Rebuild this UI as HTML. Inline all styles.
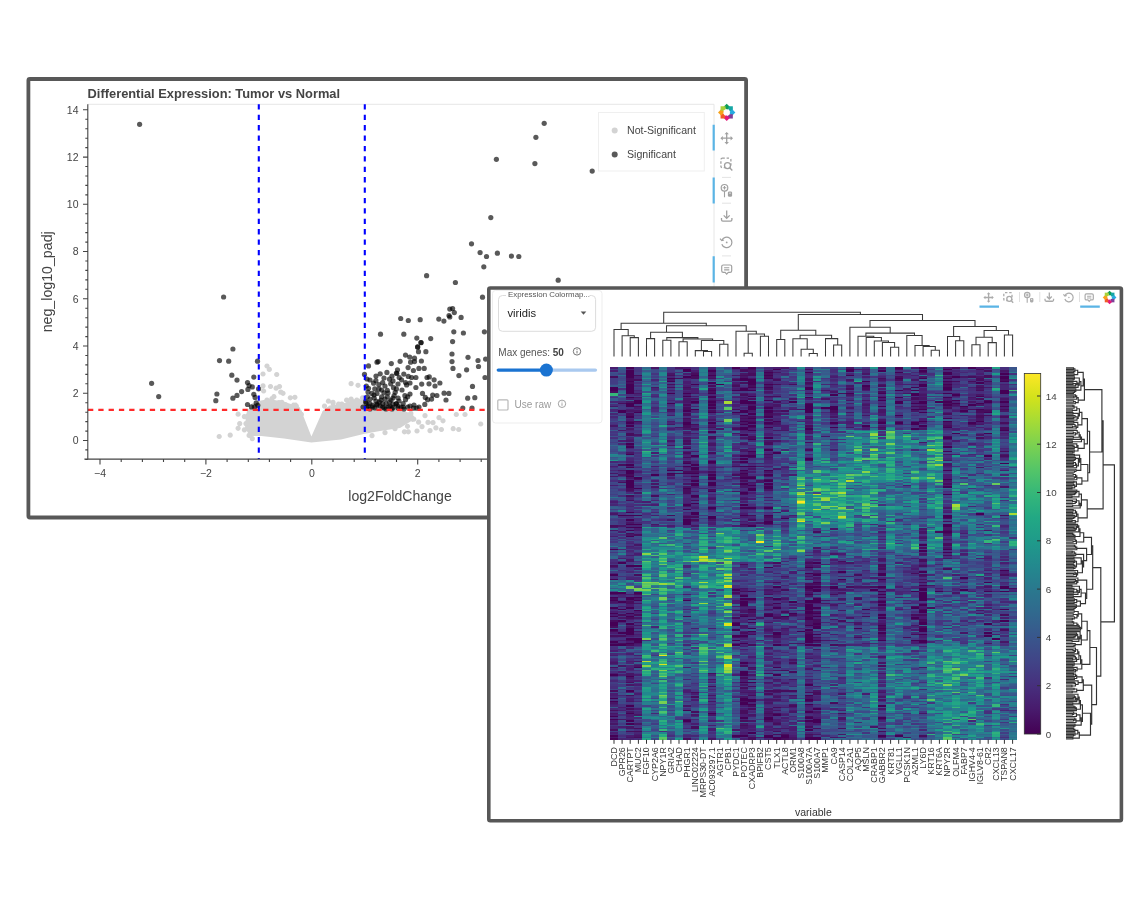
<!DOCTYPE html><html><head><meta charset="utf-8"><style>
html,body{margin:0;padding:0;background:#fff;}
body{width:1144px;height:922px;overflow:hidden;font-family:"Liberation Sans",sans-serif;}
svg{display:block;filter:blur(0.3px);}
text{font-family:"Liberation Sans",sans-serif;}
</style></head><body>
<svg width="1144" height="922" viewBox="0 0 1144 922">
<rect x="0" y="0" width="1144" height="922" fill="#fff"/>

<rect x="28.4" y="79" width="717.7" height="438.5" rx="1.5" fill="#fff" stroke="#585858" stroke-width="3.8"/>
<text x="87.6" y="97.7" font-size="12.85" font-weight="bold" fill="#444">Differential Expression: Tumor vs Normal</text>
<path d="M87.8 104.3H714V459.1" fill="none" stroke="#e6e6e6" stroke-width="1"/>
<path fill="#d3d3d3" d="M246 414L252 407L258.8 401L266 399.5L273 399.8L283 401.5L295.5 405.5L301 410L311.4 436.5L322.7 411L329.5 405.5L346.6 403.2L363.6 398.5L380 404L400 410L410 413L413 420L400 428L380 431L363.6 434L341 439.5L311.4 442.5L284 438.5L261.4 436L250 436L245 428Z"/>
<path fill="#d3d3d3" d="M285.7 402.3a2.6 2.6 0 1 0 .01 0zM346.8 404.7a2.6 2.6 0 1 0 .01 0zM350.5 404a2.6 2.6 0 1 0 .01 0zM385.9 407.8a2.6 2.6 0 1 0 .01 0zM289.3 404.9a2.6 2.6 0 1 0 .01 0zM324.5 403.5a2.6 2.6 0 1 0 .01 0zM385.7 404.4a2.6 2.6 0 1 0 .01 0zM271.1 401.4a2.6 2.6 0 1 0 .01 0zM352 401.8a2.6 2.6 0 1 0 .01 0zM369.8 400.5a2.6 2.6 0 1 0 .01 0zM358.1 398.3a2.6 2.6 0 1 0 .01 0zM344.7 404a2.6 2.6 0 1 0 .01 0zM296.3 403.5a2.6 2.6 0 1 0 .01 0zM324.9 410.4a2.6 2.6 0 1 0 .01 0zM366 398.7a2.6 2.6 0 1 0 .01 0zM399.8 409.4a2.6 2.6 0 1 0 .01 0zM379.7 400.6a2.6 2.6 0 1 0 .01 0zM392.8 408a2.6 2.6 0 1 0 .01 0zM262.3 401.3a2.6 2.6 0 1 0 .01 0zM407.2 413.7a2.6 2.6 0 1 0 .01 0zM350.6 403.3a2.6 2.6 0 1 0 .01 0zM343.7 403a2.6 2.6 0 1 0 .01 0zM343.6 402.7a2.6 2.6 0 1 0 .01 0zM401.1 410.5a2.6 2.6 0 1 0 .01 0zM389 405.2a2.6 2.6 0 1 0 .01 0zM273.2 401.8a2.6 2.6 0 1 0 .01 0zM389.7 403.8a2.6 2.6 0 1 0 .01 0zM341 405a2.6 2.6 0 1 0 .01 0zM365.2 400.1a2.6 2.6 0 1 0 .01 0zM341.8 401.5a2.6 2.6 0 1 0 .01 0zM293.6 402.6a2.6 2.6 0 1 0 .01 0zM411.3 414.6a2.6 2.6 0 1 0 .01 0zM260.8 402a2.6 2.6 0 1 0 .01 0zM271.2 399.5a2.6 2.6 0 1 0 .01 0zM295.1 407a2.6 2.6 0 1 0 .01 0zM253.4 402.9a2.6 2.6 0 1 0 .01 0zM348.6 401a2.6 2.6 0 1 0 .01 0zM301.3 411.8a2.6 2.6 0 1 0 .01 0zM393.1 407.2a2.6 2.6 0 1 0 .01 0zM412.7 416.7a2.6 2.6 0 1 0 .01 0zM297.7 406.5a2.6 2.6 0 1 0 .01 0zM251.2 408.5a2.6 2.6 0 1 0 .01 0zM279 400.1a2.6 2.6 0 1 0 .01 0zM272.1 400.1a2.6 2.6 0 1 0 .01 0zM253.1 406.8a2.6 2.6 0 1 0 .01 0zM406.1 412.9a2.6 2.6 0 1 0 .01 0zM395.7 408.9a2.6 2.6 0 1 0 .01 0zM332.8 405.3a2.6 2.6 0 1 0 .01 0zM353.5 400.8a2.6 2.6 0 1 0 .01 0zM349.6 402.8a2.6 2.6 0 1 0 .01 0zM403.1 410.7a2.6 2.6 0 1 0 .01 0zM366.3 401.5a2.6 2.6 0 1 0 .01 0zM285.7 402.4a2.6 2.6 0 1 0 .01 0zM333 400.7a2.6 2.6 0 1 0 .01 0zM337.6 404a2.6 2.6 0 1 0 .01 0zM342.8 405.7a2.6 2.6 0 1 0 .01 0zM249.3 409.7a2.6 2.6 0 1 0 .01 0zM256 403.3a2.6 2.6 0 1 0 .01 0zM350.8 400.6a2.6 2.6 0 1 0 .01 0zM364.1 400.1a2.6 2.6 0 1 0 .01 0zM369.2 401.7a2.6 2.6 0 1 0 .01 0zM358.9 401.9a2.6 2.6 0 1 0 .01 0zM406.9 414.8a2.6 2.6 0 1 0 .01 0zM345 402.9a2.6 2.6 0 1 0 .01 0zM299.4 409.5a2.6 2.6 0 1 0 .01 0zM345.5 403.9a2.6 2.6 0 1 0 .01 0zM296.2 405.2a2.6 2.6 0 1 0 .01 0zM250.5 408a2.6 2.6 0 1 0 .01 0zM341.1 405.9a2.6 2.6 0 1 0 .01 0zM283.2 401.6a2.6 2.6 0 1 0 .01 0zM380.2 406.2a2.6 2.6 0 1 0 .01 0zM362.6 399.4a2.6 2.6 0 1 0 .01 0zM263 401.3a2.6 2.6 0 1 0 .01 0zM385.2 405.7a2.6 2.6 0 1 0 .01 0zM388.9 407.8a2.6 2.6 0 1 0 .01 0zM354.6 401.2a2.6 2.6 0 1 0 .01 0zM393.8 408.6a2.6 2.6 0 1 0 .01 0zM266.2 401.2a2.6 2.6 0 1 0 .01 0zM334.4 405.4a2.6 2.6 0 1 0 .01 0zM386 403.8a2.6 2.6 0 1 0 .01 0zM276.7 401.8a2.6 2.6 0 1 0 .01 0zM353.2 399.1a2.6 2.6 0 1 0 .01 0zM380.6 405.7a2.6 2.6 0 1 0 .01 0zM294.7 406.4a2.6 2.6 0 1 0 .01 0zM378.6 405.4a2.6 2.6 0 1 0 .01 0zM399.7 409.8a2.6 2.6 0 1 0 .01 0zM272 396a2.6 2.6 0 1 0 .01 0zM393 409.9a2.6 2.6 0 1 0 .01 0zM410.8 410.8a2.6 2.6 0 1 0 .01 0zM400.9 410.1a2.6 2.6 0 1 0 .01 0zM283.1 403.6a2.6 2.6 0 1 0 .01 0zM356.7 397.8a2.6 2.6 0 1 0 .01 0zM332.7 406.7a2.6 2.6 0 1 0 .01 0zM284 401.8a2.6 2.6 0 1 0 .01 0zM257.4 402.7a2.6 2.6 0 1 0 .01 0zM381.3 405.5a2.6 2.6 0 1 0 .01 0zM253.5 404.7a2.6 2.6 0 1 0 .01 0zM400.3 410.1a2.6 2.6 0 1 0 .01 0zM395.7 408.3a2.6 2.6 0 1 0 .01 0zM219.2 433.9a2.6 2.6 0 1 0 .01 0zM230.2 432.5a2.6 2.6 0 1 0 .01 0zM238.1 425.7a2.6 2.6 0 1 0 .01 0zM244.4 427.3a2.6 2.6 0 1 0 .01 0zM239.7 421a2.6 2.6 0 1 0 .01 0zM246 421a2.6 2.6 0 1 0 .01 0zM238.1 411.6a2.6 2.6 0 1 0 .01 0zM244.4 414a2.6 2.6 0 1 0 .01 0zM249.1 432.8a2.6 2.6 0 1 0 .01 0zM252.3 436a2.6 2.6 0 1 0 .01 0zM267 363.4a2.6 2.6 0 1 0 .01 0zM269.3 366.8a2.6 2.6 0 1 0 .01 0zM263 371.4a2.6 2.6 0 1 0 .01 0zM276.7 371.9a2.6 2.6 0 1 0 .01 0zM263 383.3a2.6 2.6 0 1 0 .01 0zM270.5 383.9a2.6 2.6 0 1 0 .01 0zM276.1 385.6a2.6 2.6 0 1 0 .01 0zM279.5 383.9a2.6 2.6 0 1 0 .01 0zM263.6 388.4a2.6 2.6 0 1 0 .01 0zM280.7 389.5a2.6 2.6 0 1 0 .01 0zM283 390.7a2.6 2.6 0 1 0 .01 0zM267 397.5a2.6 2.6 0 1 0 .01 0zM273.9 394.1a2.6 2.6 0 1 0 .01 0zM281.8 399.8a2.6 2.6 0 1 0 .01 0zM290.3 395.2a2.6 2.6 0 1 0 .01 0zM294.9 394.7a2.6 2.6 0 1 0 .01 0zM295.5 402.6a2.6 2.6 0 1 0 .01 0zM351.1 381a2.6 2.6 0 1 0 .01 0zM358 382.7a2.6 2.6 0 1 0 .01 0zM328.4 398.6a2.6 2.6 0 1 0 .01 0zM333 399.8a2.6 2.6 0 1 0 .01 0zM338.6 401.5a2.6 2.6 0 1 0 .01 0zM346.6 397.5a2.6 2.6 0 1 0 .01 0zM351.1 396.4a2.6 2.6 0 1 0 .01 0zM356.8 397.5a2.6 2.6 0 1 0 .01 0zM362.5 395.2a2.6 2.6 0 1 0 .01 0zM410.7 412.7a2.6 2.6 0 1 0 .01 0zM418.6 419.5a2.6 2.6 0 1 0 .01 0zM413.8 416.6a2.6 2.6 0 1 0 .01 0zM428 419.8a2.6 2.6 0 1 0 .01 0zM439 415a2.6 2.6 0 1 0 .01 0zM443 418.2a2.6 2.6 0 1 0 .01 0zM435.9 425.3a2.6 2.6 0 1 0 .01 0zM441.4 426.9a2.6 2.6 0 1 0 .01 0zM453.2 426.1a2.6 2.6 0 1 0 .01 0zM458.7 426.9a2.6 2.6 0 1 0 .01 0zM456.3 411.9a2.6 2.6 0 1 0 .01 0zM465 411.9a2.6 2.6 0 1 0 .01 0zM480.7 421.4a2.6 2.6 0 1 0 .01 0zM404.4 429.2a2.6 2.6 0 1 0 .01 0zM408.3 429.2a2.6 2.6 0 1 0 .01 0zM417 428.4a2.6 2.6 0 1 0 .01 0zM407.5 423.7a2.6 2.6 0 1 0 .01 0zM395 426a2.6 2.6 0 1 0 .01 0zM422 424a2.6 2.6 0 1 0 .01 0zM430 428a2.6 2.6 0 1 0 .01 0zM385 430a2.6 2.6 0 1 0 .01 0zM372 433a2.6 2.6 0 1 0 .01 0zM425 413a2.6 2.6 0 1 0 .01 0zM433 420a2.6 2.6 0 1 0 .01 0z"/>
<g fill="#000" fill-opacity="0.65"><circle cx="139.6" cy="124.3" r="2.6"/><circle cx="223.6" cy="297" r="2.6"/><circle cx="544.2" cy="123.3" r="2.6"/><circle cx="535.9" cy="137.3" r="2.6"/><circle cx="496.4" cy="159.3" r="2.6"/><circle cx="534.9" cy="163.6" r="2.6"/><circle cx="592.2" cy="171.1" r="2.6"/><circle cx="490.8" cy="217.6" r="2.6"/><circle cx="471.5" cy="243.8" r="2.6"/><circle cx="480.1" cy="252.6" r="2.6"/><circle cx="486.5" cy="256.5" r="2.6"/><circle cx="497.4" cy="253.2" r="2.6"/><circle cx="511.4" cy="256.1" r="2.6"/><circle cx="518.8" cy="256.5" r="2.6"/><circle cx="483.8" cy="266.8" r="2.6"/><circle cx="426.6" cy="275.7" r="2.6"/><circle cx="455.4" cy="282.5" r="2.6"/><circle cx="558.2" cy="280.2" r="2.6"/><circle cx="232.9" cy="349" r="2.6"/><circle cx="219.5" cy="360.6" r="2.6"/><circle cx="228.7" cy="361.2" r="2.6"/><circle cx="257.5" cy="361.2" r="2.6"/><circle cx="231.8" cy="375.2" r="2.6"/><circle cx="237" cy="380.1" r="2.6"/><circle cx="253.8" cy="377.1" r="2.6"/><circle cx="151.6" cy="383.3" r="2.6"/><circle cx="247.5" cy="382.5" r="2.6"/><circle cx="249.1" cy="385.6" r="2.6"/><circle cx="252.3" cy="386.9" r="2.6"/><circle cx="247.9" cy="389.4" r="2.6"/><circle cx="258.6" cy="388.8" r="2.6"/><circle cx="241.6" cy="391.6" r="2.6"/><circle cx="237" cy="395.4" r="2.6"/><circle cx="232.9" cy="398.2" r="2.6"/><circle cx="216.9" cy="394" r="2.6"/><circle cx="215.8" cy="400.7" r="2.6"/><circle cx="158.7" cy="396.6" r="2.6"/><circle cx="253.8" cy="394.3" r="2.6"/><circle cx="255.1" cy="397.4" r="2.6"/><circle cx="247.5" cy="404.5" r="2.6"/><circle cx="251.5" cy="406.9" r="2.6"/><circle cx="256.2" cy="402.9" r="2.6"/><circle cx="254.6" cy="406.9" r="2.6"/><circle cx="257.8" cy="405.3" r="2.6"/><circle cx="482.5" cy="297.2" r="2.6"/><circle cx="449.8" cy="309.1" r="2.6"/><circle cx="452.6" cy="308.5" r="2.6"/><circle cx="454.3" cy="312.6" r="2.6"/><circle cx="449" cy="315.5" r="2.6"/><circle cx="449.8" cy="317" r="2.6"/><circle cx="461.1" cy="317.4" r="2.6"/><circle cx="400.7" cy="318.5" r="2.6"/><circle cx="408.3" cy="320.5" r="2.6"/><circle cx="420.2" cy="319.7" r="2.6"/><circle cx="438.8" cy="319.1" r="2.6"/><circle cx="443.9" cy="321.1" r="2.6"/><circle cx="380.5" cy="334.2" r="2.6"/><circle cx="403.8" cy="334.2" r="2.6"/><circle cx="453.8" cy="331.8" r="2.6"/><circle cx="463.4" cy="333" r="2.6"/><circle cx="484.4" cy="331.8" r="2.6"/><circle cx="416.8" cy="338.1" r="2.6"/><circle cx="430.7" cy="338.6" r="2.6"/><circle cx="421" cy="342.7" r="2.6"/><circle cx="452.6" cy="341.6" r="2.6"/><circle cx="417.6" cy="346.9" r="2.6"/><circle cx="421" cy="342.5" r="2.6"/><circle cx="417.7" cy="347" r="2.6"/><circle cx="418.5" cy="351.7" r="2.6"/><circle cx="425.9" cy="351.7" r="2.6"/><circle cx="452" cy="354" r="2.6"/><circle cx="452" cy="361.6" r="2.6"/><circle cx="453" cy="368.4" r="2.6"/><circle cx="468" cy="357.3" r="2.6"/><circle cx="478" cy="360.5" r="2.6"/><circle cx="478.5" cy="366.5" r="2.6"/><circle cx="485.6" cy="359.1" r="2.6"/><circle cx="466.6" cy="369.8" r="2.6"/><circle cx="458.9" cy="375.6" r="2.6"/><circle cx="485" cy="377.5" r="2.6"/><circle cx="472.5" cy="386.4" r="2.6"/><circle cx="467.7" cy="398.2" r="2.6"/><circle cx="474.8" cy="397.7" r="2.6"/><circle cx="462.8" cy="408" r="2.6"/><circle cx="472" cy="408" r="2.6"/><circle cx="444.1" cy="393.2" r="2.6"/><circle cx="448.9" cy="393.4" r="2.6"/><circle cx="446" cy="400" r="2.6"/><circle cx="439.9" cy="383" r="2.6"/><circle cx="435" cy="386" r="2.6"/><circle cx="429" cy="383.8" r="2.6"/><circle cx="434.1" cy="379.8" r="2.6"/><circle cx="429.3" cy="376.9" r="2.6"/><circle cx="427" cy="377.5" r="2.6"/><circle cx="421.7" cy="384.1" r="2.6"/><circle cx="415.9" cy="387.5" r="2.6"/><circle cx="415.9" cy="377.5" r="2.6"/><circle cx="411.7" cy="377.5" r="2.6"/><circle cx="424.2" cy="368.4" r="2.6"/><circle cx="418.9" cy="368.4" r="2.6"/><circle cx="421.4" cy="361" r="2.6"/><circle cx="414.5" cy="358.2" r="2.6"/><circle cx="414.5" cy="361.6" r="2.6"/><circle cx="410.6" cy="362.2" r="2.6"/><circle cx="409.7" cy="357" r="2.6"/><circle cx="405.5" cy="355.1" r="2.6"/><circle cx="400.1" cy="361.3" r="2.6"/><circle cx="391.3" cy="363.6" r="2.6"/><circle cx="377" cy="362.2" r="2.6"/><circle cx="378.2" cy="361.6" r="2.6"/><circle cx="368.5" cy="365.9" r="2.6"/><circle cx="364.5" cy="374.4" r="2.6"/><circle cx="380.2" cy="373.8" r="2.6"/><circle cx="386.9" cy="372.4" r="2.6"/><circle cx="397.5" cy="369.8" r="2.6"/><circle cx="396.9" cy="373.5" r="2.6"/><circle cx="408.1" cy="367.6" r="2.6"/><circle cx="413.4" cy="370.5" r="2.6"/><circle cx="403.8" cy="374.1" r="2.6"/><circle cx="408.3" cy="376.4" r="2.6"/><circle cx="399.2" cy="377.5" r="2.6"/><circle cx="401.5" cy="379.8" r="2.6"/><circle cx="405.5" cy="382.6" r="2.6"/><circle cx="406.6" cy="384.9" r="2.6"/><circle cx="410" cy="383" r="2.6"/><circle cx="389.5" cy="379.2" r="2.6"/><circle cx="393" cy="380.9" r="2.6"/><circle cx="390.7" cy="383.8" r="2.6"/><circle cx="382.7" cy="382.6" r="2.6"/><circle cx="375.9" cy="380.7" r="2.6"/><circle cx="373.6" cy="383.2" r="2.6"/><circle cx="378.8" cy="384.7" r="2.6"/><circle cx="366.3" cy="386" r="2.6"/><circle cx="368.5" cy="388.3" r="2.6"/><circle cx="374.8" cy="388.9" r="2.6"/><circle cx="381.6" cy="390" r="2.6"/><circle cx="387.3" cy="390.3" r="2.6"/><circle cx="393.5" cy="387.7" r="2.6"/><circle cx="396.4" cy="388.9" r="2.6"/><circle cx="395.2" cy="392.3" r="2.6"/><circle cx="371.9" cy="393.4" r="2.6"/><circle cx="377" cy="393.4" r="2.6"/><circle cx="383.9" cy="392.8" r="2.6"/><circle cx="387.3" cy="396.8" r="2.6"/><circle cx="381.6" cy="396.8" r="2.6"/><circle cx="374.2" cy="398" r="2.6"/><circle cx="367.4" cy="396.8" r="2.6"/><circle cx="365.7" cy="401.4" r="2.6"/><circle cx="398.1" cy="398" r="2.6"/><circle cx="394.1" cy="395.7" r="2.6"/><circle cx="410" cy="394" r="2.6"/><circle cx="407.7" cy="396.8" r="2.6"/><circle cx="404.9" cy="395.7" r="2.6"/><circle cx="405.5" cy="399.7" r="2.6"/><circle cx="403.2" cy="403.6" r="2.6"/><circle cx="422.5" cy="393.4" r="2.6"/><circle cx="425.3" cy="397.4" r="2.6"/><circle cx="427.6" cy="399.7" r="2.6"/><circle cx="432.7" cy="395.1" r="2.6"/><circle cx="436.9" cy="395.5" r="2.6"/><circle cx="431.6" cy="399.1" r="2.6"/><circle cx="424.8" cy="404.4" r="2.6"/><circle cx="369.7" cy="403.6" r="2.6"/><circle cx="372.5" cy="405.3" r="2.6"/><circle cx="379.3" cy="401.9" r="2.6"/><circle cx="382.7" cy="403.6" r="2.6"/><circle cx="386.1" cy="403.6" r="2.6"/><circle cx="389.5" cy="401.9" r="2.6"/><circle cx="393" cy="404.2" r="2.6"/><circle cx="396.4" cy="403.6" r="2.6"/><circle cx="366.8" cy="407" r="2.6"/><circle cx="372.5" cy="407" r="2.6"/><circle cx="382.7" cy="407" r="2.6"/><circle cx="388.4" cy="407" r="2.6"/><circle cx="393" cy="407.6" r="2.6"/><circle cx="403.2" cy="407" r="2.6"/><circle cx="407.7" cy="407" r="2.6"/><circle cx="413.4" cy="408.2" r="2.6"/><circle cx="416.8" cy="408.2" r="2.6"/><circle cx="396.4" cy="373" r="2.6"/><circle cx="370" cy="399" r="2.6"/><circle cx="376" cy="401" r="2.6"/><circle cx="385" cy="399" r="2.6"/><circle cx="391" cy="400" r="2.6"/><circle cx="368" cy="392" r="2.6"/><circle cx="379" cy="389" r="2.6"/><circle cx="385" cy="386" r="2.6"/><circle cx="399" cy="401" r="2.6"/><circle cx="370" cy="380" r="2.6"/><circle cx="376" cy="376" r="2.6"/><circle cx="384" cy="378" r="2.6"/><circle cx="392" cy="376" r="2.6"/><circle cx="398" cy="384" r="2.6"/><circle cx="402" cy="390" r="2.6"/><circle cx="388" cy="393" r="2.6"/><circle cx="377" cy="405" r="2.6"/><circle cx="384" cy="408" r="2.6"/><circle cx="398" cy="408" r="2.6"/><circle cx="367" cy="379" r="2.6"/><circle cx="393" cy="398" r="2.6"/><circle cx="381" cy="400" r="2.6"/><circle cx="374" cy="395" r="2.6"/><circle cx="390" cy="406" r="2.6"/><circle cx="368" cy="406" r="2.6"/><circle cx="375" cy="408" r="2.6"/><circle cx="380" cy="406" r="2.6"/><circle cx="386" cy="409" r="2.6"/><circle cx="392" cy="409" r="2.6"/><circle cx="398" cy="406" r="2.6"/><circle cx="404" cy="409" r="2.6"/><circle cx="410" cy="406" r="2.6"/><circle cx="370" cy="409" r="2.6"/><circle cx="377" cy="404" r="2.6"/><circle cx="396" cy="404" r="2.6"/><circle cx="401" cy="407" r="2.6"/><circle cx="414" cy="405" r="2.6"/><circle cx="419" cy="407" r="2.6"/><circle cx="363" cy="407" r="2.6"/><circle cx="366" cy="403" r="2.6"/></g>
<!--DARKCLUSTER-->
<path d="M258.8 104.3V459.1M364.8 104.3V459.1" stroke="#0000ff" stroke-width="2.1" stroke-dasharray="5.3 5.1"/>
<path d="M88 409.8H714" stroke="#ff2a2a" stroke-width="2.2" stroke-dasharray="5.3 5"/>
<path d="M87.8 104.3V459.1M84.4 459.1H714M83 440.5H87.8M83 393.3H87.8M83 346H87.8M83 298.8H87.8M83 251.5H87.8M83 204.3H87.8M83 157.1H87.8M83 109.8H87.8M85.3 459.4H87.8M85.3 449.9H87.8M85.3 431.1H87.8M85.3 421.6H87.8M85.3 412.2H87.8M85.3 402.7H87.8M85.3 383.8H87.8M85.3 374.4H87.8M85.3 364.9H87.8M85.3 355.5H87.8M85.3 336.6H87.8M85.3 327.1H87.8M85.3 317.7H87.8M85.3 308.2H87.8M85.3 289.3H87.8M85.3 279.9H87.8M85.3 270.4H87.8M85.3 261H87.8M85.3 242.1H87.8M85.3 232.6H87.8M85.3 223.2H87.8M85.3 213.7H87.8M85.3 194.9H87.8M85.3 185.4H87.8M85.3 176H87.8M85.3 166.5H87.8M85.3 147.6H87.8M85.3 138.2H87.8M85.3 128.7H87.8M85.3 119.3H87.8M100 459.1V464.6M205.9 459.1V464.6M311.8 459.1V464.6M417.7 459.1V464.6M523.6 459.1V464.6M629.5 459.1V464.6M121.2 459.1V461.9M142.4 459.1V461.9M163.5 459.1V461.9M184.7 459.1V461.9M227.1 459.1V461.9M248.3 459.1V461.9M269.4 459.1V461.9M290.6 459.1V461.9M333 459.1V461.9M354.2 459.1V461.9M375.3 459.1V461.9M396.5 459.1V461.9M438.9 459.1V461.9M460.1 459.1V461.9M481.2 459.1V461.9M502.4 459.1V461.9M544.8 459.1V461.9M566 459.1V461.9M587.1 459.1V461.9M608.3 459.1V461.9M650.7 459.1V461.9M671.9 459.1V461.9M693 459.1V461.9M714.2 459.1V461.9" stroke="#444" stroke-width="1.1" fill="none"/>
<g font-size="10.5" fill="#444"><text x="78.5" y="444.2" text-anchor="end">0</text><text x="78.5" y="397" text-anchor="end">2</text><text x="78.5" y="349.7" text-anchor="end">4</text><text x="78.5" y="302.5" text-anchor="end">6</text><text x="78.5" y="255.2" text-anchor="end">8</text><text x="78.5" y="208" text-anchor="end">10</text><text x="78.5" y="160.8" text-anchor="end">12</text><text x="78.5" y="113.5" text-anchor="end">14</text><text x="100" y="476.6" text-anchor="middle">−4</text><text x="205.9" y="476.6" text-anchor="middle">−2</text><text x="311.8" y="476.6" text-anchor="middle">0</text><text x="417.7" y="476.6" text-anchor="middle">2</text><text x="523.6" y="476.6" text-anchor="middle">4</text><text x="629.5" y="476.6" text-anchor="middle">6</text></g>
<text x="400" y="501.2" font-size="14.1" fill="#444" text-anchor="middle">log2FoldChange</text>
<text transform="translate(51.6 281.8) rotate(-90)" font-size="14.2" fill="#444" text-anchor="middle">neg_log10_padj</text>
<rect x="598.5" y="112.5" width="105.8" height="58.5" fill="#fff" fill-opacity="0.9" stroke="#efefef" stroke-width="1"/>
<circle cx="614.7" cy="130.5" r="3" fill="#d3d3d3"/><circle cx="614.7" cy="154.5" r="3" fill="#000" fill-opacity="0.65"/>
<text x="627" y="133.6" font-size="10.6" fill="#444">Not-Significant</text><text x="627" y="157.8" font-size="10.6" fill="#444">Significant</text>
<rect x="724.52" y="104.62" width="4.37" height="5.02" fill="#0d9d58" transform="rotate(-45.0 726.70 106.80)"/><rect x="728.48" y="106.26" width="4.37" height="5.02" fill="#16a7a4" transform="rotate(0.0 730.66 108.44)"/><rect x="730.12" y="110.22" width="4.37" height="5.02" fill="#27aae1" transform="rotate(45.0 732.30 112.40)"/><rect x="728.48" y="114.18" width="4.37" height="5.02" fill="#7f3f98" transform="rotate(90.0 730.66 116.36)"/><rect x="724.52" y="115.82" width="4.37" height="5.02" fill="#e4197c" transform="rotate(135.0 726.70 118.00)"/><rect x="720.56" y="114.18" width="4.37" height="5.02" fill="#f15a29" transform="rotate(180.0 722.74 116.36)"/><rect x="718.92" y="110.22" width="4.37" height="5.02" fill="#f7a21b" transform="rotate(225.0 721.10 112.40)"/><rect x="720.56" y="106.26" width="4.37" height="5.02" fill="#a9d038" transform="rotate(270.0 722.74 108.44)"/><circle cx="726.70" cy="112.40" r="3.20" fill="#fff"/>
<path d="M726.70 133.70V142.70M722.20 138.20H731.20" stroke="#a0a0a0" stroke-width="1.3" fill="none"/><path d="M726.70 131.90L724.50 134.30L728.90 134.30ZM726.70 144.50L724.50 142.10L728.90 142.10ZM720.40 138.20L722.80 136.00L722.80 140.40ZM733.00 138.20L730.60 136.00L730.60 140.40Z" fill="#a0a0a0"/>
<rect x="720.9" y="158.2" width="10.0" height="9.5" rx="1.5" stroke="#a0a0a0" stroke-width="1.3" fill="none" stroke-dasharray="2.4 1.8"/><circle cx="727.5" cy="165.6" r="3.0" stroke="#a0a0a0" stroke-width="1.3" fill="#fff"/><path d="M729.7 167.8l2.6 2.6" stroke="#a0a0a0" stroke-width="1.4"/>
<circle cx="724.5" cy="187.8" r="3.3" stroke="#a0a0a0" stroke-width="1.2" fill="none"/><path d="M724.5 186.0v3.6M722.7 187.8h3.6M724.5 191.1v6.2" stroke="#a0a0a0" stroke-width="1.1"/><rect x="727.9" y="191.4" width="4.2" height="5.4" rx="1.4" fill="#a0a0a0"/><path d="M730.0 192.4v1.6" stroke="#fff" stroke-width="0.8"/>
<path d="M726.70 210.60V218.20M723.70 215.40L726.70 218.40L729.70 215.40M721.50 218.10V219.80Q721.50 221.20 722.90 221.20H730.50Q731.90 221.20 731.90 219.80V218.10" stroke="#a0a0a0" stroke-width="1.3" fill="none"/>
<path d="M721.81 244.18A5.20 5.20 0 1 0 721.81 240.62" stroke="#a0a0a0" stroke-width="1.2" fill="none"/><path d="M720.0 238.6l1.8 2.0l2.2 -0.6" stroke="#a0a0a0" stroke-width="1.2" fill="none"/><circle cx="726.7" cy="242.4" r="0.9" fill="#a0a0a0"/>
<path d="M723.30 265.00H730.10Q731.70 265.00 731.70 266.60V270.70Q731.70 272.30 730.10 272.30H728.30L726.70 274.10L725.10 272.30H723.30Q721.70 272.30 721.70 270.70V266.60Q721.70 265.00 723.30 265.00Z" stroke="#a0a0a0" stroke-width="1.2" fill="none"/><path d="M724.10 267.70h5.20M724.10 269.90h5.20" stroke="#a0a0a0" stroke-width="1.1"/>
<path d="M722 177.4h9M722 203.2h9M722 255.9h9" stroke="#e3e3e3" stroke-width="1"/>
<path d="M713.7 124.8V150.6M713.7 177.5V203.4M713.7 256.3V282.4" stroke="#5ab4e5" stroke-width="2.2"/>
<rect x="488.8" y="288" width="632.6" height="532.8" rx="1.5" fill="#fff" stroke="#575757" stroke-width="3.6"/>
<rect x="492.5" y="290.5" width="109.5" height="132.5" rx="3" fill="#fff" stroke="#ededed" stroke-width="1"/>
<path d="M506 295.5H502.5Q498.5 295.5 498.5 299.5V327.3Q498.5 331.3 502.5 331.3H591.6Q595.6 331.3 595.6 327.3V299.5Q595.6 295.5 591.6 295.5H589.5" fill="none" stroke="#dcdcdc" stroke-width="1"/>
<text x="508" y="297" font-size="7.9" fill="#555">Expression Colormap...</text>
<text x="507.5" y="316.6" font-size="11.2" fill="#222">viridis</text>
<path d="M580.7 311.5h5.6l-2.8 3.3z" fill="#555"/>
<text x="498.3" y="355.8" font-size="10" fill="#555">Max genes: <tspan font-weight="bold" fill="#444">50</tspan></text>
<circle cx="577.0" cy="351.4" r="3.7" fill="none" stroke="#666" stroke-width="0.9"/><path d="M577.0 350.8v2.6" stroke="#666" stroke-width="0.9"/><circle cx="577.0" cy="349.5" r="0.5" fill="#666"/>
<path d="M498.3 370.1H546.4" stroke="#1a73d1" stroke-width="3.4" stroke-linecap="round"/><path d="M546.4 370.1H595.4" stroke="#a9c9ef" stroke-width="3.4" stroke-linecap="round"/>
<circle cx="546.4" cy="370.1" r="6.5" fill="#1a73d1"/>
<rect x="497.8" y="399.8" width="10.2" height="10.2" rx="1" fill="#fff" stroke="#b8b8b8" stroke-width="1.2"/>
<text x="514.5" y="407.9" font-size="10" fill="#9a9a9a">Use raw</text>
<circle cx="562.0" cy="403.8" r="3.7" fill="none" stroke="#999" stroke-width="0.9"/><path d="M562.0 403.2v2.6" stroke="#999" stroke-width="0.9"/><circle cx="562.0" cy="401.9" r="0.5" fill="#999"/>
<path d="M988.60 293.81V301.19M984.91 297.50H992.29" stroke="#ababab" stroke-width="1.3" fill="none"/><path d="M988.60 292.33L986.80 294.30L990.40 294.30ZM988.60 302.67L986.80 300.70L990.40 300.70ZM983.43 297.50L985.40 295.70L985.40 299.30ZM993.77 297.50L991.80 295.70L991.80 299.30Z" fill="#ababab"/>
<rect x="1003.8" y="292.7" width="8.2" height="7.8" rx="1.2" stroke="#ababab" stroke-width="1.3" fill="none" stroke-dasharray="2.4 1.8"/><circle cx="1009.3" cy="298.8" r="2.5" stroke="#ababab" stroke-width="1.3" fill="#fff"/><path d="M1011.1 300.6l2.1 2.1" stroke="#ababab" stroke-width="1.4"/>
<circle cx="1027.2" cy="295.0" r="2.7" stroke="#ababab" stroke-width="1.2" fill="none"/><path d="M1027.2 293.6v3.0M1025.7 295.0h3.0M1027.2 297.7v5.1" stroke="#ababab" stroke-width="1.1"/><rect x="1030.0" y="298.0" width="3.4" height="4.4" rx="1.1" fill="#ababab"/><path d="M1031.7 298.8v1.3" stroke="#fff" stroke-width="0.8"/>
<path d="M1049.30 292.58V298.81M1046.84 296.52L1049.30 298.98L1051.76 296.52M1045.04 298.73V300.12Q1045.04 301.27 1046.18 301.27H1052.42Q1053.56 301.27 1053.56 300.12V298.73" stroke="#ababab" stroke-width="1.3" fill="none"/>
<path d="M1064.89 298.96A4.26 4.26 0 1 0 1064.89 296.04" stroke="#ababab" stroke-width="1.2" fill="none"/><path d="M1063.4 294.4l1.5 1.6l1.8 -0.5" stroke="#ababab" stroke-width="1.2" fill="none"/><circle cx="1068.9" cy="297.5" r="0.7" fill="#ababab"/>
<path d="M1086.41 293.97H1091.99Q1093.30 293.97 1093.30 295.29V298.65Q1093.30 299.96 1091.99 299.96H1090.51L1089.20 301.44L1087.89 299.96H1086.41Q1085.10 299.96 1085.10 298.65V295.29Q1085.10 293.97 1086.41 293.97Z" stroke="#ababab" stroke-width="1.2" fill="none"/><path d="M1087.07 296.19h4.26M1087.07 297.99h4.26" stroke="#ababab" stroke-width="1.1"/>
<rect x="1107.86" y="291.36" width="3.47" height="3.99" fill="#0d9d58" transform="rotate(-45.0 1109.60 293.10)"/><rect x="1110.98" y="292.65" width="3.47" height="3.99" fill="#16a7a4" transform="rotate(0.0 1112.71 294.39)"/><rect x="1112.26" y="295.76" width="3.47" height="3.99" fill="#27aae1" transform="rotate(45.0 1114.00 297.50)"/><rect x="1110.98" y="298.88" width="3.47" height="3.99" fill="#7f3f98" transform="rotate(90.0 1112.71 300.61)"/><rect x="1107.86" y="300.16" width="3.47" height="3.99" fill="#e4197c" transform="rotate(135.0 1109.60 301.90)"/><rect x="1104.75" y="298.88" width="3.47" height="3.99" fill="#f15a29" transform="rotate(180.0 1106.49 300.61)"/><rect x="1103.46" y="295.76" width="3.47" height="3.99" fill="#f7a21b" transform="rotate(225.0 1105.20 297.50)"/><rect x="1104.75" y="292.65" width="3.47" height="3.99" fill="#a9d038" transform="rotate(270.0 1106.49 294.39)"/><circle cx="1109.60" cy="297.50" r="2.00" fill="#fff"/>
<path d="M1019.5 292v10M1039.8 292v10M1079.5 292v10" stroke="#e0e0e0" stroke-width="1"/>
<path d="M979.5 306.7H999M1080.2 306.7H1099.8" stroke="#5ab4e5" stroke-width="2.2"/>
<path d="M630.2 356.5V337.6H638.4V356.5M622.1 356.5V335.7H634.3V337.6M614 356.5V329.4H628.2V335.7M646.5 356.5V338.6H654.6V356.5M662.8 356.5V340.2H670.9V356.5M679 356.5V341.7H687.2V356.5M703.5 356.5V351.5H711.6V356.5M695.3 356.5V350.6H707.5V351.5M719.7 356.5V344.2H727.9V356.5M701.4 350.6V340.5H723.8V344.2M683.1 341.7V339H712.6V340.5M666.8 340.2V337.6H697.9V339M650.6 338.6V332.3H682.4V337.6M744.1 356.5V353.3H752.3V356.5M760.4 356.5V336.2H768.5V356.5M748.2 353.3V333.9H764.5V336.2M736 356.5V331.2H756.3V333.9M666.5 332.3V325.8H746.2V331.2M621.1 329.4V323.2H706.3V325.8M776.7 356.5V339.4H784.8V356.5M809.2 356.5V353.5H817.3V356.5M801.1 356.5V349.3H813.3V353.5M792.9 356.5V338.8H807.2V349.3M833.6 356.5V344.9H841.7V356.5M825.5 356.5V338.6H837.7V344.9M800.1 338.8V335.2H831.6V338.6M780.7 339.4V330.2H815.8V335.2M890.6 356.5V347.3H898.7V356.5M882.4 356.5V342.4H894.6V347.3M874.3 356.5V340.9H888.5V342.4M866.2 356.5V337.5H881.4V340.9M858 356.5V336.3H873.8V337.5M931.2 356.5V350.3H939.4V356.5M923.1 356.5V346.4H935.3V350.3M915 356.5V345.4H929.2V346.4M906.8 356.5V335.4H922.1V345.4M865.9 336.3V333.1H914.5V335.4M849.9 356.5V327.3H890.2V333.1M955.6 356.5V340.7H963.8V356.5M947.5 356.5V336.5H959.7V340.7M971.9 356.5V344.7H980V356.5M988.2 356.5V342.6H996.3V356.5M976 344.7V337.3H992.2V342.6M1004.4 356.5V334.9H1012.6V356.5M984.1 337.3V330.4H1008.5V334.9M953.6 336.5V326.5H996.3V330.4M870 327.3V320.5H975V326.5M798.3 330.2V314.4H922.5V320.5M663.7 323.2V312.3H860.4V314.4" fill="none" stroke="#3a3a3a" stroke-width="1.05"/>
<defs><filter id="soft" x="-2%" y="-2%" width="104%" height="104%"><feGaussianBlur stdDeviation="0.3 0.45"/></filter></defs>
<g filter="url(#soft)"><g shape-rendering="crispEdges" transform="translate(609.9 367.2) scale(8.1350 1.48960)"><path fill="#440154" d="M0 13h1v3h-1zM0 122h1v1h-1zM0 139h1v1h-1zM0 142h1v1h-1zM0 151h1v1h-1zM0 154h1v1h-1zM0 156h1v1h-1zM0 161h1v1h-1zM0 165h1v1h-1zM0 167h1v1h-1zM0 171h1v3h-1zM0 176h1v1h-1zM0 184h1v1h-1zM0 186h1v1h-1zM0 206h1v1h-1zM0 222h1v1h-1zM0 224h1v1h-1zM0 234h1v1h-1zM0 236h1v1h-1zM0 247h1v1h-1zM0 249h1v1h-1zM1 29h1v2h-1zM1 99h1v1h-1zM1 131h1v1h-1zM1 151h1v1h-1zM1 157h1v1h-1zM1 162h1v1h-1zM1 170h1v1h-1zM1 178h1v1h-1zM1 186h1v1h-1zM2 0h1v1h-1zM2 2h1v5h-1zM2 9h1v1h-1zM2 11h1v7h-1zM2 20h1v1h-1zM2 24h1v3h-1zM2 33h1v1h-1zM2 37h1v1h-1zM2 39h1v1h-1zM2 51h1v1h-1zM2 53h1v1h-1zM2 58h1v1h-1zM2 65h1v1h-1zM2 67h1v1h-1zM2 69h1v3h-1zM2 73h1v1h-1zM2 76h1v5h-1zM2 97h1v1h-1zM2 99h1v1h-1zM2 102h1v1h-1zM2 105h1v1h-1zM2 107h1v1h-1zM2 109h1v1h-1zM2 113h1v1h-1zM2 133h1v1h-1zM2 154h1v2h-1zM2 161h1v1h-1zM2 165h1v1h-1zM2 167h1v1h-1zM2 172h1v1h-1zM2 175h1v5h-1zM2 182h1v1h-1zM2 185h1v1h-1zM2 207h1v1h-1zM2 217h1v1h-1zM2 227h1v1h-1zM2 232h1v1h-1zM2 237h1v1h-1zM2 239h1v1h-1zM3 22h1v3h-1zM3 30h1v1h-1zM3 74h1v1h-1zM3 81h1v1h-1zM3 99h1v1h-1zM3 105h1v1h-1zM3 107h1v1h-1zM3 133h1v1h-1zM3 151h1v1h-1zM3 154h1v1h-1zM3 156h1v1h-1zM3 163h1v1h-1zM3 182h1v3h-1zM3 201h1v1h-1zM5 72h1v1h-1zM7 7h1v1h-1zM7 9h1v1h-1zM7 17h1v1h-1zM7 24h1v1h-1zM7 69h1v1h-1zM7 71h1v1h-1zM8 69h1v1h-1zM9 1h1v2h-1zM9 6h1v1h-1zM9 17h1v1h-1zM9 19h1v1h-1zM9 29h1v1h-1zM9 37h1v2h-1zM9 54h1v1h-1zM9 64h1v1h-1zM9 66h1v1h-1zM9 71h1v1h-1zM9 81h1v1h-1zM9 92h1v1h-1zM9 95h1v1h-1zM9 102h1v4h-1zM9 156h1v1h-1zM9 230h1v1h-1zM9 237h1v1h-1zM10 5h1v1h-1zM10 11h1v1h-1zM10 23h1v1h-1zM10 28h1v1h-1zM10 59h1v1h-1zM10 65h1v1h-1zM10 67h1v2h-1zM10 71h1v1h-1zM10 73h1v1h-1zM10 76h1v1h-1zM10 78h1v2h-1zM10 86h1v1h-1zM10 91h1v1h-1zM10 97h1v2h-1zM12 2h1v1h-1zM12 5h1v1h-1zM12 10h1v1h-1zM12 15h1v1h-1zM12 17h1v1h-1zM12 19h1v2h-1zM12 23h1v1h-1zM12 25h1v1h-1zM12 27h1v1h-1zM12 30h1v1h-1zM12 37h1v1h-1zM12 43h1v1h-1zM12 63h1v1h-1zM12 72h1v1h-1zM12 74h1v2h-1zM12 77h1v3h-1zM12 83h1v1h-1zM12 94h1v1h-1zM12 100h1v2h-1zM12 232h1v1h-1zM13 11h1v1h-1zM15 0h1v1h-1zM15 15h1v1h-1zM15 30h1v1h-1zM15 149h1v1h-1zM15 172h1v2h-1zM15 176h1v1h-1zM15 180h1v1h-1zM15 183h1v1h-1zM15 186h1v1h-1zM15 247h1v1h-1zM16 7h1v2h-1zM16 14h1v2h-1zM16 22h1v3h-1zM16 29h1v2h-1zM16 32h1v1h-1zM16 36h1v1h-1zM16 38h1v1h-1zM16 40h1v2h-1zM16 45h1v1h-1zM16 59h1v1h-1zM16 61h1v1h-1zM16 63h1v1h-1zM16 66h1v1h-1zM16 69h1v1h-1zM16 71h1v1h-1zM16 74h1v1h-1zM16 78h1v1h-1zM16 84h1v1h-1zM16 92h1v1h-1zM16 94h1v1h-1zM16 99h1v1h-1zM16 153h1v1h-1zM16 155h1v1h-1zM16 157h1v3h-1zM16 167h1v1h-1zM16 180h1v1h-1zM16 185h1v1h-1zM16 198h1v1h-1zM16 204h1v3h-1zM16 211h1v1h-1zM16 222h1v2h-1zM16 225h1v2h-1zM16 235h1v1h-1zM16 247h1v1h-1zM17 0h1v1h-1zM17 8h1v4h-1zM17 13h1v1h-1zM17 15h1v1h-1zM17 19h1v1h-1zM17 23h1v2h-1zM17 26h1v3h-1zM17 31h1v1h-1zM17 34h1v1h-1zM17 37h1v1h-1zM17 39h1v1h-1zM17 42h1v1h-1zM17 48h1v1h-1zM17 56h1v1h-1zM17 59h1v1h-1zM17 66h1v1h-1zM17 74h1v1h-1zM17 79h1v1h-1zM17 81h1v2h-1zM17 94h1v1h-1zM17 106h1v1h-1zM17 150h1v1h-1zM17 155h1v1h-1zM17 162h1v1h-1zM17 169h1v1h-1zM17 171h1v1h-1zM17 175h1v1h-1zM17 177h1v1h-1zM17 211h1v1h-1zM17 223h1v2h-1zM17 226h1v1h-1zM17 245h1v1h-1zM19 3h1v1h-1zM19 5h1v1h-1zM19 7h1v1h-1zM19 11h1v1h-1zM19 13h1v1h-1zM19 22h1v1h-1zM19 27h1v1h-1zM19 29h1v2h-1zM19 33h1v1h-1zM19 37h1v1h-1zM19 40h1v1h-1zM19 47h1v1h-1zM19 55h1v1h-1zM19 69h1v1h-1zM19 72h1v1h-1zM19 76h1v1h-1zM19 78h1v1h-1zM19 80h1v2h-1zM19 94h1v1h-1zM19 99h1v1h-1zM19 103h1v2h-1zM19 134h1v1h-1zM19 166h1v2h-1zM19 235h1v2h-1zM19 247h1v2h-1zM20 1h1v1h-1zM20 36h1v1h-1zM20 57h1v1h-1zM20 147h1v1h-1zM20 155h1v1h-1zM20 158h1v1h-1zM20 161h1v1h-1zM20 178h1v2h-1zM20 186h1v1h-1zM20 201h1v1h-1zM20 206h1v1h-1zM20 233h1v1h-1zM20 248h1v2h-1zM21 101h1v1h-1zM21 167h1v1h-1zM21 247h1v2h-1zM22 23h1v1h-1zM22 157h1v1h-1zM22 165h1v1h-1zM23 177h1v1h-1zM24 3h1v1h-1zM24 13h1v2h-1zM24 20h1v1h-1zM24 25h1v6h-1zM24 41h1v1h-1zM24 61h1v1h-1zM24 134h1v1h-1zM24 138h1v1h-1zM24 147h1v2h-1zM24 152h1v1h-1zM24 156h1v2h-1zM24 159h1v4h-1zM24 164h1v2h-1zM24 168h1v2h-1zM24 173h1v1h-1zM24 176h1v1h-1zM24 179h1v6h-1zM24 186h1v1h-1zM24 213h1v1h-1zM24 220h1v1h-1zM24 223h1v1h-1zM24 226h1v1h-1zM24 231h1v1h-1zM24 235h1v1h-1zM24 237h1v1h-1zM24 243h1v1h-1zM24 248h1v2h-1zM25 131h1v1h-1zM25 139h1v1h-1zM25 144h1v1h-1zM25 147h1v1h-1zM25 149h1v2h-1zM25 155h1v3h-1zM25 161h1v1h-1zM25 165h1v1h-1zM25 167h1v1h-1zM25 172h1v1h-1zM25 174h1v2h-1zM25 179h1v1h-1zM25 183h1v1h-1zM25 186h1v1h-1zM25 229h1v1h-1zM25 236h1v3h-1zM25 248h1v2h-1zM26 27h1v1h-1zM27 18h1v1h-1zM27 26h1v3h-1zM27 37h1v1h-1zM27 40h1v1h-1zM27 147h1v2h-1zM28 137h1v1h-1zM28 142h1v1h-1zM29 1h1v2h-1zM29 5h1v1h-1zM29 17h1v1h-1zM30 175h1v1h-1zM31 9h1v1h-1zM31 12h1v1h-1zM31 39h1v1h-1zM31 162h1v1h-1zM32 149h1v1h-1zM33 2h1v1h-1zM33 17h1v1h-1zM33 20h1v1h-1zM33 22h1v1h-1zM33 26h1v1h-1zM33 37h1v1h-1zM33 138h1v2h-1zM33 142h1v1h-1zM33 147h1v1h-1zM33 150h1v1h-1zM33 152h1v1h-1zM33 154h1v1h-1zM33 157h1v1h-1zM33 159h1v1h-1zM33 166h1v1h-1zM33 168h1v1h-1zM33 173h1v1h-1zM33 175h1v1h-1zM33 178h1v1h-1zM33 183h1v1h-1zM33 227h1v1h-1zM33 235h1v1h-1zM33 247h1v1h-1zM35 0h1v1h-1zM35 3h1v1h-1zM35 7h1v1h-1zM35 15h1v1h-1zM35 20h1v1h-1zM35 23h1v2h-1zM35 32h1v1h-1zM35 37h1v1h-1zM35 247h1v1h-1zM37 13h1v1h-1zM37 15h1v1h-1zM37 17h1v2h-1zM37 24h1v1h-1zM37 28h1v1h-1zM37 37h1v2h-1zM37 41h1v1h-1zM37 150h1v1h-1zM37 161h1v1h-1zM37 168h1v1h-1zM37 183h1v1h-1zM38 0h1v1h-1zM38 2h1v1h-1zM38 7h1v1h-1zM38 11h1v2h-1zM38 23h1v2h-1zM38 28h1v1h-1zM38 30h1v1h-1zM38 36h1v1h-1zM38 39h1v1h-1zM38 119h1v1h-1zM38 123h1v1h-1zM38 137h1v1h-1zM38 146h1v1h-1zM38 148h1v2h-1zM38 151h1v6h-1zM38 159h1v1h-1zM38 163h1v2h-1zM38 171h1v2h-1zM38 175h1v3h-1zM38 179h1v1h-1zM38 183h1v2h-1zM40 23h1v1h-1zM40 150h1v1h-1zM41 1h1v1h-1zM41 3h1v2h-1zM41 7h1v1h-1zM41 9h1v1h-1zM41 11h1v1h-1zM41 13h1v2h-1zM41 17h1v1h-1zM41 20h1v1h-1zM41 23h1v1h-1zM41 25h1v1h-1zM41 34h1v1h-1zM41 36h1v1h-1zM41 40h1v1h-1zM41 47h1v1h-1zM41 53h1v1h-1zM41 56h1v1h-1zM41 69h1v1h-1zM41 75h1v1h-1zM41 80h1v1h-1zM41 85h1v1h-1zM41 99h1v2h-1zM41 105h1v2h-1zM41 110h1v1h-1zM41 122h1v1h-1zM41 124h1v1h-1zM42 6h1v1h-1zM42 18h1v1h-1zM42 22h1v1h-1zM42 24h1v1h-1zM42 44h1v1h-1zM43 26h1v1h-1zM43 29h1v1h-1zM43 141h1v1h-1zM43 149h1v1h-1zM44 0h1v1h-1zM44 25h1v1h-1zM44 37h1v1h-1zM45 10h1v1h-1zM45 19h1v1h-1zM45 24h1v1h-1zM45 28h1v1h-1zM45 36h1v1h-1zM45 98h1v1h-1zM46 23h1v1h-1zM46 30h1v1h-1zM46 44h1v1h-1zM46 59h1v1h-1zM46 144h1v1h-1zM46 150h1v1h-1zM46 172h1v1h-1zM46 178h1v1h-1zM46 180h1v1h-1zM47 182h1v1h-1zM48 4h1v1h-1zM48 6h1v2h-1zM48 9h1v1h-1zM48 15h1v3h-1zM48 23h1v1h-1zM48 26h1v1h-1zM48 42h1v1h-1zM48 64h1v1h-1zM48 136h1v1h-1zM48 147h1v2h-1zM48 150h1v1h-1zM48 162h1v1h-1zM48 170h1v1h-1z"/><path fill="#460b5d" d="M0 6h1v1h-1zM0 16h1v1h-1zM0 106h1v1h-1zM0 133h1v1h-1zM0 155h1v1h-1zM0 170h1v1h-1zM0 174h1v1h-1zM0 177h1v1h-1zM0 180h1v1h-1zM0 201h1v1h-1zM0 217h1v1h-1zM0 230h1v1h-1zM0 243h1v1h-1zM1 24h1v1h-1zM1 65h1v1h-1zM1 77h1v1h-1zM1 166h1v1h-1zM1 180h1v1h-1zM1 185h1v1h-1zM2 7h1v2h-1zM2 10h1v1h-1zM2 31h1v2h-1zM2 36h1v1h-1zM2 44h1v2h-1zM2 72h1v1h-1zM2 81h1v2h-1zM2 86h1v1h-1zM2 89h1v1h-1zM2 111h1v1h-1zM2 157h1v2h-1zM2 168h1v1h-1zM2 183h1v1h-1zM2 186h1v1h-1zM2 211h1v1h-1zM2 220h1v1h-1zM2 229h1v1h-1zM2 244h1v1h-1zM3 5h1v1h-1zM3 8h1v1h-1zM3 26h1v1h-1zM3 36h1v1h-1zM3 75h1v1h-1zM3 112h1v1h-1zM3 139h1v1h-1zM3 152h1v1h-1zM3 166h1v1h-1zM3 242h1v1h-1zM3 244h1v1h-1zM3 248h1v1h-1zM5 86h1v1h-1zM7 5h1v1h-1zM7 11h1v1h-1zM7 13h1v1h-1zM7 28h1v1h-1zM7 72h1v1h-1zM7 99h1v1h-1zM8 7h1v1h-1zM8 71h1v1h-1zM9 13h1v1h-1zM9 25h1v1h-1zM9 27h1v2h-1zM9 31h1v2h-1zM9 34h1v1h-1zM9 39h1v2h-1zM9 49h1v1h-1zM9 51h1v1h-1zM9 57h1v1h-1zM9 60h1v1h-1zM9 63h1v1h-1zM9 70h1v1h-1zM9 82h1v3h-1zM9 100h1v1h-1zM9 167h1v1h-1zM9 236h1v1h-1zM9 249h1v1h-1zM10 4h1v1h-1zM10 6h1v2h-1zM10 38h1v1h-1zM10 41h1v1h-1zM10 70h1v1h-1zM10 87h1v1h-1zM10 89h1v1h-1zM10 100h1v1h-1zM10 102h1v1h-1zM10 218h1v1h-1zM10 221h1v1h-1zM10 231h1v1h-1zM10 241h1v2h-1zM12 7h1v1h-1zM12 12h1v1h-1zM12 14h1v1h-1zM12 16h1v1h-1zM12 22h1v1h-1zM12 24h1v1h-1zM12 29h1v1h-1zM12 40h1v1h-1zM12 46h1v2h-1zM12 57h1v1h-1zM12 64h1v1h-1zM12 70h1v1h-1zM12 82h1v1h-1zM12 205h1v1h-1zM12 214h1v1h-1zM15 8h1v1h-1zM15 12h1v1h-1zM15 28h1v1h-1zM15 41h1v1h-1zM15 66h1v1h-1zM15 72h1v1h-1zM15 151h1v1h-1zM15 168h1v1h-1zM15 171h1v1h-1zM15 181h1v1h-1zM16 1h1v2h-1zM16 5h1v1h-1zM16 10h1v1h-1zM16 18h1v1h-1zM16 34h1v1h-1zM16 72h1v2h-1zM16 76h1v1h-1zM16 85h1v1h-1zM16 105h1v1h-1zM16 132h1v1h-1zM16 150h1v1h-1zM16 166h1v1h-1zM16 178h1v1h-1zM16 200h1v1h-1zM16 208h1v1h-1zM16 215h1v1h-1zM16 224h1v1h-1zM16 230h1v3h-1zM16 237h1v1h-1zM16 240h1v1h-1zM17 1h1v1h-1zM17 4h1v2h-1zM17 12h1v1h-1zM17 21h1v1h-1zM17 33h1v1h-1zM17 36h1v1h-1zM17 40h1v1h-1zM17 46h1v2h-1zM17 60h1v1h-1zM17 73h1v1h-1zM17 99h1v1h-1zM17 102h1v1h-1zM17 163h1v2h-1zM17 179h1v1h-1zM17 186h1v1h-1zM17 201h1v1h-1zM17 209h1v1h-1zM17 214h1v1h-1zM17 220h1v1h-1zM17 227h1v1h-1zM17 229h1v1h-1zM17 248h1v2h-1zM19 4h1v1h-1zM19 6h1v1h-1zM19 14h1v1h-1zM19 19h1v1h-1zM19 31h1v2h-1zM19 35h1v1h-1zM19 38h1v1h-1zM19 50h1v2h-1zM19 58h1v1h-1zM19 75h1v1h-1zM19 100h1v1h-1zM19 152h1v1h-1zM19 154h1v1h-1zM19 165h1v1h-1zM19 205h1v1h-1zM19 217h1v1h-1zM19 219h1v1h-1zM19 232h1v1h-1zM19 237h1v1h-1zM20 8h1v1h-1zM20 11h1v1h-1zM20 19h1v1h-1zM20 23h1v1h-1zM20 131h1v1h-1zM20 144h1v1h-1zM20 168h1v1h-1zM20 180h1v2h-1zM20 217h1v1h-1zM20 228h1v1h-1zM20 232h1v1h-1zM20 239h1v1h-1zM20 244h1v1h-1zM20 246h1v1h-1zM21 29h1v1h-1zM21 149h1v1h-1zM21 164h1v1h-1zM21 203h1v1h-1zM21 217h1v1h-1zM21 246h1v1h-1zM21 249h1v1h-1zM22 11h1v1h-1zM22 166h1v1h-1zM22 198h1v1h-1zM22 204h1v1h-1zM22 217h1v1h-1zM22 227h1v1h-1zM24 1h1v1h-1zM24 10h1v1h-1zM24 17h1v1h-1zM24 24h1v1h-1zM24 34h1v1h-1zM24 39h1v1h-1zM24 50h1v1h-1zM24 55h1v1h-1zM24 62h1v1h-1zM24 131h1v1h-1zM24 145h1v1h-1zM24 149h1v1h-1zM24 163h1v1h-1zM24 166h1v2h-1zM24 178h1v1h-1zM24 218h1v1h-1zM24 224h1v1h-1zM24 234h1v1h-1zM24 241h1v1h-1zM24 246h1v1h-1zM25 110h1v1h-1zM25 138h1v1h-1zM25 145h1v1h-1zM25 164h1v1h-1zM25 169h1v3h-1zM25 173h1v1h-1zM25 181h1v1h-1zM25 218h1v2h-1zM25 242h1v1h-1zM27 29h1v2h-1zM27 152h1v1h-1zM27 186h1v1h-1zM27 225h1v1h-1zM28 17h1v1h-1zM28 130h1v1h-1zM28 170h1v1h-1zM28 232h1v1h-1zM28 242h1v1h-1zM29 14h1v1h-1zM29 147h1v1h-1zM30 139h1v1h-1zM30 155h1v1h-1zM30 181h1v1h-1zM31 13h1v2h-1zM31 167h1v1h-1zM32 147h1v1h-1zM33 7h1v1h-1zM33 12h1v1h-1zM33 16h1v1h-1zM33 36h1v1h-1zM33 40h1v1h-1zM33 132h1v2h-1zM33 135h1v1h-1zM33 174h1v1h-1zM33 176h1v1h-1zM33 200h1v1h-1zM33 242h1v1h-1zM33 244h1v1h-1zM35 1h1v1h-1zM35 6h1v1h-1zM35 8h1v1h-1zM36 181h1v1h-1zM37 20h1v2h-1zM37 26h1v1h-1zM37 138h1v1h-1zM37 160h1v1h-1zM37 166h1v1h-1zM37 179h1v1h-1zM38 3h1v1h-1zM38 26h1v1h-1zM38 121h1v1h-1zM38 129h1v2h-1zM38 133h1v1h-1zM38 139h1v1h-1zM38 144h1v1h-1zM38 162h1v1h-1zM38 166h1v1h-1zM38 169h1v2h-1zM38 174h1v1h-1zM38 247h1v1h-1zM39 161h1v1h-1zM40 110h1v1h-1zM41 12h1v1h-1zM41 15h1v1h-1zM41 24h1v1h-1zM41 27h1v1h-1zM41 31h1v1h-1zM41 39h1v1h-1zM41 46h1v1h-1zM41 78h1v1h-1zM41 101h1v1h-1zM41 103h1v1h-1zM41 109h1v1h-1zM41 111h1v1h-1zM41 118h1v2h-1zM41 126h1v1h-1zM41 135h1v1h-1zM42 0h1v1h-1zM42 9h1v1h-1zM44 6h1v1h-1zM44 9h1v1h-1zM44 28h1v1h-1zM44 38h1v1h-1zM45 1h1v1h-1zM45 7h1v2h-1zM45 13h1v1h-1zM45 15h1v1h-1zM45 21h1v1h-1zM45 29h1v2h-1zM45 32h1v2h-1zM45 47h1v1h-1zM46 2h1v1h-1zM46 5h1v2h-1zM46 9h1v1h-1zM46 22h1v1h-1zM46 29h1v1h-1zM46 32h1v1h-1zM48 8h1v1h-1zM48 28h1v1h-1zM48 33h1v1h-1zM48 37h1v1h-1zM48 40h1v2h-1zM48 56h1v1h-1zM48 59h1v1h-1zM48 99h1v1h-1zM48 139h1v1h-1zM48 166h1v1h-1zM48 176h1v1h-1zM49 148h1v1h-1z"/><path fill="#471466" d="M0 26h1v1h-1zM0 39h1v1h-1zM0 71h1v1h-1zM0 73h1v1h-1zM0 98h1v1h-1zM0 107h1v1h-1zM0 109h1v1h-1zM0 152h1v1h-1zM0 157h1v1h-1zM0 185h1v1h-1zM0 198h1v1h-1zM0 225h1v1h-1zM0 232h1v1h-1zM0 239h1v1h-1zM0 248h1v1h-1zM1 42h1v1h-1zM1 69h1v1h-1zM1 72h1v1h-1zM1 106h1v1h-1zM1 168h1v1h-1zM1 200h1v1h-1zM1 236h1v1h-1zM2 23h1v1h-1zM2 29h1v1h-1zM2 41h1v1h-1zM2 49h1v1h-1zM2 52h1v1h-1zM2 57h1v1h-1zM2 74h1v1h-1zM2 83h1v1h-1zM2 104h1v1h-1zM2 112h1v1h-1zM2 129h1v2h-1zM2 156h1v1h-1zM2 174h1v1h-1zM2 205h1v2h-1zM2 208h1v1h-1zM2 213h1v1h-1zM2 224h1v1h-1zM2 231h1v1h-1zM2 241h1v2h-1zM2 248h1v1h-1zM3 17h1v1h-1zM3 20h1v1h-1zM3 29h1v1h-1zM3 45h1v1h-1zM3 84h1v1h-1zM3 119h1v1h-1zM3 155h1v1h-1zM3 158h1v1h-1zM3 168h1v1h-1zM3 171h1v1h-1zM3 173h1v1h-1zM3 177h1v1h-1zM3 185h1v1h-1zM3 197h1v1h-1zM3 200h1v1h-1zM3 233h1v1h-1zM3 239h1v1h-1zM3 247h1v1h-1zM5 0h1v1h-1zM5 13h1v1h-1zM5 78h1v1h-1zM5 80h1v1h-1zM5 105h1v1h-1zM7 4h1v1h-1zM7 8h1v1h-1zM7 29h1v1h-1zM7 38h1v1h-1zM7 49h1v1h-1zM7 52h1v1h-1zM7 102h1v1h-1zM8 0h1v1h-1zM8 40h1v1h-1zM9 14h1v1h-1zM9 21h1v3h-1zM9 35h1v2h-1zM9 41h1v1h-1zM9 44h1v1h-1zM9 47h1v1h-1zM9 50h1v1h-1zM9 78h1v1h-1zM9 80h1v1h-1zM9 93h1v1h-1zM9 227h1v1h-1zM10 3h1v1h-1zM10 17h1v1h-1zM10 21h1v1h-1zM10 24h1v1h-1zM10 69h1v1h-1zM10 106h1v1h-1zM10 233h1v1h-1zM12 3h1v2h-1zM12 6h1v1h-1zM12 26h1v1h-1zM12 35h1v1h-1zM12 39h1v1h-1zM12 51h1v2h-1zM12 73h1v1h-1zM12 88h1v1h-1zM12 95h1v1h-1zM12 102h1v1h-1zM12 209h1v1h-1zM12 220h1v1h-1zM12 224h1v1h-1zM12 233h1v1h-1zM12 249h1v1h-1zM13 41h1v1h-1zM15 5h1v1h-1zM15 11h1v1h-1zM15 40h1v1h-1zM15 44h1v1h-1zM15 63h1v1h-1zM15 83h1v1h-1zM15 163h1v1h-1zM15 243h1v1h-1zM15 248h1v1h-1zM16 4h1v1h-1zM16 6h1v1h-1zM16 17h1v1h-1zM16 20h1v1h-1zM16 33h1v1h-1zM16 35h1v1h-1zM16 37h1v1h-1zM16 47h1v1h-1zM16 51h1v1h-1zM16 55h1v2h-1zM16 70h1v1h-1zM16 79h1v2h-1zM16 88h1v1h-1zM16 106h1v1h-1zM16 148h1v1h-1zM16 156h1v1h-1zM16 160h1v1h-1zM16 163h1v2h-1zM16 173h1v2h-1zM16 181h1v1h-1zM16 213h1v1h-1zM16 218h1v1h-1zM16 221h1v1h-1zM16 239h1v1h-1zM16 241h1v2h-1zM17 2h1v2h-1zM17 7h1v1h-1zM17 25h1v1h-1zM17 29h1v1h-1zM17 35h1v1h-1zM17 57h1v2h-1zM17 68h1v1h-1zM17 77h1v1h-1zM17 156h1v1h-1zM17 166h1v2h-1zM17 202h1v1h-1zM17 206h1v1h-1zM17 218h1v1h-1zM17 233h1v1h-1zM17 237h1v1h-1zM18 66h1v1h-1zM18 76h1v2h-1zM18 104h1v1h-1zM18 168h1v1h-1zM19 2h1v1h-1zM19 12h1v1h-1zM19 16h1v1h-1zM19 26h1v1h-1zM19 49h1v1h-1zM19 60h1v1h-1zM19 70h1v1h-1zM19 73h1v1h-1zM19 79h1v1h-1zM19 82h1v1h-1zM19 87h1v1h-1zM19 101h1v2h-1zM19 105h1v1h-1zM19 149h1v1h-1zM19 159h1v1h-1zM19 162h1v1h-1zM19 171h1v1h-1zM19 176h1v1h-1zM19 180h1v1h-1zM19 188h1v1h-1zM19 211h1v1h-1zM19 223h1v1h-1zM19 225h1v1h-1zM19 229h1v1h-1zM19 231h1v1h-1zM19 233h1v1h-1zM20 3h1v1h-1zM20 25h1v2h-1zM20 29h1v1h-1zM20 31h1v1h-1zM20 37h1v2h-1zM20 42h1v1h-1zM20 49h1v1h-1zM20 68h1v1h-1zM20 97h1v1h-1zM20 150h1v1h-1zM20 167h1v1h-1zM20 198h1v1h-1zM20 203h1v1h-1zM20 209h1v1h-1zM20 218h1v1h-1zM20 221h1v1h-1zM20 223h1v1h-1zM20 230h1v1h-1zM20 238h1v1h-1zM20 242h1v1h-1zM21 0h1v1h-1zM21 42h1v1h-1zM21 140h1v1h-1zM21 155h1v1h-1zM21 168h1v1h-1zM21 175h1v1h-1zM21 212h1v1h-1zM21 242h1v1h-1zM22 21h1v1h-1zM22 185h1v1h-1zM22 196h1v1h-1zM22 209h1v1h-1zM22 220h1v1h-1zM22 226h1v1h-1zM22 231h1v1h-1zM22 248h1v2h-1zM23 28h1v1h-1zM23 185h1v1h-1zM24 7h1v2h-1zM24 11h1v1h-1zM24 33h1v1h-1zM24 40h1v1h-1zM24 42h1v3h-1zM24 133h1v1h-1zM24 140h1v1h-1zM24 142h1v1h-1zM24 146h1v1h-1zM24 151h1v1h-1zM24 153h1v1h-1zM24 158h1v1h-1zM24 170h1v3h-1zM24 177h1v1h-1zM24 195h1v1h-1zM24 202h1v1h-1zM24 221h1v2h-1zM24 247h1v1h-1zM25 121h1v1h-1zM25 134h1v1h-1zM25 141h1v1h-1zM25 184h1v1h-1zM25 189h1v1h-1zM25 217h1v1h-1zM25 231h1v1h-1zM25 246h1v1h-1zM26 15h1v1h-1zM26 21h1v1h-1zM26 46h1v1h-1zM26 156h1v1h-1zM26 158h1v1h-1zM26 183h1v1h-1zM27 16h1v1h-1zM27 33h1v1h-1zM27 108h1v1h-1zM27 125h1v1h-1zM27 159h1v1h-1zM27 169h1v1h-1zM27 248h1v1h-1zM28 149h1v1h-1zM28 151h1v1h-1zM28 155h1v1h-1zM28 163h1v1h-1zM28 186h1v1h-1zM28 219h1v1h-1zM28 235h1v2h-1zM28 246h1v1h-1zM29 0h1v1h-1zM29 8h1v1h-1zM29 12h1v1h-1zM29 18h1v1h-1zM29 22h1v1h-1zM29 27h1v1h-1zM29 30h1v1h-1zM29 40h1v1h-1zM29 131h1v1h-1zM29 168h1v1h-1zM30 142h1v1h-1zM30 147h1v1h-1zM30 154h1v1h-1zM30 171h1v2h-1zM31 4h1v1h-1zM31 22h1v1h-1zM31 25h1v1h-1zM31 32h1v1h-1zM31 147h1v1h-1zM32 241h1v1h-1zM33 0h1v1h-1zM33 8h1v1h-1zM33 11h1v1h-1zM33 28h1v3h-1zM33 35h1v1h-1zM33 41h1v1h-1zM33 128h1v2h-1zM33 134h1v1h-1zM33 148h1v1h-1zM33 156h1v1h-1zM33 161h1v1h-1zM33 172h1v1h-1zM33 179h1v2h-1zM33 194h1v1h-1zM33 198h1v1h-1zM33 205h1v1h-1zM33 218h1v1h-1zM33 221h1v1h-1zM33 223h1v1h-1zM33 229h1v1h-1zM33 236h1v1h-1zM33 248h1v1h-1zM35 36h1v1h-1zM35 38h1v1h-1zM36 14h1v1h-1zM36 17h1v1h-1zM36 248h1v1h-1zM37 8h1v1h-1zM37 29h1v1h-1zM37 169h1v1h-1zM37 173h1v1h-1zM38 6h1v1h-1zM38 9h1v1h-1zM38 18h1v1h-1zM38 20h1v2h-1zM38 27h1v1h-1zM38 41h1v1h-1zM38 50h1v1h-1zM38 108h1v1h-1zM38 110h1v2h-1zM38 114h1v1h-1zM38 125h1v1h-1zM38 140h1v1h-1zM38 142h1v1h-1zM38 201h1v1h-1zM38 232h1v1h-1zM39 146h1v1h-1zM41 6h1v1h-1zM41 10h1v1h-1zM41 22h1v1h-1zM41 26h1v1h-1zM41 37h1v2h-1zM41 48h1v1h-1zM41 58h1v1h-1zM41 62h1v1h-1zM41 64h1v2h-1zM41 76h1v1h-1zM41 94h1v1h-1zM41 107h1v2h-1zM41 112h1v1h-1zM41 115h1v1h-1zM41 121h1v1h-1zM41 128h1v1h-1zM42 25h1v1h-1zM42 151h1v1h-1zM43 6h1v1h-1zM43 27h1v1h-1zM43 178h1v1h-1zM44 20h1v1h-1zM44 23h1v1h-1zM45 6h1v1h-1zM45 12h1v1h-1zM45 14h1v1h-1zM45 18h1v1h-1zM45 25h1v1h-1zM45 34h1v2h-1zM45 38h1v1h-1zM45 45h1v1h-1zM45 67h1v1h-1zM45 163h1v1h-1zM45 165h1v1h-1zM46 0h1v1h-1zM46 13h1v1h-1zM46 28h1v1h-1zM46 109h1v1h-1zM46 147h1v1h-1zM46 185h1v1h-1zM48 2h1v1h-1zM48 21h1v1h-1zM48 29h1v1h-1zM48 58h1v1h-1zM48 80h1v1h-1zM48 184h1v1h-1z"/><path fill="#481d6f" d="M0 0h1v1h-1zM0 2h1v1h-1zM0 66h1v1h-1zM0 79h1v1h-1zM0 90h1v1h-1zM0 113h1v1h-1zM0 134h1v1h-1zM0 158h1v1h-1zM0 164h1v1h-1zM0 166h1v1h-1zM0 178h1v1h-1zM0 190h1v1h-1zM0 193h1v1h-1zM0 197h1v1h-1zM0 205h1v1h-1zM0 219h1v2h-1zM0 226h1v1h-1zM0 233h1v1h-1zM0 237h1v1h-1zM0 245h1v1h-1zM1 49h1v1h-1zM1 110h1v1h-1zM1 128h1v1h-1zM1 152h1v1h-1zM1 160h1v1h-1zM1 183h1v1h-1zM1 204h1v1h-1zM1 206h1v1h-1zM1 228h1v1h-1zM1 230h1v1h-1zM1 241h1v1h-1zM2 1h1v1h-1zM2 21h1v1h-1zM2 28h1v1h-1zM2 35h1v1h-1zM2 38h1v1h-1zM2 48h1v1h-1zM2 63h1v1h-1zM2 66h1v1h-1zM2 120h1v1h-1zM2 126h1v1h-1zM2 142h1v1h-1zM2 152h1v1h-1zM2 159h1v2h-1zM2 166h1v1h-1zM2 169h1v1h-1zM2 180h1v1h-1zM2 184h1v1h-1zM2 192h1v1h-1zM2 197h1v1h-1zM2 202h1v1h-1zM2 210h1v1h-1zM2 218h1v1h-1zM2 222h1v2h-1zM2 233h1v2h-1zM2 236h1v1h-1zM2 247h1v1h-1zM3 27h1v1h-1zM3 37h1v1h-1zM3 70h1v1h-1zM3 108h1v2h-1zM3 125h1v1h-1zM3 135h1v1h-1zM3 164h1v1h-1zM3 175h1v1h-1zM3 179h1v1h-1zM3 186h1v1h-1zM3 193h1v1h-1zM3 206h1v1h-1zM3 210h1v1h-1zM3 213h1v1h-1zM3 219h1v1h-1zM3 229h1v1h-1zM3 246h1v1h-1zM4 90h1v1h-1zM5 57h1v1h-1zM5 66h1v1h-1zM5 76h1v1h-1zM5 92h1v1h-1zM5 99h1v1h-1zM7 15h1v1h-1zM7 32h1v1h-1zM7 36h1v1h-1zM7 41h1v1h-1zM7 74h1v1h-1zM7 106h1v1h-1zM9 0h1v1h-1zM9 4h1v1h-1zM9 7h1v1h-1zM9 9h1v2h-1zM9 12h1v1h-1zM9 16h1v1h-1zM9 18h1v1h-1zM9 24h1v1h-1zM9 26h1v1h-1zM9 43h1v1h-1zM9 48h1v1h-1zM9 53h1v1h-1zM9 56h1v1h-1zM9 58h1v1h-1zM9 67h1v1h-1zM9 73h1v1h-1zM9 75h1v1h-1zM9 91h1v1h-1zM9 99h1v1h-1zM9 101h1v1h-1zM9 152h1v1h-1zM9 201h1v1h-1zM9 217h1v2h-1zM9 238h1v1h-1zM10 2h1v1h-1zM10 14h1v3h-1zM10 19h1v1h-1zM10 39h1v1h-1zM10 44h1v1h-1zM10 56h1v1h-1zM10 60h1v1h-1zM10 75h1v1h-1zM10 80h1v1h-1zM10 83h1v1h-1zM10 94h1v1h-1zM10 103h1v1h-1zM10 175h1v1h-1zM10 219h1v1h-1zM10 223h1v1h-1zM10 239h1v1h-1zM11 70h1v1h-1zM12 1h1v1h-1zM12 21h1v1h-1zM12 38h1v1h-1zM12 62h1v1h-1zM12 67h1v1h-1zM12 71h1v1h-1zM12 87h1v1h-1zM12 104h1v2h-1zM12 175h1v1h-1zM12 211h1v1h-1zM12 222h1v1h-1zM12 237h1v1h-1zM12 240h1v1h-1zM12 242h1v2h-1zM13 22h1v1h-1zM13 30h1v1h-1zM15 7h1v1h-1zM15 10h1v1h-1zM15 14h1v1h-1zM15 20h1v1h-1zM15 23h1v1h-1zM15 25h1v2h-1zM15 59h1v1h-1zM15 74h1v1h-1zM15 101h1v1h-1zM15 106h1v1h-1zM15 148h1v1h-1zM15 152h1v1h-1zM15 156h1v3h-1zM15 160h1v1h-1zM15 185h1v1h-1zM15 206h1v1h-1zM16 13h1v1h-1zM16 21h1v1h-1zM16 42h1v1h-1zM16 75h1v1h-1zM16 83h1v1h-1zM16 87h1v1h-1zM16 90h1v1h-1zM16 98h1v1h-1zM16 100h1v1h-1zM16 103h1v1h-1zM16 149h1v1h-1zM16 152h1v1h-1zM16 162h1v1h-1zM16 175h1v1h-1zM16 177h1v1h-1zM16 179h1v1h-1zM16 187h1v1h-1zM16 189h1v1h-1zM16 209h1v2h-1zM16 217h1v1h-1zM16 227h1v1h-1zM16 229h1v1h-1zM16 233h1v2h-1zM16 245h1v2h-1zM16 249h1v1h-1zM17 14h1v1h-1zM17 18h1v1h-1zM17 30h1v1h-1zM17 41h1v1h-1zM17 54h1v1h-1zM17 64h1v1h-1zM17 70h1v1h-1zM17 78h1v1h-1zM17 80h1v1h-1zM17 84h1v1h-1zM17 88h1v1h-1zM17 101h1v1h-1zM17 104h1v2h-1zM17 135h1v1h-1zM17 165h1v1h-1zM17 178h1v1h-1zM17 194h1v1h-1zM17 198h1v1h-1zM17 217h1v1h-1zM17 219h1v1h-1zM17 234h1v1h-1zM17 240h1v2h-1zM17 243h1v1h-1zM18 183h1v1h-1zM18 248h1v1h-1zM19 10h1v1h-1zM19 17h1v1h-1zM19 20h1v1h-1zM19 24h1v2h-1zM19 28h1v1h-1zM19 44h1v2h-1zM19 59h1v1h-1zM19 61h1v1h-1zM19 66h1v1h-1zM19 131h1v1h-1zM19 144h1v1h-1zM19 150h1v2h-1zM19 155h1v1h-1zM19 175h1v1h-1zM19 177h1v1h-1zM19 192h1v1h-1zM19 208h1v1h-1zM19 212h1v1h-1zM19 224h1v1h-1zM19 230h1v1h-1zM19 234h1v1h-1zM19 241h1v1h-1zM19 243h1v1h-1zM20 0h1v1h-1zM20 7h1v1h-1zM20 32h1v1h-1zM20 39h1v1h-1zM20 133h1v1h-1zM20 156h1v1h-1zM20 160h1v1h-1zM20 166h1v1h-1zM20 184h1v1h-1zM20 195h1v1h-1zM20 197h1v1h-1zM20 210h1v1h-1zM20 213h1v1h-1zM20 216h1v1h-1zM20 220h1v1h-1zM20 236h1v2h-1zM21 31h1v1h-1zM21 39h1v3h-1zM21 67h1v1h-1zM21 96h1v1h-1zM21 154h1v1h-1zM21 169h1v1h-1zM21 176h1v1h-1zM21 179h1v1h-1zM21 186h1v1h-1zM21 211h1v1h-1zM21 228h1v1h-1zM21 233h1v1h-1zM21 235h1v1h-1zM22 28h1v1h-1zM22 72h1v1h-1zM22 99h1v1h-1zM22 128h1v1h-1zM22 137h1v2h-1zM22 159h1v1h-1zM22 161h1v1h-1zM22 174h1v1h-1zM22 188h1v1h-1zM22 222h1v1h-1zM22 228h1v1h-1zM22 230h1v1h-1zM22 238h1v1h-1zM22 241h1v3h-1zM22 247h1v1h-1zM24 21h1v1h-1zM24 36h1v2h-1zM24 46h1v1h-1zM24 48h1v1h-1zM24 130h1v1h-1zM24 132h1v1h-1zM24 150h1v1h-1zM24 192h1v1h-1zM24 209h1v1h-1zM24 212h1v1h-1zM24 227h1v1h-1zM24 230h1v1h-1zM24 238h1v3h-1zM25 123h1v2h-1zM25 129h1v1h-1zM25 133h1v1h-1zM25 142h1v1h-1zM25 146h1v1h-1zM25 148h1v1h-1zM25 158h1v1h-1zM25 166h1v1h-1zM25 182h1v1h-1zM25 197h1v1h-1zM25 200h1v1h-1zM25 203h1v1h-1zM25 214h1v1h-1zM25 223h1v1h-1zM25 232h1v1h-1zM25 235h1v1h-1zM25 239h1v1h-1zM26 132h1v1h-1zM27 6h1v1h-1zM27 11h1v1h-1zM27 23h1v1h-1zM27 31h1v1h-1zM27 38h1v1h-1zM27 48h1v1h-1zM27 55h1v1h-1zM27 129h1v1h-1zM27 145h1v1h-1zM27 149h1v1h-1zM27 166h1v1h-1zM27 179h1v1h-1zM27 183h1v1h-1zM28 125h1v1h-1zM28 131h1v1h-1zM28 158h1v1h-1zM28 230h1v1h-1zM28 248h1v1h-1zM29 13h1v1h-1zM29 24h1v1h-1zM29 36h1v2h-1zM29 140h1v1h-1zM29 149h1v1h-1zM29 171h1v1h-1zM30 1h1v1h-1zM30 159h1v1h-1zM31 1h1v1h-1zM31 6h1v1h-1zM31 15h1v1h-1zM31 19h1v1h-1zM31 24h1v1h-1zM31 27h1v1h-1zM31 30h1v1h-1zM31 40h1v2h-1zM31 165h1v1h-1zM31 185h1v1h-1zM31 219h1v1h-1zM32 141h1v1h-1zM32 157h1v1h-1zM33 14h1v1h-1zM33 19h1v1h-1zM33 21h1v1h-1zM33 31h1v2h-1zM33 39h1v1h-1zM33 110h1v1h-1zM33 115h1v1h-1zM33 130h1v1h-1zM33 143h1v1h-1zM33 158h1v1h-1zM33 162h1v2h-1zM33 167h1v1h-1zM33 170h1v2h-1zM33 181h1v2h-1zM33 211h1v1h-1zM33 217h1v1h-1zM34 149h1v1h-1zM35 11h1v1h-1zM35 131h1v1h-1zM35 147h1v1h-1zM35 154h1v1h-1zM35 162h1v1h-1zM36 11h1v1h-1zM36 79h1v1h-1zM36 158h1v1h-1zM36 175h1v1h-1zM37 0h1v1h-1zM37 5h1v1h-1zM37 11h1v1h-1zM37 23h1v1h-1zM37 36h1v1h-1zM37 128h1v1h-1zM37 135h1v1h-1zM37 167h1v1h-1zM37 176h1v1h-1zM37 184h1v2h-1zM38 4h1v1h-1zM38 14h1v2h-1zM38 17h1v1h-1zM38 19h1v1h-1zM38 25h1v1h-1zM38 34h1v2h-1zM38 37h1v1h-1zM38 40h1v1h-1zM38 113h1v1h-1zM38 126h1v1h-1zM38 132h1v1h-1zM38 147h1v1h-1zM38 158h1v1h-1zM38 160h1v2h-1zM38 167h1v2h-1zM38 180h1v2h-1zM38 185h1v1h-1zM40 148h1v1h-1zM41 0h1v1h-1zM41 21h1v1h-1zM41 30h1v1h-1zM41 51h1v1h-1zM41 66h1v1h-1zM41 72h1v3h-1zM41 77h1v1h-1zM41 79h1v1h-1zM41 97h1v1h-1zM42 17h1v1h-1zM42 19h1v1h-1zM42 26h1v1h-1zM42 29h1v1h-1zM42 41h1v1h-1zM42 49h1v1h-1zM42 58h1v1h-1zM42 139h1v1h-1zM43 28h1v1h-1zM43 30h1v1h-1zM43 32h1v1h-1zM43 111h1v1h-1zM43 125h1v1h-1zM43 144h1v1h-1zM44 13h1v1h-1zM44 21h1v1h-1zM44 51h1v1h-1zM44 150h1v1h-1zM45 0h1v1h-1zM45 4h1v1h-1zM45 31h1v1h-1zM45 37h1v1h-1zM45 40h1v1h-1zM45 128h1v1h-1zM46 20h1v1h-1zM46 24h1v1h-1zM46 41h1v1h-1zM46 128h1v1h-1zM46 136h1v1h-1zM46 138h1v1h-1zM46 141h1v1h-1zM46 152h1v1h-1zM46 159h1v1h-1zM46 161h1v1h-1zM47 150h1v1h-1zM47 179h1v1h-1zM48 3h1v1h-1zM48 11h1v1h-1zM48 22h1v1h-1zM48 24h1v2h-1zM48 27h1v1h-1zM48 32h1v1h-1zM48 44h1v1h-1zM48 60h1v1h-1zM48 69h1v1h-1zM48 131h1v1h-1zM48 137h1v2h-1zM48 168h1v1h-1zM49 150h1v1h-1z"/><path fill="#472575" d="M0 23h1v1h-1zM0 28h1v2h-1zM0 31h1v1h-1zM0 33h1v1h-1zM0 63h1v1h-1zM0 69h1v1h-1zM0 92h1v1h-1zM0 97h1v1h-1zM0 131h1v1h-1zM0 138h1v1h-1zM0 162h1v1h-1zM0 181h1v1h-1zM0 183h1v1h-1zM0 192h1v1h-1zM0 196h1v1h-1zM0 199h1v1h-1zM0 207h1v1h-1zM0 210h1v1h-1zM0 221h1v1h-1zM0 227h1v1h-1zM0 229h1v1h-1zM0 238h1v1h-1zM0 241h1v2h-1zM0 246h1v1h-1zM1 23h1v1h-1zM1 51h1v1h-1zM1 76h1v1h-1zM1 122h1v1h-1zM1 153h1v2h-1zM1 164h1v1h-1zM1 171h1v1h-1zM1 189h1v1h-1zM1 220h1v1h-1zM1 249h1v1h-1zM2 30h1v1h-1zM2 34h1v1h-1zM2 42h1v1h-1zM2 47h1v1h-1zM2 54h1v1h-1zM2 61h1v2h-1zM2 75h1v1h-1zM2 87h1v2h-1zM2 93h1v1h-1zM2 103h1v1h-1zM2 106h1v1h-1zM2 118h1v1h-1zM2 121h1v1h-1zM2 123h1v1h-1zM2 137h1v1h-1zM2 141h1v1h-1zM2 173h1v1h-1zM2 188h1v1h-1zM2 198h1v1h-1zM2 200h1v2h-1zM2 203h1v1h-1zM2 209h1v1h-1zM2 235h1v1h-1zM2 249h1v1h-1zM3 6h1v2h-1zM3 15h1v1h-1zM3 18h1v1h-1zM3 21h1v1h-1zM3 28h1v1h-1zM3 67h1v1h-1zM3 79h1v1h-1zM3 90h1v1h-1zM3 97h1v1h-1zM3 104h1v1h-1zM3 106h1v1h-1zM3 121h1v1h-1zM3 126h1v1h-1zM3 141h1v2h-1zM3 153h1v1h-1zM3 165h1v1h-1zM3 180h1v1h-1zM3 195h1v1h-1zM3 199h1v1h-1zM3 222h1v1h-1zM3 224h1v1h-1zM3 231h1v2h-1zM3 235h1v1h-1zM3 245h1v1h-1zM4 92h1v1h-1zM5 8h1v1h-1zM5 14h1v1h-1zM5 19h1v1h-1zM5 27h1v1h-1zM5 69h1v1h-1zM5 89h1v1h-1zM5 97h1v1h-1zM5 106h1v1h-1zM5 174h1v1h-1zM5 232h1v1h-1zM7 6h1v1h-1zM7 22h1v1h-1zM7 37h1v1h-1zM7 68h1v1h-1zM7 85h1v1h-1zM8 23h1v1h-1zM8 66h1v1h-1zM9 11h1v1h-1zM9 15h1v1h-1zM9 20h1v1h-1zM9 30h1v1h-1zM9 45h1v1h-1zM9 59h1v1h-1zM9 61h1v1h-1zM9 68h1v2h-1zM9 85h1v1h-1zM9 88h1v3h-1zM9 97h1v1h-1zM9 133h1v2h-1zM9 147h1v1h-1zM9 162h1v1h-1zM9 186h1v1h-1zM9 209h1v1h-1zM9 216h1v1h-1zM9 242h1v1h-1zM9 247h1v1h-1zM10 22h1v1h-1zM10 26h1v1h-1zM10 29h1v2h-1zM10 40h1v1h-1zM10 42h1v1h-1zM10 47h1v1h-1zM10 63h1v2h-1zM10 72h1v1h-1zM10 74h1v1h-1zM10 93h1v1h-1zM10 99h1v1h-1zM10 234h1v1h-1zM10 236h1v1h-1zM10 247h1v1h-1zM11 81h1v1h-1zM12 0h1v1h-1zM12 18h1v1h-1zM12 28h1v1h-1zM12 33h1v2h-1zM12 41h1v1h-1zM12 48h1v1h-1zM12 50h1v1h-1zM12 54h1v2h-1zM12 66h1v1h-1zM12 68h1v1h-1zM12 80h1v1h-1zM12 85h1v1h-1zM12 90h1v2h-1zM12 93h1v1h-1zM12 103h1v1h-1zM12 206h1v1h-1zM12 216h1v1h-1zM12 226h1v1h-1zM12 231h1v1h-1zM13 36h1v1h-1zM13 67h1v1h-1zM14 75h1v1h-1zM15 1h1v1h-1zM15 13h1v1h-1zM15 17h1v1h-1zM15 19h1v1h-1zM15 31h1v1h-1zM15 37h1v1h-1zM15 54h1v1h-1zM15 61h1v1h-1zM15 65h1v1h-1zM15 71h1v1h-1zM15 78h1v1h-1zM15 103h1v1h-1zM15 143h1v1h-1zM15 150h1v1h-1zM15 166h1v1h-1zM15 221h1v1h-1zM16 0h1v1h-1zM16 19h1v1h-1zM16 25h1v1h-1zM16 27h1v1h-1zM16 39h1v1h-1zM16 43h1v1h-1zM16 50h1v1h-1zM16 58h1v1h-1zM16 64h1v1h-1zM16 77h1v1h-1zM16 95h1v1h-1zM16 97h1v1h-1zM16 104h1v1h-1zM16 133h1v2h-1zM16 139h1v1h-1zM16 161h1v1h-1zM16 170h1v2h-1zM16 182h1v1h-1zM16 184h1v1h-1zM16 186h1v1h-1zM16 199h1v1h-1zM16 207h1v1h-1zM16 212h1v1h-1zM16 216h1v1h-1zM16 219h1v1h-1zM16 236h1v1h-1zM16 243h1v2h-1zM17 17h1v1h-1zM17 32h1v1h-1zM17 38h1v1h-1zM17 43h1v1h-1zM17 45h1v1h-1zM17 49h1v1h-1zM17 52h1v1h-1zM17 55h1v1h-1zM17 67h1v1h-1zM17 75h1v1h-1zM17 93h1v1h-1zM17 95h1v1h-1zM17 100h1v1h-1zM17 157h1v1h-1zM17 160h1v2h-1zM17 204h1v1h-1zM17 225h1v1h-1zM17 231h1v1h-1zM17 242h1v1h-1zM17 247h1v1h-1zM18 64h1v1h-1zM18 223h1v1h-1zM19 0h1v1h-1zM19 9h1v1h-1zM19 36h1v1h-1zM19 39h1v1h-1zM19 41h1v1h-1zM19 54h1v1h-1zM19 57h1v1h-1zM19 62h1v3h-1zM19 71h1v1h-1zM19 89h1v1h-1zM19 93h1v1h-1zM19 95h1v1h-1zM19 137h1v1h-1zM19 158h1v1h-1zM19 163h1v1h-1zM19 174h1v1h-1zM19 178h1v1h-1zM19 181h1v1h-1zM19 189h1v1h-1zM19 194h1v3h-1zM19 200h1v1h-1zM19 203h1v1h-1zM19 218h1v1h-1zM19 222h1v1h-1zM19 226h1v1h-1zM19 242h1v1h-1zM19 249h1v1h-1zM20 27h1v1h-1zM20 34h1v2h-1zM20 45h1v1h-1zM20 138h1v1h-1zM20 148h1v2h-1zM20 151h1v1h-1zM20 159h1v1h-1zM20 170h1v1h-1zM20 176h1v1h-1zM20 182h1v2h-1zM20 190h1v1h-1zM20 199h1v1h-1zM20 214h1v1h-1zM20 224h1v1h-1zM20 243h1v1h-1zM21 4h1v1h-1zM21 11h1v1h-1zM21 22h1v1h-1zM21 24h1v1h-1zM21 55h1v1h-1zM21 66h1v1h-1zM21 72h1v1h-1zM21 93h1v1h-1zM21 100h1v1h-1zM21 106h1v1h-1zM21 130h1v1h-1zM21 141h1v1h-1zM21 146h1v1h-1zM21 157h1v1h-1zM21 177h1v2h-1zM21 191h1v1h-1zM21 220h1v1h-1zM21 224h1v1h-1zM21 232h1v1h-1zM21 237h1v1h-1zM21 245h1v1h-1zM22 27h1v1h-1zM22 64h1v1h-1zM22 145h1v1h-1zM22 167h1v1h-1zM22 181h1v1h-1zM22 197h1v1h-1zM22 214h1v1h-1zM22 221h1v1h-1zM22 234h1v1h-1zM22 239h1v1h-1zM22 245h1v2h-1zM23 36h1v1h-1zM23 136h1v1h-1zM23 158h1v1h-1zM23 163h1v1h-1zM23 166h1v1h-1zM23 169h1v1h-1zM23 237h1v1h-1zM24 4h1v1h-1zM24 12h1v1h-1zM24 35h1v1h-1zM24 47h1v1h-1zM24 54h1v1h-1zM24 58h1v1h-1zM24 60h1v1h-1zM24 126h1v1h-1zM24 129h1v1h-1zM24 135h1v2h-1zM24 139h1v1h-1zM24 174h1v1h-1zM24 185h1v1h-1zM24 194h1v1h-1zM24 207h1v1h-1zM24 210h1v1h-1zM24 228h1v2h-1zM24 232h1v1h-1zM24 245h1v1h-1zM25 136h1v2h-1zM25 143h1v1h-1zM25 152h1v1h-1zM25 154h1v1h-1zM25 162h1v1h-1zM25 168h1v1h-1zM25 177h1v1h-1zM25 187h1v1h-1zM25 194h1v2h-1zM25 221h1v2h-1zM25 228h1v1h-1zM25 233h1v2h-1zM26 11h1v1h-1zM26 30h1v1h-1zM26 138h1v1h-1zM26 147h1v1h-1zM26 171h1v1h-1zM26 247h1v1h-1zM27 5h1v1h-1zM27 8h1v1h-1zM27 15h1v1h-1zM27 32h1v1h-1zM27 35h1v1h-1zM27 131h1v1h-1zM27 151h1v1h-1zM27 172h1v1h-1zM27 213h1v1h-1zM27 229h1v1h-1zM28 37h1v1h-1zM28 140h1v1h-1zM28 143h1v1h-1zM28 148h1v1h-1zM28 156h1v1h-1zM28 174h1v1h-1zM28 208h1v1h-1zM28 222h1v1h-1zM29 4h1v1h-1zM29 9h1v1h-1zM29 16h1v1h-1zM29 19h1v1h-1zM29 32h1v1h-1zM29 38h1v1h-1zM29 186h1v1h-1zM30 10h1v1h-1zM30 143h1v1h-1zM30 148h1v1h-1zM30 180h1v1h-1zM30 186h1v1h-1zM30 238h1v1h-1zM31 2h1v2h-1zM31 18h1v1h-1zM31 26h1v1h-1zM31 28h1v2h-1zM31 37h1v1h-1zM31 130h1v1h-1zM31 136h1v1h-1zM31 145h1v1h-1zM31 148h1v1h-1zM32 105h1v1h-1zM32 144h1v1h-1zM32 161h1v1h-1zM32 185h1v1h-1zM33 1h1v1h-1zM33 6h1v1h-1zM33 9h1v1h-1zM33 24h1v1h-1zM33 45h1v1h-1zM33 106h1v1h-1zM33 113h1v1h-1zM33 121h1v1h-1zM33 136h1v2h-1zM33 141h1v1h-1zM33 144h1v1h-1zM33 151h1v1h-1zM33 153h1v1h-1zM33 160h1v1h-1zM33 202h1v1h-1zM33 208h1v1h-1zM33 213h1v2h-1zM33 220h1v1h-1zM33 237h1v1h-1zM35 4h1v1h-1zM35 10h1v1h-1zM35 17h1v1h-1zM35 26h1v1h-1zM35 33h1v1h-1zM35 150h1v3h-1zM35 246h1v1h-1zM36 4h1v1h-1zM36 15h1v1h-1zM36 22h1v1h-1zM36 134h1v1h-1zM36 137h1v1h-1zM36 148h1v1h-1zM36 150h1v1h-1zM36 156h1v1h-1zM36 174h1v1h-1zM37 3h1v1h-1zM37 22h1v1h-1zM37 25h1v1h-1zM37 27h1v1h-1zM37 55h1v1h-1zM37 133h1v2h-1zM37 137h1v1h-1zM37 147h1v2h-1zM37 174h1v1h-1zM37 178h1v1h-1zM37 190h1v1h-1zM38 1h1v1h-1zM38 10h1v1h-1zM38 16h1v1h-1zM38 22h1v1h-1zM38 109h1v1h-1zM38 116h1v1h-1zM38 131h1v1h-1zM38 150h1v1h-1zM38 165h1v1h-1zM38 182h1v1h-1zM38 187h1v1h-1zM38 216h1v1h-1zM38 243h1v1h-1zM39 139h1v1h-1zM39 143h1v1h-1zM39 155h1v1h-1zM39 184h1v1h-1zM40 17h1v1h-1zM40 132h1v1h-1zM41 2h1v1h-1zM41 8h1v1h-1zM41 41h1v1h-1zM41 50h1v1h-1zM41 61h1v1h-1zM41 67h1v1h-1zM41 96h1v1h-1zM41 116h1v1h-1zM41 120h1v1h-1zM41 150h1v1h-1zM41 175h1v1h-1zM42 2h1v1h-1zM42 4h1v2h-1zM42 11h1v1h-1zM42 23h1v1h-1zM42 28h1v1h-1zM42 42h1v1h-1zM42 148h1v2h-1zM42 156h1v1h-1zM43 3h1v1h-1zM43 45h1v1h-1zM43 123h1v1h-1zM43 126h1v1h-1zM43 170h1v1h-1zM44 5h1v1h-1zM44 10h1v1h-1zM44 18h1v1h-1zM44 33h1v1h-1zM44 35h1v1h-1zM44 39h1v1h-1zM44 58h1v1h-1zM44 93h1v1h-1zM44 171h1v1h-1zM44 237h1v1h-1zM45 2h1v2h-1zM45 140h1v1h-1zM45 147h1v2h-1zM45 161h1v1h-1zM45 170h1v1h-1zM46 10h1v2h-1zM46 19h1v1h-1zM46 26h1v2h-1zM46 37h1v1h-1zM46 46h1v2h-1zM46 61h1v1h-1zM46 127h1v1h-1zM46 142h1v1h-1zM46 146h1v1h-1zM46 149h1v1h-1zM46 153h1v1h-1zM46 164h1v1h-1zM46 166h1v1h-1zM46 176h1v1h-1zM47 162h1v1h-1zM47 170h1v2h-1zM48 5h1v1h-1zM48 12h1v3h-1zM48 20h1v1h-1zM48 38h1v1h-1zM48 45h1v1h-1zM48 47h1v1h-1zM48 54h1v1h-1zM48 72h1v1h-1zM48 106h1v1h-1zM48 127h1v1h-1zM48 129h1v1h-1zM48 144h1v1h-1zM48 157h1v1h-1zM48 173h1v1h-1zM48 175h1v1h-1zM48 180h1v1h-1zM48 209h1v1h-1zM48 230h1v1h-1zM49 139h1v1h-1zM49 149h1v1h-1zM49 157h1v1h-1z"/><path fill="#472d7c" d="M0 25h1v1h-1zM0 38h1v1h-1zM0 47h1v1h-1zM0 67h1v1h-1zM0 76h1v1h-1zM0 89h1v1h-1zM0 91h1v1h-1zM0 129h1v2h-1zM0 140h1v2h-1zM0 163h1v1h-1zM0 168h1v2h-1zM0 179h1v1h-1zM0 188h1v2h-1zM0 195h1v1h-1zM0 202h1v1h-1zM0 204h1v1h-1zM0 214h1v2h-1zM0 231h1v1h-1zM0 235h1v1h-1zM1 14h1v1h-1zM1 63h1v1h-1zM1 70h1v1h-1zM1 73h1v1h-1zM1 82h1v1h-1zM1 86h1v1h-1zM1 100h1v1h-1zM1 112h1v1h-1zM1 114h1v1h-1zM1 130h1v1h-1zM1 136h1v1h-1zM1 140h1v1h-1zM1 158h1v1h-1zM1 177h1v1h-1zM1 179h1v1h-1zM1 181h1v1h-1zM1 184h1v1h-1zM1 192h1v1h-1zM1 229h1v1h-1zM1 233h1v1h-1zM1 247h1v1h-1zM2 18h1v1h-1zM2 43h1v1h-1zM2 56h1v1h-1zM2 60h1v1h-1zM2 64h1v1h-1zM2 84h1v1h-1zM2 92h1v1h-1zM2 95h1v2h-1zM2 100h1v1h-1zM2 115h1v1h-1zM2 117h1v1h-1zM2 124h1v1h-1zM2 128h1v1h-1zM2 134h1v1h-1zM2 140h1v1h-1zM2 162h1v3h-1zM2 170h1v1h-1zM2 181h1v1h-1zM2 195h1v2h-1zM2 221h1v1h-1zM2 226h1v1h-1zM2 228h1v1h-1zM2 230h1v1h-1zM3 10h1v1h-1zM3 12h1v1h-1zM3 16h1v1h-1zM3 32h1v1h-1zM3 38h1v1h-1zM3 40h1v1h-1zM3 46h1v1h-1zM3 57h1v1h-1zM3 69h1v1h-1zM3 82h1v1h-1zM3 86h1v1h-1zM3 92h1v1h-1zM3 94h1v1h-1zM3 101h1v2h-1zM3 111h1v1h-1zM3 122h1v1h-1zM3 169h1v1h-1zM3 178h1v1h-1zM3 203h1v1h-1zM3 212h1v1h-1zM3 215h1v2h-1zM3 218h1v1h-1zM3 243h1v1h-1zM3 249h1v1h-1zM4 98h1v1h-1zM4 103h1v1h-1zM4 183h1v1h-1zM5 15h1v1h-1zM5 18h1v1h-1zM5 24h1v1h-1zM5 28h1v2h-1zM6 102h1v1h-1zM6 106h1v1h-1zM6 244h1v1h-1zM7 3h1v1h-1zM7 12h1v1h-1zM7 16h1v1h-1zM7 25h1v1h-1zM7 30h1v1h-1zM7 40h1v1h-1zM7 47h1v1h-1zM7 50h1v1h-1zM7 78h1v1h-1zM7 94h1v1h-1zM7 247h1v1h-1zM8 3h1v1h-1zM8 5h1v1h-1zM8 41h1v1h-1zM9 8h1v1h-1zM9 33h1v1h-1zM9 72h1v1h-1zM9 76h1v1h-1zM9 86h1v2h-1zM9 98h1v1h-1zM9 106h1v2h-1zM9 138h1v1h-1zM9 155h1v1h-1zM9 171h1v1h-1zM9 180h1v1h-1zM9 214h1v1h-1zM9 224h1v1h-1zM9 229h1v1h-1zM9 239h1v1h-1zM9 246h1v1h-1zM9 248h1v1h-1zM10 0h1v1h-1zM10 12h1v1h-1zM10 33h1v1h-1zM10 35h1v1h-1zM10 66h1v1h-1zM10 77h1v1h-1zM10 81h1v1h-1zM10 88h1v1h-1zM10 92h1v1h-1zM10 105h1v1h-1zM10 108h1v1h-1zM10 185h1v1h-1zM10 212h1v1h-1zM12 31h1v1h-1zM12 36h1v1h-1zM12 53h1v1h-1zM12 58h1v1h-1zM12 60h1v1h-1zM12 65h1v1h-1zM12 69h1v1h-1zM12 76h1v1h-1zM12 86h1v1h-1zM12 89h1v1h-1zM12 96h1v1h-1zM12 106h1v1h-1zM12 210h1v1h-1zM12 228h1v1h-1zM12 245h1v1h-1zM12 248h1v1h-1zM14 73h1v1h-1zM14 102h1v1h-1zM15 27h1v1h-1zM15 51h1v1h-1zM15 53h1v1h-1zM15 55h1v1h-1zM15 58h1v1h-1zM15 64h1v1h-1zM15 70h1v1h-1zM15 75h1v1h-1zM15 81h1v1h-1zM15 89h1v1h-1zM15 134h1v1h-1zM15 146h1v2h-1zM15 169h1v2h-1zM15 193h1v1h-1zM15 211h1v1h-1zM15 214h1v1h-1zM15 217h1v1h-1zM15 224h1v1h-1zM16 28h1v1h-1zM16 44h1v1h-1zM16 48h1v1h-1zM16 52h1v1h-1zM16 57h1v1h-1zM16 60h1v1h-1zM16 67h1v2h-1zM16 81h1v2h-1zM16 86h1v1h-1zM16 89h1v1h-1zM16 93h1v1h-1zM16 96h1v1h-1zM16 101h1v1h-1zM16 131h1v1h-1zM16 143h1v1h-1zM16 151h1v1h-1zM16 168h1v2h-1zM16 192h1v1h-1zM16 197h1v1h-1zM16 248h1v1h-1zM17 6h1v1h-1zM17 53h1v1h-1zM17 65h1v1h-1zM17 72h1v1h-1zM17 85h1v2h-1zM17 92h1v1h-1zM17 97h1v1h-1zM17 137h1v2h-1zM17 148h1v1h-1zM17 184h1v1h-1zM17 195h1v1h-1zM17 207h1v1h-1zM17 221h1v2h-1zM17 228h1v1h-1zM17 230h1v1h-1zM17 239h1v1h-1zM18 94h1v1h-1zM18 244h1v1h-1zM19 1h1v1h-1zM19 8h1v1h-1zM19 15h1v1h-1zM19 21h1v1h-1zM19 42h1v2h-1zM19 46h1v1h-1zM19 56h1v1h-1zM19 67h1v1h-1zM19 91h1v1h-1zM19 97h1v1h-1zM19 120h1v1h-1zM19 147h1v1h-1zM19 156h1v2h-1zM19 161h1v1h-1zM19 170h1v1h-1zM19 173h1v1h-1zM19 184h1v2h-1zM19 191h1v1h-1zM19 214h1v2h-1zM19 220h1v1h-1zM19 227h1v1h-1zM19 238h1v1h-1zM19 240h1v1h-1zM19 245h1v2h-1zM20 2h1v1h-1zM20 4h1v1h-1zM20 10h1v1h-1zM20 14h1v1h-1zM20 18h1v1h-1zM20 24h1v1h-1zM20 30h1v1h-1zM20 33h1v1h-1zM20 89h1v1h-1zM20 105h1v1h-1zM20 140h1v1h-1zM20 145h1v1h-1zM20 152h1v1h-1zM20 162h1v1h-1zM20 165h1v1h-1zM20 200h1v1h-1zM20 222h1v1h-1zM20 227h1v1h-1zM20 229h1v1h-1zM20 240h1v1h-1zM21 2h1v1h-1zM21 5h1v1h-1zM21 9h1v2h-1zM21 49h1v1h-1zM21 68h1v1h-1zM21 73h1v1h-1zM21 75h1v1h-1zM21 81h1v1h-1zM21 104h1v1h-1zM21 109h1v1h-1zM21 152h1v1h-1zM21 156h1v1h-1zM21 161h1v1h-1zM21 163h1v1h-1zM21 165h1v1h-1zM21 182h1v1h-1zM21 223h1v1h-1zM21 227h1v1h-1zM21 236h1v1h-1zM21 240h1v2h-1zM22 1h1v1h-1zM22 10h1v1h-1zM22 18h1v1h-1zM22 170h1v2h-1zM22 199h1v1h-1zM22 210h1v1h-1zM22 229h1v1h-1zM22 236h1v1h-1zM22 244h1v1h-1zM23 159h1v2h-1zM23 175h1v1h-1zM24 0h1v1h-1zM24 2h1v1h-1zM24 5h1v2h-1zM24 9h1v1h-1zM24 15h1v2h-1zM24 31h1v1h-1zM24 38h1v1h-1zM24 141h1v1h-1zM24 188h1v1h-1zM24 201h1v1h-1zM24 205h1v1h-1zM24 211h1v1h-1zM24 215h1v1h-1zM24 233h1v1h-1zM24 236h1v1h-1zM24 242h1v1h-1zM25 9h1v1h-1zM25 108h1v1h-1zM25 125h1v2h-1zM25 132h1v1h-1zM25 159h1v2h-1zM25 193h1v1h-1zM25 209h1v1h-1zM25 220h1v1h-1zM25 226h1v1h-1zM25 245h1v1h-1zM26 113h1v1h-1zM26 178h1v1h-1zM26 201h1v1h-1zM27 1h1v3h-1zM27 9h1v1h-1zM27 12h1v1h-1zM27 20h1v1h-1zM27 22h1v1h-1zM27 36h1v1h-1zM27 43h1v1h-1zM27 121h1v1h-1zM27 132h1v1h-1zM27 137h1v1h-1zM27 150h1v1h-1zM27 156h1v1h-1zM27 158h1v1h-1zM27 160h1v1h-1zM27 167h1v1h-1zM27 175h1v1h-1zM27 190h1v1h-1zM28 36h1v1h-1zM28 43h1v1h-1zM28 126h1v1h-1zM28 132h1v1h-1zM28 135h1v1h-1zM28 166h1v2h-1zM28 173h1v1h-1zM28 187h1v1h-1zM28 201h1v1h-1zM28 205h1v1h-1zM28 212h1v1h-1zM28 237h1v1h-1zM29 21h1v1h-1zM29 26h1v1h-1zM29 35h1v1h-1zM29 39h1v1h-1zM29 150h1v1h-1zM30 38h1v1h-1zM30 41h1v1h-1zM30 127h1v1h-1zM30 130h1v2h-1zM30 133h1v1h-1zM30 150h1v1h-1zM30 158h1v1h-1zM31 10h1v1h-1zM31 23h1v1h-1zM31 128h1v1h-1zM31 141h1v1h-1zM31 171h1v1h-1zM31 177h1v1h-1zM31 181h1v1h-1zM31 186h1v1h-1zM32 138h1v1h-1zM32 150h1v1h-1zM32 172h1v1h-1zM33 5h1v1h-1zM33 18h1v1h-1zM33 23h1v1h-1zM33 25h1v1h-1zM33 43h1v1h-1zM33 92h1v1h-1zM33 111h1v1h-1zM33 124h1v2h-1zM33 155h1v1h-1zM33 177h1v1h-1zM33 185h1v2h-1zM33 188h1v1h-1zM33 206h1v2h-1zM33 210h1v1h-1zM33 219h1v1h-1zM33 224h1v1h-1zM33 234h1v1h-1zM33 239h1v1h-1zM34 150h1v1h-1zM35 2h1v1h-1zM35 5h1v1h-1zM35 9h1v1h-1zM35 21h1v2h-1zM35 27h1v1h-1zM35 41h1v1h-1zM35 102h1v1h-1zM35 126h1v1h-1zM35 161h1v1h-1zM36 5h1v2h-1zM36 16h1v1h-1zM36 19h1v1h-1zM36 38h1v1h-1zM36 105h1v1h-1zM36 128h1v1h-1zM36 136h1v1h-1zM36 151h1v1h-1zM36 221h1v2h-1zM36 232h1v1h-1zM37 7h1v1h-1zM37 19h1v1h-1zM37 32h1v1h-1zM37 39h1v1h-1zM37 136h1v1h-1zM37 139h1v1h-1zM37 142h1v1h-1zM37 144h1v1h-1zM37 157h1v2h-1zM37 164h1v1h-1zM38 29h1v1h-1zM38 101h1v1h-1zM38 141h1v1h-1zM38 143h1v1h-1zM38 145h1v1h-1zM38 178h1v1h-1zM38 211h1v1h-1zM38 222h1v1h-1zM38 248h1v1h-1zM39 4h1v1h-1zM39 22h1v1h-1zM39 33h1v1h-1zM39 147h1v1h-1zM40 128h1v2h-1zM40 149h1v1h-1zM40 156h1v1h-1zM40 160h1v1h-1zM40 180h1v1h-1zM41 5h1v1h-1zM41 28h1v1h-1zM41 33h1v1h-1zM41 52h1v1h-1zM41 59h1v2h-1zM41 68h1v1h-1zM41 83h1v1h-1zM41 93h1v1h-1zM41 114h1v1h-1zM41 117h1v1h-1zM41 123h1v1h-1zM41 125h1v1h-1zM41 127h1v1h-1zM41 153h1v1h-1zM41 159h1v1h-1zM41 163h1v1h-1zM41 165h1v1h-1zM41 173h1v1h-1zM42 3h1v1h-1zM42 7h1v1h-1zM42 10h1v1h-1zM42 12h1v2h-1zM42 15h1v1h-1zM42 20h1v1h-1zM42 34h1v1h-1zM42 66h1v1h-1zM42 128h1v1h-1zM42 142h1v1h-1zM42 183h1v1h-1zM43 11h1v2h-1zM43 18h1v1h-1zM43 40h1v2h-1zM43 74h1v1h-1zM43 109h1v2h-1zM43 113h1v1h-1zM43 142h1v1h-1zM43 147h1v1h-1zM43 153h1v1h-1zM43 156h1v1h-1zM43 158h1v1h-1zM43 162h1v1h-1zM43 173h1v1h-1zM43 185h1v1h-1zM44 2h1v1h-1zM44 8h1v1h-1zM44 14h1v2h-1zM44 17h1v1h-1zM44 19h1v1h-1zM44 24h1v1h-1zM44 32h1v1h-1zM44 36h1v1h-1zM44 41h1v1h-1zM44 72h1v1h-1zM44 81h1v1h-1zM44 149h1v1h-1zM44 157h1v1h-1zM44 164h1v1h-1zM45 5h1v1h-1zM45 9h1v1h-1zM45 16h1v2h-1zM45 23h1v1h-1zM45 27h1v1h-1zM45 44h1v1h-1zM45 52h1v1h-1zM45 71h1v1h-1zM45 105h1v1h-1zM46 1h1v1h-1zM46 8h1v1h-1zM46 18h1v1h-1zM46 25h1v1h-1zM46 79h1v1h-1zM46 129h1v1h-1zM46 132h1v1h-1zM46 135h1v1h-1zM46 139h1v1h-1zM46 175h1v1h-1zM46 179h1v1h-1zM46 208h1v1h-1zM46 231h1v2h-1zM47 173h1v1h-1zM47 177h1v1h-1zM48 0h1v2h-1zM48 34h1v3h-1zM48 43h1v1h-1zM48 55h1v1h-1zM48 61h1v1h-1zM48 89h1v1h-1zM48 101h1v1h-1zM48 107h1v1h-1zM48 141h1v1h-1zM48 145h1v1h-1zM48 155h1v1h-1zM48 186h1v1h-1zM48 226h1v1h-1zM48 248h1v1h-1zM49 4h1v1h-1zM49 11h1v1h-1zM49 114h1v1h-1zM49 138h1v1h-1zM49 207h1v1h-1zM49 230h1v1h-1z"/><path fill="#453580" d="M0 20h1v1h-1zM0 34h1v1h-1zM0 37h1v1h-1zM0 40h1v2h-1zM0 43h1v1h-1zM0 45h1v1h-1zM0 111h1v2h-1zM0 115h1v1h-1zM0 117h1v1h-1zM0 124h1v1h-1zM0 132h1v1h-1zM0 153h1v1h-1zM0 182h1v1h-1zM0 187h1v1h-1zM0 209h1v1h-1zM0 213h1v1h-1zM0 223h1v1h-1zM0 240h1v1h-1zM1 25h1v1h-1zM1 28h1v1h-1zM1 32h1v1h-1zM1 36h1v1h-1zM1 40h1v1h-1zM1 71h1v1h-1zM1 79h1v1h-1zM1 92h1v1h-1zM1 97h1v2h-1zM1 102h1v3h-1zM1 107h1v1h-1zM1 156h1v1h-1zM1 161h1v1h-1zM1 165h1v1h-1zM1 167h1v1h-1zM1 176h1v1h-1zM1 182h1v1h-1zM1 190h1v1h-1zM1 211h1v1h-1zM1 226h1v2h-1zM2 19h1v1h-1zM2 27h1v1h-1zM2 40h1v1h-1zM2 55h1v1h-1zM2 91h1v1h-1zM2 94h1v1h-1zM2 101h1v1h-1zM2 108h1v1h-1zM2 119h1v1h-1zM2 125h1v1h-1zM2 127h1v1h-1zM2 135h1v2h-1zM2 153h1v1h-1zM2 187h1v1h-1zM2 191h1v1h-1zM2 215h1v1h-1zM2 245h1v1h-1zM3 0h1v3h-1zM3 34h1v1h-1zM3 42h1v2h-1zM3 55h1v1h-1zM3 59h1v1h-1zM3 61h1v1h-1zM3 63h1v2h-1zM3 66h1v1h-1zM3 71h1v2h-1zM3 76h1v1h-1zM3 80h1v1h-1zM3 89h1v1h-1zM3 96h1v1h-1zM3 103h1v1h-1zM3 110h1v1h-1zM3 115h1v1h-1zM3 118h1v1h-1zM3 120h1v1h-1zM3 124h1v1h-1zM3 130h1v1h-1zM3 137h1v1h-1zM3 143h1v1h-1zM3 157h1v1h-1zM3 160h1v2h-1zM3 172h1v1h-1zM3 174h1v1h-1zM3 181h1v1h-1zM3 187h1v1h-1zM3 191h1v1h-1zM3 205h1v1h-1zM3 208h1v1h-1zM3 220h1v1h-1zM3 230h1v1h-1zM3 237h1v2h-1zM3 240h1v2h-1zM4 73h1v1h-1zM4 104h1v1h-1zM5 4h1v1h-1zM5 46h1v1h-1zM5 59h1v1h-1zM5 63h1v1h-1zM5 81h1v1h-1zM5 91h1v1h-1zM5 95h1v1h-1zM5 102h1v1h-1zM5 193h1v1h-1zM6 81h1v1h-1zM7 0h1v3h-1zM7 14h1v1h-1zM7 18h1v1h-1zM7 21h1v1h-1zM7 23h1v1h-1zM7 26h1v1h-1zM7 31h1v1h-1zM7 42h1v1h-1zM7 46h1v1h-1zM7 51h1v1h-1zM7 54h1v1h-1zM7 73h1v1h-1zM7 77h1v1h-1zM7 107h1v1h-1zM8 1h1v1h-1zM8 37h1v1h-1zM9 5h1v1h-1zM9 62h1v1h-1zM9 65h1v1h-1zM9 94h1v1h-1zM9 178h1v1h-1zM9 189h1v1h-1zM9 219h1v1h-1zM9 221h1v1h-1zM10 1h1v1h-1zM10 9h1v2h-1zM10 45h1v1h-1zM10 62h1v1h-1zM10 82h1v1h-1zM10 85h1v1h-1zM10 95h1v1h-1zM10 101h1v1h-1zM10 104h1v1h-1zM10 188h1v1h-1zM10 198h1v1h-1zM10 217h1v1h-1zM10 226h1v2h-1zM10 249h1v1h-1zM11 17h1v1h-1zM11 71h1v1h-1zM11 99h1v1h-1zM12 8h1v1h-1zM12 11h1v1h-1zM12 13h1v1h-1zM12 44h1v1h-1zM12 49h1v1h-1zM12 81h1v1h-1zM12 121h1v1h-1zM12 151h1v1h-1zM12 153h1v1h-1zM12 165h1v1h-1zM12 217h1v1h-1zM12 219h1v1h-1zM12 221h1v1h-1zM12 225h1v1h-1zM12 227h1v1h-1zM12 229h1v1h-1zM12 236h1v1h-1zM12 247h1v1h-1zM13 21h1v1h-1zM13 23h1v1h-1zM13 29h1v1h-1zM13 39h1v1h-1zM13 46h1v1h-1zM13 76h1v1h-1zM13 79h1v1h-1zM13 81h1v1h-1zM13 93h1v1h-1zM13 97h1v1h-1zM13 237h1v1h-1zM14 76h1v1h-1zM14 105h1v2h-1zM15 2h1v1h-1zM15 22h1v1h-1zM15 24h1v1h-1zM15 42h1v1h-1zM15 45h1v1h-1zM15 52h1v1h-1zM15 131h1v1h-1zM15 135h1v2h-1zM15 155h1v1h-1zM15 162h1v1h-1zM15 165h1v1h-1zM15 182h1v1h-1zM15 188h1v1h-1zM15 205h1v1h-1zM15 246h1v1h-1zM16 12h1v1h-1zM16 53h1v1h-1zM16 62h1v1h-1zM16 102h1v1h-1zM16 109h1v1h-1zM16 137h1v1h-1zM16 190h1v1h-1zM16 196h1v1h-1zM16 214h1v1h-1zM16 228h1v1h-1zM17 20h1v1h-1zM17 61h1v1h-1zM17 69h1v1h-1zM17 83h1v1h-1zM17 145h1v1h-1zM17 149h1v1h-1zM17 168h1v1h-1zM17 172h1v1h-1zM17 182h1v2h-1zM17 192h1v1h-1zM17 196h1v2h-1zM17 244h1v1h-1zM18 33h1v1h-1zM18 72h1v1h-1zM18 85h1v1h-1zM18 106h1v1h-1zM18 218h1v1h-1zM19 34h1v1h-1zM19 52h1v1h-1zM19 65h1v1h-1zM19 77h1v1h-1zM19 83h1v2h-1zM19 98h1v1h-1zM19 143h1v1h-1zM19 146h1v1h-1zM19 160h1v1h-1zM19 182h1v1h-1zM19 199h1v1h-1zM19 209h1v1h-1zM19 213h1v1h-1zM19 228h1v1h-1zM19 239h1v1h-1zM20 5h1v2h-1zM20 9h1v1h-1zM20 12h1v2h-1zM20 15h1v2h-1zM20 28h1v1h-1zM20 47h1v1h-1zM20 50h1v1h-1zM20 56h1v1h-1zM20 62h1v2h-1zM20 65h1v1h-1zM20 102h1v1h-1zM20 135h1v1h-1zM20 143h1v1h-1zM20 157h1v1h-1zM20 164h1v1h-1zM20 169h1v1h-1zM20 173h1v1h-1zM20 185h1v1h-1zM20 193h1v1h-1zM20 196h1v1h-1zM20 205h1v1h-1zM20 219h1v1h-1zM20 226h1v1h-1zM20 231h1v1h-1zM20 234h1v2h-1zM21 7h1v1h-1zM21 23h1v1h-1zM21 27h1v1h-1zM21 33h1v2h-1zM21 46h1v1h-1zM21 61h1v1h-1zM21 63h1v1h-1zM21 69h1v2h-1zM21 78h1v1h-1zM21 105h1v1h-1zM21 107h1v1h-1zM21 128h1v1h-1zM21 132h1v1h-1zM21 136h1v1h-1zM21 139h1v1h-1zM21 143h1v1h-1zM21 148h1v1h-1zM21 170h1v1h-1zM21 174h1v1h-1zM21 193h1v1h-1zM21 196h1v2h-1zM21 202h1v1h-1zM21 207h1v1h-1zM21 209h1v2h-1zM21 213h1v1h-1zM21 216h1v1h-1zM21 239h1v1h-1zM21 243h1v1h-1zM22 6h1v1h-1zM22 38h1v1h-1zM22 43h1v1h-1zM22 67h1v1h-1zM22 69h1v1h-1zM22 100h1v1h-1zM22 134h1v1h-1zM22 152h1v1h-1zM22 163h1v1h-1zM22 175h1v1h-1zM22 177h1v2h-1zM22 183h1v1h-1zM22 187h1v1h-1zM22 192h1v1h-1zM22 202h1v1h-1zM22 211h1v3h-1zM22 218h1v1h-1zM22 235h1v1h-1zM23 147h1v1h-1zM23 156h1v1h-1zM23 167h1v2h-1zM24 18h1v1h-1zM24 23h1v1h-1zM24 32h1v1h-1zM24 124h1v1h-1zM24 154h1v1h-1zM24 193h1v1h-1zM24 198h1v1h-1zM24 200h1v1h-1zM24 217h1v1h-1zM25 23h1v1h-1zM25 27h1v1h-1zM25 109h1v1h-1zM25 113h1v1h-1zM25 130h1v1h-1zM25 140h1v1h-1zM25 180h1v1h-1zM25 190h1v1h-1zM25 192h1v1h-1zM25 196h1v1h-1zM25 199h1v1h-1zM25 230h1v1h-1zM25 240h1v1h-1zM26 7h1v1h-1zM26 14h1v1h-1zM26 16h1v1h-1zM26 20h1v1h-1zM26 37h1v1h-1zM26 52h1v1h-1zM26 122h1v1h-1zM26 126h1v1h-1zM26 148h1v1h-1zM26 176h1v1h-1zM26 181h1v1h-1zM26 229h1v1h-1zM27 7h1v1h-1zM27 13h1v1h-1zM27 21h1v1h-1zM27 41h1v1h-1zM27 50h1v2h-1zM27 124h1v1h-1zM27 130h1v1h-1zM27 134h1v1h-1zM27 138h1v1h-1zM27 143h1v2h-1zM27 153h1v1h-1zM27 161h1v1h-1zM27 211h1v1h-1zM27 215h1v1h-1zM28 6h1v1h-1zM28 20h1v1h-1zM28 48h1v1h-1zM28 138h1v1h-1zM28 144h1v1h-1zM28 150h1v1h-1zM28 152h1v1h-1zM28 171h1v1h-1zM28 180h1v1h-1zM28 195h1v1h-1zM28 209h1v3h-1zM28 216h1v1h-1zM28 218h1v1h-1zM28 226h1v1h-1zM28 229h1v1h-1zM28 233h1v1h-1zM28 239h1v1h-1zM29 28h1v1h-1zM29 34h1v1h-1zM29 145h1v1h-1zM29 160h1v1h-1zM29 167h1v1h-1zM30 39h1v1h-1zM30 105h1v1h-1zM30 128h1v1h-1zM30 138h1v1h-1zM30 146h1v1h-1zM30 164h1v1h-1zM30 167h1v1h-1zM30 173h1v1h-1zM30 192h1v1h-1zM31 0h1v1h-1zM31 11h1v1h-1zM31 21h1v1h-1zM31 31h1v1h-1zM31 129h1v1h-1zM31 131h1v1h-1zM31 137h1v2h-1zM31 179h1v1h-1zM31 228h1v1h-1zM31 245h1v1h-1zM32 6h1v1h-1zM32 153h1v1h-1zM32 163h1v1h-1zM33 34h1v1h-1zM33 38h1v1h-1zM33 47h1v1h-1zM33 108h1v1h-1zM33 119h1v1h-1zM33 145h1v1h-1zM33 149h1v1h-1zM33 165h1v1h-1zM33 169h1v1h-1zM33 195h1v1h-1zM33 204h1v1h-1zM33 230h1v1h-1zM33 232h1v1h-1zM33 240h1v1h-1zM33 246h1v1h-1zM34 8h1v1h-1zM34 124h1v1h-1zM34 141h1v1h-1zM35 12h1v1h-1zM35 30h1v2h-1zM35 118h1v1h-1zM35 134h1v1h-1zM35 144h1v1h-1zM35 146h1v1h-1zM35 149h1v1h-1zM35 186h1v1h-1zM35 239h1v1h-1zM36 2h1v1h-1zM36 27h1v1h-1zM36 44h1v1h-1zM36 71h1v1h-1zM36 129h1v1h-1zM36 131h1v2h-1zM36 139h1v1h-1zM36 143h1v1h-1zM36 149h1v1h-1zM36 154h1v1h-1zM36 162h1v1h-1zM36 166h1v1h-1zM36 186h1v1h-1zM36 192h1v1h-1zM36 236h1v1h-1zM37 6h1v1h-1zM37 40h1v1h-1zM37 132h1v1h-1zM37 143h1v1h-1zM37 153h1v1h-1zM37 196h1v1h-1zM37 202h1v1h-1zM37 228h1v1h-1zM37 239h1v1h-1zM38 13h1v1h-1zM38 81h1v1h-1zM38 88h1v1h-1zM38 112h1v1h-1zM38 115h1v1h-1zM38 124h1v1h-1zM38 134h1v1h-1zM38 136h1v1h-1zM38 205h1v1h-1zM38 231h1v1h-1zM39 5h1v1h-1zM39 16h1v1h-1zM39 19h1v1h-1zM39 27h1v1h-1zM39 30h1v1h-1zM39 36h1v1h-1zM39 133h1v1h-1zM39 225h1v1h-1zM40 170h1v3h-1zM40 181h1v1h-1zM40 183h1v1h-1zM41 16h1v1h-1zM41 19h1v1h-1zM41 29h1v1h-1zM41 42h1v1h-1zM41 45h1v1h-1zM41 49h1v1h-1zM41 70h1v1h-1zM41 84h1v1h-1zM41 87h1v1h-1zM41 89h1v2h-1zM41 92h1v1h-1zM41 113h1v1h-1zM41 134h1v1h-1zM41 157h1v1h-1zM41 170h1v1h-1zM42 1h1v1h-1zM42 8h1v1h-1zM42 27h1v1h-1zM42 32h1v1h-1zM42 39h1v1h-1zM42 160h1v1h-1zM42 172h1v1h-1zM42 182h1v1h-1zM43 0h1v1h-1zM43 2h1v1h-1zM43 7h1v2h-1zM43 15h1v1h-1zM43 22h1v1h-1zM43 24h1v1h-1zM43 37h1v1h-1zM43 48h1v1h-1zM43 59h1v1h-1zM43 117h1v1h-1zM43 122h1v1h-1zM43 130h1v2h-1zM43 139h1v1h-1zM43 184h1v1h-1zM44 3h1v1h-1zM44 16h1v1h-1zM44 22h1v1h-1zM44 26h1v2h-1zM44 30h1v1h-1zM44 42h1v1h-1zM44 54h1v1h-1zM44 59h1v1h-1zM44 137h1v1h-1zM44 168h1v1h-1zM45 51h1v1h-1zM45 55h1v2h-1zM45 58h1v1h-1zM45 99h1v1h-1zM45 107h1v1h-1zM45 153h1v1h-1zM45 180h1v1h-1zM46 14h1v1h-1zM46 16h1v1h-1zM46 33h1v1h-1zM46 40h1v1h-1zM46 51h1v1h-1zM46 66h1v1h-1zM46 112h1v1h-1zM46 118h1v1h-1zM46 124h1v1h-1zM46 131h1v1h-1zM46 133h1v1h-1zM46 148h1v1h-1zM46 157h1v2h-1zM46 163h1v1h-1zM46 193h1v1h-1zM47 23h1v1h-1zM47 136h1v1h-1zM47 159h1v1h-1zM48 10h1v1h-1zM48 18h1v1h-1zM48 39h1v1h-1zM48 46h1v1h-1zM48 62h1v1h-1zM48 74h1v1h-1zM48 87h1v1h-1zM48 110h1v1h-1zM48 125h1v1h-1zM48 132h1v1h-1zM48 135h1v1h-1zM48 140h1v1h-1zM48 172h1v1h-1zM48 177h1v2h-1zM48 185h1v1h-1zM48 238h1v1h-1zM49 8h1v1h-1zM49 14h1v1h-1zM49 122h1v1h-1zM49 140h1v1h-1z"/><path fill="#433e84" d="M0 1h1v1h-1zM0 7h1v4h-1zM0 35h1v1h-1zM0 44h1v1h-1zM0 50h1v1h-1zM0 65h1v1h-1zM0 68h1v1h-1zM0 70h1v1h-1zM0 75h1v1h-1zM0 81h1v1h-1zM0 85h1v1h-1zM0 95h1v1h-1zM0 99h1v1h-1zM0 102h1v1h-1zM0 121h1v1h-1zM0 135h1v1h-1zM0 137h1v1h-1zM0 211h1v2h-1zM0 244h1v1h-1zM1 4h1v1h-1zM1 26h1v2h-1zM1 46h1v1h-1zM1 57h1v1h-1zM1 68h1v1h-1zM1 81h1v1h-1zM1 90h1v1h-1zM1 105h1v1h-1zM1 108h1v2h-1zM1 116h1v1h-1zM1 127h1v1h-1zM1 137h1v1h-1zM1 159h1v1h-1zM1 169h1v1h-1zM1 172h1v1h-1zM1 205h1v1h-1zM1 210h1v1h-1zM1 213h1v2h-1zM1 216h1v1h-1zM1 221h1v1h-1zM1 239h1v1h-1zM1 242h1v1h-1zM1 246h1v1h-1zM1 248h1v1h-1zM2 46h1v1h-1zM2 50h1v1h-1zM2 114h1v1h-1zM2 122h1v1h-1zM2 131h1v2h-1zM2 139h1v1h-1zM2 171h1v1h-1zM2 193h1v1h-1zM2 204h1v1h-1zM2 216h1v1h-1zM2 225h1v1h-1zM2 243h1v1h-1zM3 3h1v2h-1zM3 14h1v1h-1zM3 19h1v1h-1zM3 25h1v1h-1zM3 31h1v1h-1zM3 33h1v1h-1zM3 44h1v1h-1zM3 58h1v1h-1zM3 60h1v1h-1zM3 78h1v1h-1zM3 87h1v1h-1zM3 116h1v1h-1zM3 159h1v1h-1zM3 167h1v1h-1zM3 209h1v1h-1zM3 214h1v1h-1zM3 221h1v1h-1zM3 223h1v1h-1zM3 228h1v1h-1zM4 70h1v1h-1zM4 72h1v1h-1zM4 74h1v1h-1zM4 99h1v2h-1zM5 6h1v1h-1zM5 9h1v1h-1zM5 11h1v1h-1zM5 20h1v1h-1zM5 23h1v1h-1zM5 26h1v1h-1zM5 42h1v1h-1zM5 51h1v1h-1zM5 54h1v1h-1zM5 68h1v1h-1zM5 70h1v2h-1zM5 75h1v1h-1zM5 82h1v1h-1zM5 85h1v1h-1zM5 165h1v1h-1zM5 239h1v1h-1zM6 79h1v1h-1zM6 101h1v1h-1zM6 104h1v1h-1zM7 10h1v1h-1zM7 19h1v2h-1zM7 27h1v1h-1zM7 48h1v1h-1zM7 61h1v1h-1zM7 63h1v1h-1zM7 67h1v1h-1zM7 75h1v1h-1zM7 81h1v1h-1zM7 89h1v1h-1zM7 101h1v1h-1zM7 104h1v1h-1zM7 109h1v1h-1zM7 185h1v1h-1zM7 230h1v1h-1zM7 246h1v1h-1zM8 11h1v1h-1zM8 54h1v1h-1zM8 75h1v1h-1zM8 80h1v1h-1zM8 235h1v2h-1zM9 46h1v1h-1zM9 74h1v1h-1zM9 77h1v1h-1zM9 118h1v1h-1zM9 160h1v1h-1zM9 172h1v1h-1zM9 184h1v1h-1zM9 192h1v1h-1zM9 235h1v1h-1zM9 240h1v2h-1zM9 244h1v1h-1zM10 8h1v1h-1zM10 20h1v1h-1zM10 36h1v1h-1zM10 46h1v1h-1zM10 51h1v1h-1zM10 84h1v1h-1zM10 90h1v1h-1zM10 96h1v1h-1zM10 178h1v1h-1zM10 205h1v1h-1zM10 207h1v1h-1zM10 213h1v1h-1zM10 216h1v1h-1zM10 220h1v1h-1zM10 222h1v1h-1zM10 224h1v2h-1zM10 237h1v2h-1zM11 18h1v1h-1zM11 67h1v1h-1zM11 69h1v1h-1zM11 101h1v1h-1zM12 59h1v1h-1zM12 84h1v1h-1zM12 108h1v1h-1zM12 113h1v1h-1zM12 164h1v1h-1zM12 181h1v1h-1zM12 207h1v1h-1zM12 213h1v1h-1zM12 215h1v1h-1zM12 223h1v1h-1zM12 235h1v1h-1zM12 244h1v1h-1zM12 246h1v1h-1zM13 19h1v1h-1zM13 32h1v1h-1zM13 66h1v1h-1zM13 70h1v1h-1zM13 99h1v1h-1zM13 102h1v1h-1zM13 106h1v1h-1zM13 149h1v1h-1zM14 9h1v1h-1zM14 22h1v1h-1zM14 40h1v1h-1zM14 80h1v2h-1zM14 83h1v1h-1zM14 93h1v1h-1zM14 100h1v1h-1zM15 9h1v1h-1zM15 16h1v1h-1zM15 21h1v1h-1zM15 29h1v1h-1zM15 39h1v1h-1zM15 67h1v1h-1zM15 91h1v1h-1zM15 94h1v2h-1zM15 98h1v1h-1zM15 132h1v1h-1zM15 137h1v1h-1zM15 175h1v1h-1zM15 194h1v1h-1zM15 220h1v1h-1zM15 232h1v1h-1zM15 245h1v1h-1zM16 16h1v1h-1zM16 26h1v1h-1zM16 31h1v1h-1zM16 46h1v1h-1zM16 135h1v1h-1zM16 142h1v1h-1zM16 145h1v1h-1zM16 147h1v1h-1zM16 154h1v1h-1zM16 165h1v1h-1zM16 220h1v1h-1zM17 44h1v1h-1zM17 62h1v1h-1zM17 71h1v1h-1zM17 76h1v1h-1zM17 87h1v1h-1zM17 91h1v1h-1zM17 96h1v1h-1zM17 131h1v1h-1zM17 142h1v1h-1zM17 151h1v2h-1zM17 174h1v1h-1zM17 185h1v1h-1zM17 189h1v1h-1zM17 191h1v1h-1zM17 193h1v1h-1zM17 199h1v2h-1zM17 208h1v1h-1zM17 212h1v2h-1zM17 215h1v1h-1zM17 232h1v1h-1zM17 235h1v1h-1zM18 10h1v1h-1zM18 13h1v1h-1zM18 25h1v1h-1zM18 61h1v1h-1zM18 68h1v1h-1zM18 75h1v1h-1zM18 93h1v1h-1zM18 97h1v1h-1zM18 102h1v1h-1zM18 139h1v1h-1zM18 149h1v1h-1zM18 236h1v1h-1zM19 18h1v1h-1zM19 23h1v1h-1zM19 53h1v1h-1zM19 74h1v1h-1zM19 85h1v1h-1zM19 106h1v1h-1zM19 135h1v2h-1zM19 140h1v1h-1zM19 148h1v1h-1zM19 168h1v2h-1zM19 172h1v1h-1zM19 190h1v1h-1zM19 202h1v1h-1zM19 244h1v1h-1zM20 20h1v1h-1zM20 22h1v1h-1zM20 41h1v1h-1zM20 43h1v1h-1zM20 46h1v1h-1zM20 51h1v1h-1zM20 64h1v1h-1zM20 74h1v1h-1zM20 101h1v1h-1zM20 136h1v1h-1zM20 153h1v1h-1zM20 163h1v1h-1zM20 175h1v1h-1zM20 191h1v2h-1zM20 208h1v1h-1zM20 247h1v1h-1zM21 3h1v1h-1zM21 16h1v1h-1zM21 20h1v1h-1zM21 30h1v1h-1zM21 38h1v1h-1zM21 62h1v1h-1zM21 102h1v1h-1zM21 110h1v1h-1zM21 135h1v1h-1zM21 147h1v1h-1zM21 151h1v1h-1zM21 159h1v2h-1zM21 162h1v1h-1zM21 173h1v1h-1zM21 180h1v2h-1zM21 183h1v3h-1zM21 190h1v1h-1zM21 198h1v1h-1zM21 218h1v1h-1zM21 221h1v1h-1zM21 226h1v1h-1zM21 231h1v1h-1zM21 244h1v1h-1zM22 0h1v1h-1zM22 7h1v2h-1zM22 15h1v1h-1zM22 35h1v1h-1zM22 47h1v1h-1zM22 63h1v1h-1zM22 127h1v1h-1zM22 129h1v1h-1zM22 141h1v1h-1zM22 149h1v2h-1zM22 153h1v1h-1zM22 158h1v1h-1zM22 164h1v1h-1zM22 180h1v1h-1zM22 182h1v1h-1zM22 195h1v1h-1zM23 154h1v2h-1zM23 165h1v1h-1zM23 172h1v1h-1zM23 180h1v1h-1zM23 186h1v1h-1zM23 249h1v1h-1zM24 22h1v1h-1zM24 52h1v1h-1zM24 56h1v1h-1zM24 59h1v1h-1zM24 128h1v1h-1zM24 137h1v1h-1zM24 175h1v1h-1zM24 187h1v1h-1zM24 197h1v1h-1zM24 203h1v1h-1zM24 214h1v1h-1zM24 216h1v1h-1zM25 21h1v1h-1zM25 43h1v1h-1zM25 163h1v1h-1zM25 178h1v1h-1zM25 191h1v1h-1zM25 215h1v1h-1zM25 227h1v1h-1zM25 243h1v1h-1zM25 247h1v1h-1zM26 28h1v1h-1zM26 31h1v1h-1zM26 33h1v1h-1zM26 38h1v1h-1zM26 149h1v1h-1zM26 159h1v1h-1zM26 167h1v1h-1zM26 195h1v1h-1zM26 228h1v1h-1zM26 234h1v2h-1zM26 244h1v1h-1zM27 0h1v1h-1zM27 4h1v1h-1zM27 10h1v1h-1zM27 17h1v1h-1zM27 25h1v1h-1zM27 39h1v1h-1zM27 42h1v1h-1zM27 52h1v2h-1zM27 61h1v2h-1zM27 112h1v1h-1zM27 135h1v1h-1zM27 139h1v1h-1zM27 142h1v1h-1zM27 170h1v1h-1zM27 176h1v1h-1zM27 188h1v1h-1zM27 195h1v2h-1zM27 207h1v1h-1zM27 210h1v1h-1zM27 220h1v1h-1zM27 232h1v1h-1zM27 247h1v1h-1zM28 7h1v1h-1zM28 12h1v1h-1zM28 14h1v1h-1zM28 34h1v1h-1zM28 50h1v1h-1zM28 129h1v1h-1zM28 133h1v1h-1zM28 146h1v1h-1zM28 168h1v1h-1zM28 175h1v1h-1zM28 179h1v1h-1zM28 181h1v1h-1zM28 184h1v1h-1zM28 221h1v1h-1zM29 15h1v1h-1zM29 20h1v1h-1zM29 25h1v1h-1zM29 31h1v1h-1zM29 81h1v1h-1zM29 128h1v1h-1zM29 132h1v1h-1zM29 135h1v1h-1zM29 232h1v1h-1zM30 99h1v1h-1zM30 140h1v2h-1zM30 144h1v1h-1zM30 149h1v1h-1zM30 165h1v1h-1zM30 168h1v1h-1zM30 176h1v1h-1zM30 182h1v1h-1zM30 185h1v1h-1zM30 202h1v1h-1zM30 211h1v1h-1zM31 7h1v1h-1zM31 20h1v1h-1zM31 33h1v1h-1zM31 113h1v1h-1zM31 139h1v2h-1zM31 149h1v1h-1zM31 157h1v1h-1zM31 163h1v1h-1zM31 173h1v1h-1zM31 184h1v1h-1zM31 187h1v1h-1zM31 236h1v1h-1zM32 31h1v1h-1zM32 40h1v1h-1zM32 89h1v1h-1zM32 111h1v1h-1zM32 123h1v1h-1zM32 127h1v1h-1zM32 145h1v1h-1zM32 148h1v1h-1zM32 154h1v1h-1zM32 158h1v1h-1zM32 175h1v1h-1zM32 194h1v1h-1zM33 4h1v1h-1zM33 10h1v1h-1zM33 15h1v1h-1zM33 27h1v1h-1zM33 44h1v1h-1zM33 112h1v1h-1zM33 114h1v1h-1zM33 117h1v1h-1zM33 127h1v1h-1zM33 131h1v1h-1zM33 146h1v1h-1zM33 164h1v1h-1zM33 184h1v1h-1zM33 189h1v1h-1zM33 193h1v1h-1zM33 245h1v1h-1zM33 249h1v1h-1zM34 103h1v1h-1zM34 185h1v1h-1zM34 225h1v1h-1zM34 247h1v1h-1zM35 13h1v1h-1zM35 16h1v1h-1zM35 19h1v1h-1zM35 28h1v1h-1zM35 40h1v1h-1zM35 103h1v1h-1zM35 116h1v1h-1zM35 145h1v1h-1zM35 148h1v1h-1zM35 166h1v1h-1zM35 199h1v1h-1zM35 223h1v1h-1zM35 237h1v1h-1zM36 7h1v1h-1zM36 21h1v1h-1zM36 40h1v1h-1zM36 93h1v1h-1zM36 101h1v1h-1zM36 111h1v1h-1zM36 126h1v1h-1zM36 135h1v1h-1zM36 138h1v1h-1zM36 142h1v1h-1zM36 147h1v1h-1zM36 167h1v1h-1zM36 176h1v1h-1zM36 196h1v1h-1zM36 228h1v1h-1zM36 245h1v1h-1zM37 4h1v1h-1zM37 9h1v2h-1zM37 12h1v1h-1zM37 31h1v1h-1zM37 34h1v1h-1zM37 48h1v1h-1zM37 130h1v1h-1zM37 141h1v1h-1zM37 151h1v2h-1zM37 154h1v1h-1zM37 156h1v1h-1zM37 165h1v1h-1zM37 172h1v1h-1zM37 182h1v1h-1zM37 186h1v1h-1zM37 192h1v1h-1zM37 212h1v1h-1zM37 224h1v1h-1zM38 31h1v2h-1zM38 38h1v1h-1zM38 63h1v1h-1zM38 79h1v1h-1zM38 84h1v1h-1zM38 90h1v1h-1zM38 95h1v1h-1zM38 106h1v1h-1zM38 118h1v1h-1zM38 120h1v1h-1zM38 122h1v1h-1zM38 128h1v1h-1zM38 157h1v1h-1zM38 190h1v1h-1zM38 194h1v1h-1zM38 226h1v1h-1zM38 239h1v1h-1zM38 241h1v1h-1zM39 1h1v1h-1zM39 17h1v1h-1zM39 100h1v1h-1zM39 107h1v1h-1zM39 245h1v1h-1zM40 16h1v1h-1zM40 19h1v1h-1zM40 124h1v1h-1zM40 135h1v1h-1zM40 137h1v2h-1zM40 146h1v2h-1zM40 153h1v1h-1zM41 32h1v1h-1zM41 43h1v1h-1zM41 55h1v1h-1zM41 95h1v1h-1zM41 139h1v1h-1zM41 160h1v1h-1zM42 16h1v1h-1zM42 36h1v1h-1zM42 127h1v1h-1zM42 137h1v1h-1zM42 145h1v1h-1zM42 147h1v1h-1zM42 150h1v1h-1zM42 152h1v1h-1zM42 174h1v1h-1zM43 4h1v1h-1zM43 34h1v1h-1zM43 38h1v1h-1zM43 49h1v1h-1zM43 68h1v1h-1zM43 84h1v1h-1zM43 114h1v1h-1zM43 129h1v1h-1zM43 134h1v1h-1zM43 152h1v1h-1zM43 159h1v1h-1zM43 182h1v2h-1zM44 34h1v1h-1zM44 40h1v1h-1zM44 52h1v1h-1zM44 98h1v1h-1zM44 140h1v1h-1zM44 155h1v1h-1zM44 167h1v1h-1zM44 172h1v1h-1zM44 225h1v1h-1zM45 22h1v1h-1zM45 41h1v1h-1zM45 48h1v1h-1zM45 50h1v1h-1zM45 53h1v1h-1zM45 62h1v1h-1zM45 65h1v1h-1zM45 109h1v1h-1zM45 126h1v1h-1zM45 131h1v1h-1zM45 137h1v1h-1zM45 142h1v1h-1zM45 145h1v1h-1zM45 149h1v1h-1zM45 151h1v1h-1zM45 155h1v1h-1zM45 164h1v1h-1zM45 168h1v1h-1zM45 181h1v1h-1zM46 12h1v1h-1zM46 17h1v1h-1zM46 34h1v2h-1zM46 39h1v1h-1zM46 45h1v1h-1zM46 54h1v2h-1zM46 58h1v1h-1zM46 60h1v1h-1zM46 94h1v1h-1zM46 126h1v1h-1zM46 154h1v1h-1zM46 169h1v2h-1zM46 184h1v1h-1zM46 197h1v1h-1zM46 230h1v1h-1zM46 240h1v1h-1zM47 6h1v1h-1zM47 20h1v1h-1zM47 74h1v1h-1zM47 134h1v1h-1zM47 137h1v1h-1zM47 149h1v1h-1zM47 165h1v1h-1zM47 229h1v1h-1zM48 19h1v1h-1zM48 50h1v1h-1zM48 53h1v1h-1zM48 57h1v1h-1zM48 68h1v1h-1zM48 108h1v1h-1zM48 111h1v1h-1zM48 117h1v1h-1zM48 123h1v2h-1zM48 128h1v1h-1zM48 146h1v1h-1zM48 152h1v1h-1zM48 156h1v1h-1zM48 159h1v1h-1zM48 164h1v2h-1zM48 215h1v1h-1zM48 229h1v1h-1zM48 236h1v1h-1zM48 245h1v1h-1zM49 67h1v1h-1zM49 131h1v1h-1zM49 158h1v1h-1zM49 167h1v2h-1zM49 193h1v1h-1zM49 234h1v1h-1z"/><path fill="#404587" d="M0 11h1v1h-1zM0 19h1v1h-1zM0 32h1v1h-1zM0 56h1v1h-1zM0 72h1v1h-1zM0 74h1v1h-1zM0 78h1v1h-1zM0 80h1v1h-1zM0 83h1v1h-1zM0 101h1v1h-1zM0 104h1v2h-1zM0 110h1v1h-1zM0 114h1v1h-1zM0 116h1v1h-1zM0 203h1v1h-1zM0 208h1v1h-1zM0 216h1v1h-1zM1 7h1v1h-1zM1 18h1v1h-1zM1 21h1v1h-1zM1 31h1v1h-1zM1 37h1v1h-1zM1 43h1v1h-1zM1 120h1v1h-1zM1 126h1v1h-1zM1 134h1v2h-1zM1 142h1v1h-1zM1 155h1v1h-1zM1 163h1v1h-1zM1 174h1v2h-1zM1 198h1v1h-1zM1 202h1v1h-1zM1 218h1v1h-1zM1 224h1v1h-1zM1 231h1v1h-1zM1 234h1v2h-1zM1 244h1v1h-1zM2 90h1v1h-1zM2 98h1v1h-1zM2 151h1v1h-1zM2 238h1v1h-1zM2 246h1v1h-1zM3 9h1v1h-1zM3 11h1v1h-1zM3 13h1v1h-1zM3 39h1v1h-1zM3 41h1v1h-1zM3 62h1v1h-1zM3 68h1v1h-1zM3 114h1v1h-1zM3 131h1v1h-1zM3 140h1v1h-1zM3 147h1v1h-1zM3 170h1v1h-1zM3 194h1v1h-1zM3 196h1v1h-1zM3 204h1v1h-1zM3 207h1v1h-1zM3 217h1v1h-1zM3 226h1v2h-1zM4 68h1v1h-1zM4 78h1v1h-1zM4 227h1v1h-1zM5 1h1v1h-1zM5 25h1v1h-1zM5 30h1v1h-1zM5 33h1v1h-1zM5 38h1v1h-1zM5 41h1v1h-1zM5 44h1v1h-1zM5 67h1v1h-1zM5 73h1v1h-1zM5 88h1v1h-1zM5 96h1v1h-1zM5 152h1v1h-1zM5 160h1v1h-1zM5 169h1v1h-1zM5 212h1v1h-1zM5 230h1v1h-1zM5 243h1v1h-1zM6 30h1v1h-1zM6 58h1v1h-1zM6 66h1v1h-1zM6 72h1v1h-1zM6 85h1v1h-1zM6 99h1v1h-1zM7 35h1v1h-1zM7 44h1v2h-1zM7 57h1v1h-1zM7 60h1v1h-1zM7 66h1v1h-1zM7 70h1v1h-1zM7 90h1v1h-1zM7 92h1v1h-1zM7 105h1v1h-1zM7 130h1v1h-1zM7 154h1v1h-1zM7 222h1v1h-1zM7 245h1v1h-1zM7 249h1v1h-1zM8 13h1v1h-1zM8 15h1v1h-1zM8 22h1v1h-1zM8 46h1v2h-1zM8 58h1v1h-1zM8 61h1v1h-1zM8 74h1v1h-1zM8 76h1v2h-1zM8 94h1v1h-1zM8 96h1v1h-1zM8 106h1v1h-1zM9 96h1v1h-1zM9 114h1v1h-1zM9 139h1v2h-1zM9 164h1v1h-1zM9 177h1v1h-1zM9 183h1v1h-1zM9 206h1v1h-1zM9 213h1v1h-1zM9 225h1v1h-1zM9 228h1v1h-1zM9 233h1v2h-1zM10 18h1v1h-1zM10 32h1v1h-1zM10 43h1v1h-1zM10 61h1v1h-1zM10 148h1v1h-1zM10 161h1v1h-1zM10 183h1v1h-1zM10 190h1v1h-1zM10 211h1v1h-1zM10 214h1v2h-1zM10 240h1v1h-1zM10 246h1v1h-1zM11 11h1v1h-1zM11 40h1v1h-1zM11 66h1v1h-1zM11 72h1v1h-1zM11 80h1v1h-1zM11 95h1v1h-1zM11 104h1v1h-1zM11 218h1v1h-1zM11 226h1v1h-1zM12 32h1v1h-1zM12 42h1v1h-1zM12 92h1v1h-1zM12 97h1v2h-1zM12 166h1v1h-1zM12 201h1v1h-1zM12 208h1v1h-1zM12 230h1v1h-1zM13 7h1v1h-1zM13 13h1v3h-1zM13 18h1v1h-1zM13 24h1v1h-1zM13 26h1v1h-1zM13 33h1v1h-1zM13 56h1v1h-1zM13 59h1v1h-1zM13 75h1v1h-1zM13 77h1v1h-1zM13 80h1v1h-1zM13 85h1v1h-1zM13 101h1v1h-1zM13 131h1v1h-1zM13 179h1v1h-1zM14 0h1v1h-1zM14 25h1v1h-1zM14 29h1v1h-1zM14 32h1v1h-1zM14 66h1v1h-1zM14 70h1v1h-1zM14 72h1v1h-1zM14 97h1v1h-1zM14 99h1v1h-1zM14 103h1v1h-1zM15 3h1v2h-1zM15 6h1v1h-1zM15 32h1v2h-1zM15 36h1v1h-1zM15 60h1v1h-1zM15 76h1v1h-1zM15 100h1v1h-1zM15 140h1v1h-1zM15 142h1v1h-1zM15 144h1v1h-1zM15 153h1v1h-1zM15 167h1v1h-1zM15 179h1v1h-1zM15 184h1v1h-1zM15 189h1v1h-1zM15 203h1v1h-1zM15 230h1v1h-1zM15 241h1v1h-1zM16 3h1v1h-1zM16 11h1v1h-1zM16 91h1v1h-1zM16 138h1v1h-1zM16 141h1v1h-1zM16 146h1v1h-1zM16 183h1v1h-1zM16 191h1v1h-1zM16 194h1v2h-1zM16 203h1v1h-1zM17 16h1v1h-1zM17 51h1v1h-1zM17 63h1v1h-1zM17 90h1v1h-1zM17 109h1v1h-1zM17 116h1v1h-1zM17 132h1v2h-1zM17 140h1v1h-1zM17 143h1v1h-1zM17 153h1v1h-1zM17 170h1v1h-1zM17 181h1v1h-1zM17 188h1v1h-1zM17 190h1v1h-1zM17 205h1v1h-1zM17 236h1v1h-1zM17 246h1v1h-1zM18 0h1v1h-1zM18 27h1v1h-1zM18 36h1v1h-1zM18 65h1v1h-1zM18 70h1v1h-1zM18 79h1v1h-1zM18 105h1v1h-1zM18 108h1v1h-1zM18 163h1v1h-1zM18 167h1v1h-1zM18 169h1v1h-1zM18 174h1v1h-1zM18 176h1v1h-1zM18 178h1v1h-1zM18 186h1v1h-1zM18 246h1v1h-1zM18 249h1v1h-1zM19 68h1v1h-1zM19 86h1v1h-1zM19 88h1v1h-1zM19 110h1v2h-1zM19 164h1v1h-1zM19 186h1v1h-1zM19 204h1v1h-1zM19 210h1v1h-1zM20 40h1v1h-1zM20 44h1v1h-1zM20 61h1v1h-1zM20 69h1v1h-1zM20 132h1v1h-1zM20 134h1v1h-1zM20 137h1v1h-1zM20 142h1v1h-1zM20 172h1v1h-1zM20 177h1v1h-1zM20 202h1v1h-1zM20 211h1v1h-1zM21 1h1v1h-1zM21 14h1v2h-1zM21 18h1v2h-1zM21 37h1v1h-1zM21 43h1v1h-1zM21 50h1v1h-1zM21 71h1v1h-1zM21 95h1v1h-1zM21 99h1v1h-1zM21 108h1v1h-1zM21 111h1v1h-1zM21 144h1v1h-1zM21 150h1v1h-1zM21 158h1v1h-1zM21 171h1v1h-1zM21 192h1v1h-1zM21 195h1v1h-1zM21 199h1v1h-1zM21 205h1v1h-1zM21 219h1v1h-1zM21 222h1v1h-1zM21 225h1v1h-1zM21 238h1v1h-1zM22 2h1v1h-1zM22 4h1v1h-1zM22 12h1v1h-1zM22 20h1v1h-1zM22 25h1v1h-1zM22 39h1v1h-1zM22 49h1v1h-1zM22 54h1v1h-1zM22 59h1v1h-1zM22 142h1v1h-1zM22 147h1v1h-1zM22 160h1v1h-1zM22 168h1v1h-1zM22 189h1v2h-1zM22 194h1v1h-1zM22 200h1v2h-1zM22 233h1v1h-1zM23 15h1v1h-1zM23 35h1v1h-1zM23 144h1v2h-1zM23 176h1v1h-1zM23 222h1v1h-1zM24 45h1v1h-1zM24 51h1v1h-1zM24 64h1v1h-1zM24 79h1v1h-1zM24 99h1v1h-1zM24 144h1v1h-1zM24 191h1v1h-1zM24 196h1v1h-1zM24 204h1v1h-1zM24 206h1v1h-1zM24 208h1v1h-1zM24 219h1v1h-1zM24 225h1v1h-1zM25 4h1v1h-1zM25 66h1v1h-1zM25 84h1v1h-1zM25 122h1v1h-1zM25 127h1v1h-1zM25 201h1v1h-1zM25 211h1v2h-1zM25 244h1v1h-1zM26 8h1v1h-1zM26 17h1v1h-1zM26 23h1v1h-1zM26 32h1v1h-1zM26 35h1v1h-1zM26 145h1v1h-1zM26 182h1v1h-1zM26 184h1v2h-1zM26 212h1v1h-1zM26 219h1v1h-1zM26 227h1v1h-1zM26 243h1v1h-1zM26 246h1v1h-1zM27 14h1v1h-1zM27 24h1v1h-1zM27 34h1v1h-1zM27 54h1v1h-1zM27 58h1v1h-1zM27 68h1v1h-1zM27 120h1v1h-1zM27 123h1v1h-1zM27 140h1v1h-1zM27 162h1v1h-1zM27 171h1v1h-1zM27 173h1v1h-1zM27 181h1v1h-1zM27 204h1v1h-1zM27 218h1v2h-1zM27 226h1v1h-1zM27 243h1v1h-1zM28 8h1v1h-1zM28 40h1v1h-1zM28 127h1v1h-1zM28 134h1v1h-1zM28 136h1v1h-1zM28 153h1v1h-1zM28 165h1v1h-1zM28 176h1v1h-1zM28 189h1v3h-1zM28 197h1v1h-1zM28 203h1v2h-1zM28 217h1v1h-1zM28 225h1v1h-1zM28 227h1v1h-1zM28 240h1v1h-1zM28 244h1v1h-1zM29 3h1v1h-1zM29 6h1v1h-1zM29 29h1v1h-1zM29 33h1v1h-1zM29 41h1v1h-1zM29 44h1v1h-1zM29 111h1v1h-1zM29 116h1v1h-1zM29 133h1v1h-1zM29 148h1v1h-1zM29 178h1v1h-1zM29 181h1v1h-1zM29 185h1v1h-1zM29 218h1v1h-1zM29 225h1v1h-1zM29 244h1v1h-1zM30 5h1v1h-1zM30 35h1v2h-1zM30 106h1v1h-1zM30 108h1v2h-1zM30 112h1v1h-1zM30 117h1v1h-1zM30 145h1v1h-1zM30 163h1v1h-1zM30 170h1v1h-1zM30 174h1v1h-1zM30 177h1v2h-1zM30 184h1v1h-1zM30 197h1v1h-1zM30 205h1v1h-1zM30 217h1v1h-1zM30 226h1v1h-1zM30 241h1v1h-1zM30 243h1v1h-1zM31 5h1v1h-1zM31 8h1v1h-1zM31 16h1v1h-1zM31 34h1v1h-1zM31 132h1v1h-1zM31 134h1v1h-1zM31 150h1v1h-1zM31 154h1v1h-1zM31 164h1v1h-1zM31 166h1v1h-1zM31 235h1v1h-1zM32 19h1v1h-1zM32 24h1v1h-1zM32 99h1v1h-1zM32 129h1v1h-1zM32 132h1v1h-1zM32 160h1v1h-1zM32 173h1v1h-1zM32 183h1v1h-1zM32 192h1v1h-1zM33 33h1v1h-1zM33 60h1v1h-1zM33 81h1v1h-1zM33 101h1v1h-1zM33 126h1v1h-1zM33 140h1v1h-1zM33 216h1v1h-1zM33 222h1v1h-1zM33 231h1v1h-1zM33 233h1v1h-1zM33 241h1v1h-1zM34 5h1v1h-1zM34 79h1v1h-1zM34 169h1v1h-1zM34 175h1v1h-1zM34 219h1v1h-1zM34 239h1v1h-1zM34 249h1v1h-1zM35 14h1v1h-1zM35 25h1v1h-1zM35 35h1v1h-1zM35 39h1v1h-1zM35 98h1v1h-1zM35 112h1v1h-1zM35 128h1v1h-1zM35 136h1v2h-1zM35 158h1v1h-1zM35 185h1v1h-1zM35 203h1v1h-1zM35 209h1v1h-1zM35 227h1v1h-1zM35 229h1v1h-1zM35 232h1v1h-1zM35 238h1v1h-1zM36 28h1v1h-1zM36 35h1v2h-1zM36 41h1v1h-1zM36 66h1v1h-1zM36 80h1v1h-1zM36 141h1v1h-1zM36 145h1v1h-1zM36 157h1v1h-1zM36 160h1v1h-1zM36 177h1v1h-1zM36 180h1v1h-1zM36 235h1v1h-1zM36 241h1v1h-1zM37 2h1v1h-1zM37 33h1v1h-1zM37 84h1v1h-1zM37 101h1v1h-1zM37 127h1v1h-1zM37 129h1v1h-1zM37 162h1v2h-1zM37 171h1v1h-1zM37 175h1v1h-1zM37 209h1v1h-1zM37 237h1v1h-1zM38 51h1v1h-1zM38 68h1v1h-1zM38 78h1v1h-1zM38 100h1v1h-1zM38 103h1v1h-1zM38 105h1v1h-1zM38 221h1v1h-1zM38 224h1v1h-1zM38 233h1v1h-1zM38 235h1v1h-1zM38 246h1v1h-1zM38 249h1v1h-1zM39 38h1v1h-1zM40 21h1v1h-1zM40 25h1v1h-1zM40 154h1v1h-1zM40 159h1v1h-1zM40 161h1v1h-1zM40 164h1v1h-1zM40 166h1v1h-1zM40 173h1v1h-1zM40 176h1v1h-1zM41 18h1v1h-1zM41 54h1v1h-1zM41 57h1v1h-1zM41 71h1v1h-1zM41 86h1v1h-1zM41 102h1v1h-1zM41 148h1v1h-1zM42 30h1v1h-1zM42 33h1v1h-1zM42 37h1v2h-1zM42 40h1v1h-1zM42 45h1v1h-1zM42 50h1v2h-1zM42 53h1v1h-1zM42 62h1v1h-1zM42 77h1v1h-1zM42 110h1v1h-1zM42 117h1v1h-1zM42 126h1v1h-1zM42 136h1v1h-1zM42 166h1v1h-1zM42 176h1v1h-1zM42 236h1v1h-1zM42 246h1v1h-1zM43 5h1v1h-1zM43 9h1v2h-1zM43 14h1v1h-1zM43 16h1v1h-1zM43 21h1v1h-1zM43 33h1v1h-1zM43 39h1v1h-1zM43 43h1v1h-1zM43 52h1v1h-1zM43 56h1v1h-1zM43 71h1v1h-1zM43 77h1v1h-1zM43 83h1v1h-1zM43 112h1v1h-1zM43 119h1v1h-1zM43 135h1v2h-1zM43 143h1v1h-1zM43 154h1v2h-1zM43 163h1v1h-1zM43 168h1v2h-1zM43 172h1v1h-1zM43 175h1v1h-1zM43 181h1v1h-1zM43 234h1v1h-1zM43 246h1v1h-1zM44 1h1v1h-1zM44 4h1v1h-1zM44 12h1v1h-1zM44 46h1v1h-1zM44 50h1v1h-1zM44 62h1v1h-1zM44 75h1v1h-1zM44 130h1v1h-1zM44 133h1v1h-1zM44 161h1v1h-1zM44 169h1v1h-1zM44 179h1v1h-1zM45 42h1v1h-1zM45 57h1v1h-1zM45 60h1v1h-1zM45 64h1v1h-1zM45 130h1v1h-1zM45 132h1v1h-1zM45 134h1v1h-1zM45 141h1v1h-1zM45 171h1v1h-1zM45 177h1v1h-1zM46 4h1v1h-1zM46 15h1v1h-1zM46 31h1v1h-1zM46 38h1v1h-1zM46 48h1v1h-1zM46 72h1v1h-1zM46 100h1v1h-1zM46 123h1v1h-1zM46 130h1v1h-1zM46 143h1v1h-1zM46 160h1v1h-1zM46 168h1v1h-1zM46 186h1v1h-1zM46 189h1v1h-1zM46 237h1v1h-1zM47 19h1v1h-1zM47 33h1v1h-1zM47 37h1v2h-1zM47 79h1v1h-1zM47 101h1v1h-1zM47 129h1v1h-1zM47 138h1v1h-1zM47 143h1v1h-1zM47 155h1v2h-1zM47 161h1v1h-1zM47 164h1v1h-1zM48 52h1v1h-1zM48 66h1v1h-1zM48 75h1v1h-1zM48 105h1v1h-1zM48 112h1v1h-1zM48 133h1v1h-1zM48 142h1v1h-1zM48 182h1v2h-1zM48 196h1v1h-1zM48 199h1v1h-1zM48 247h1v1h-1zM49 16h1v1h-1zM49 144h1v1h-1zM49 146h1v1h-1zM49 164h1v1h-1zM49 170h1v1h-1zM49 228h1v1h-1z"/><path fill="#3d4c89" d="M0 4h1v2h-1zM0 36h1v1h-1zM0 48h1v2h-1zM0 51h1v1h-1zM0 55h1v1h-1zM0 64h1v1h-1zM0 77h1v1h-1zM0 82h1v1h-1zM0 84h1v1h-1zM0 86h1v1h-1zM0 103h1v1h-1zM0 150h1v1h-1zM0 159h1v2h-1zM0 194h1v1h-1zM0 218h1v1h-1zM1 6h1v1h-1zM1 8h1v1h-1zM1 22h1v1h-1zM1 41h1v1h-1zM1 64h1v1h-1zM1 66h1v2h-1zM1 83h1v1h-1zM1 93h1v1h-1zM1 95h1v1h-1zM1 101h1v1h-1zM1 118h1v1h-1zM1 133h1v1h-1zM1 138h1v2h-1zM1 141h1v1h-1zM1 193h1v1h-1zM1 196h1v1h-1zM1 207h1v1h-1zM1 223h1v1h-1zM1 225h1v1h-1zM1 238h1v1h-1zM1 245h1v1h-1zM2 68h1v1h-1zM2 110h1v1h-1zM2 116h1v1h-1zM2 138h1v1h-1zM2 145h1v1h-1zM2 194h1v1h-1zM2 212h1v1h-1zM3 50h1v1h-1zM3 53h1v1h-1zM3 56h1v1h-1zM3 65h1v1h-1zM3 83h1v1h-1zM3 85h1v1h-1zM3 88h1v1h-1zM3 113h1v1h-1zM3 117h1v1h-1zM3 123h1v1h-1zM3 134h1v1h-1zM3 176h1v1h-1zM3 190h1v1h-1zM3 236h1v1h-1zM4 60h1v1h-1zM4 75h1v1h-1zM4 79h1v3h-1zM4 94h1v1h-1zM4 97h1v1h-1zM4 236h1v2h-1zM4 240h1v1h-1zM5 2h1v2h-1zM5 5h1v1h-1zM5 37h1v1h-1zM5 45h1v1h-1zM5 50h1v1h-1zM5 101h1v1h-1zM5 182h1v1h-1zM5 192h1v1h-1zM5 222h1v1h-1zM5 228h1v1h-1zM5 237h1v1h-1zM5 249h1v1h-1zM6 77h1v1h-1zM6 100h1v1h-1zM6 209h1v1h-1zM7 56h1v1h-1zM7 62h1v1h-1zM7 64h1v2h-1zM7 76h1v1h-1zM7 95h1v2h-1zM7 156h1v1h-1zM7 169h1v1h-1zM7 176h1v1h-1zM7 192h1v1h-1zM7 217h1v1h-1zM7 223h1v1h-1zM7 227h1v2h-1zM7 232h1v1h-1zM7 244h1v1h-1zM8 6h1v1h-1zM8 16h1v5h-1zM8 34h1v1h-1zM8 42h1v1h-1zM8 79h1v1h-1zM8 82h1v1h-1zM8 85h1v1h-1zM9 55h1v1h-1zM9 79h1v1h-1zM9 110h1v1h-1zM9 120h1v1h-1zM9 123h1v1h-1zM9 161h1v1h-1zM9 176h1v1h-1zM9 191h1v1h-1zM9 196h1v1h-1zM9 198h1v1h-1zM9 220h1v1h-1zM9 223h1v1h-1zM9 226h1v1h-1zM10 13h1v1h-1zM10 25h1v1h-1zM10 37h1v1h-1zM10 53h1v1h-1zM10 55h1v1h-1zM10 57h1v2h-1zM10 107h1v1h-1zM10 110h1v1h-1zM10 113h1v1h-1zM10 124h1v1h-1zM10 152h1v1h-1zM10 163h1v1h-1zM10 176h1v1h-1zM10 209h1v2h-1zM10 228h1v1h-1zM10 243h1v1h-1zM10 245h1v1h-1zM10 248h1v1h-1zM11 10h1v1h-1zM11 16h1v1h-1zM11 75h1v1h-1zM11 77h1v1h-1zM11 111h1v1h-1zM11 184h1v1h-1zM12 56h1v1h-1zM12 61h1v1h-1zM12 99h1v1h-1zM12 110h1v1h-1zM12 163h1v1h-1zM12 196h1v1h-1zM12 234h1v1h-1zM12 239h1v1h-1zM13 27h1v1h-1zM13 52h1v1h-1zM13 72h1v1h-1zM13 78h1v1h-1zM13 225h1v1h-1zM13 228h1v1h-1zM14 5h1v1h-1zM14 14h1v2h-1zM14 39h1v1h-1zM14 67h1v1h-1zM14 74h1v1h-1zM14 77h1v2h-1zM14 89h1v1h-1zM14 162h1v1h-1zM15 47h1v1h-1zM15 62h1v1h-1zM15 68h1v2h-1zM15 80h1v1h-1zM15 86h1v1h-1zM15 119h1v1h-1zM15 141h1v1h-1zM15 145h1v1h-1zM15 161h1v1h-1zM15 164h1v1h-1zM15 174h1v1h-1zM15 178h1v1h-1zM15 197h1v1h-1zM15 200h1v1h-1zM15 212h1v1h-1zM15 216h1v1h-1zM15 219h1v1h-1zM15 229h1v1h-1zM15 231h1v1h-1zM15 234h1v1h-1zM15 240h1v1h-1zM16 9h1v1h-1zM16 65h1v1h-1zM16 144h1v1h-1zM16 188h1v1h-1zM17 98h1v1h-1zM17 123h1v1h-1zM17 139h1v1h-1zM17 141h1v1h-1zM17 144h1v1h-1zM17 147h1v1h-1zM17 154h1v1h-1zM17 158h1v1h-1zM17 180h1v1h-1zM17 238h1v1h-1zM18 24h1v1h-1zM18 34h1v1h-1zM18 37h1v1h-1zM18 53h1v1h-1zM18 71h1v1h-1zM18 84h1v1h-1zM18 87h1v1h-1zM18 103h1v1h-1zM18 144h1v1h-1zM18 147h1v1h-1zM18 209h1v1h-1zM18 211h1v1h-1zM18 243h1v1h-1zM19 48h1v1h-1zM19 92h1v1h-1zM19 127h1v1h-1zM19 139h1v1h-1zM19 193h1v1h-1zM19 198h1v1h-1zM19 207h1v1h-1zM19 216h1v1h-1zM19 221h1v1h-1zM20 17h1v1h-1zM20 54h1v1h-1zM20 58h1v2h-1zM20 70h1v2h-1zM20 77h1v1h-1zM20 82h1v1h-1zM20 139h1v1h-1zM20 141h1v1h-1zM20 174h1v1h-1zM20 189h1v1h-1zM20 194h1v1h-1zM20 207h1v1h-1zM20 212h1v1h-1zM20 215h1v1h-1zM20 225h1v1h-1zM20 241h1v1h-1zM20 245h1v1h-1zM21 8h1v1h-1zM21 12h1v1h-1zM21 17h1v1h-1zM21 28h1v1h-1zM21 44h1v1h-1zM21 59h1v1h-1zM21 74h1v1h-1zM21 79h1v1h-1zM21 82h1v1h-1zM21 145h1v1h-1zM21 200h1v1h-1zM21 208h1v1h-1zM21 215h1v1h-1zM21 229h1v2h-1zM21 234h1v1h-1zM22 41h1v1h-1zM22 46h1v1h-1zM22 51h1v1h-1zM22 57h1v1h-1zM22 70h1v1h-1zM22 117h1v1h-1zM22 119h1v1h-1zM22 139h1v1h-1zM22 143h1v2h-1zM22 151h1v1h-1zM22 155h1v1h-1zM22 169h1v1h-1zM22 176h1v1h-1zM22 191h1v1h-1zM22 205h1v1h-1zM22 207h1v1h-1zM22 232h1v1h-1zM23 31h1v1h-1zM23 135h1v1h-1zM23 139h1v1h-1zM23 157h1v1h-1zM23 171h1v1h-1zM23 178h1v1h-1zM23 181h1v1h-1zM23 184h1v1h-1zM23 207h1v1h-1zM23 230h1v1h-1zM23 232h1v1h-1zM23 235h1v1h-1zM24 19h1v1h-1zM24 53h1v1h-1zM24 67h1v1h-1zM24 105h1v1h-1zM24 109h1v1h-1zM24 190h1v1h-1zM24 244h1v1h-1zM25 37h1v1h-1zM25 100h1v1h-1zM25 111h1v1h-1zM25 128h1v1h-1zM25 151h1v1h-1zM25 185h1v1h-1zM25 204h1v2h-1zM25 241h1v1h-1zM26 0h1v1h-1zM26 22h1v1h-1zM26 29h1v1h-1zM26 45h1v1h-1zM26 117h1v1h-1zM26 125h1v1h-1zM26 144h1v1h-1zM26 157h1v1h-1zM26 168h1v1h-1zM26 173h1v1h-1zM26 210h1v1h-1zM26 231h1v1h-1zM26 233h1v1h-1zM26 249h1v1h-1zM27 57h1v1h-1zM27 110h1v2h-1zM27 115h1v1h-1zM27 128h1v1h-1zM27 141h1v1h-1zM27 155h1v1h-1zM27 180h1v1h-1zM27 184h1v1h-1zM27 227h1v1h-1zM27 230h1v1h-1zM27 236h1v1h-1zM27 244h1v1h-1zM28 1h1v1h-1zM28 21h1v1h-1zM28 25h1v1h-1zM28 122h1v1h-1zM28 124h1v1h-1zM28 139h1v1h-1zM28 154h1v1h-1zM28 159h1v4h-1zM28 164h1v1h-1zM28 177h1v1h-1zM28 182h1v1h-1zM28 188h1v1h-1zM28 192h1v1h-1zM28 196h1v1h-1zM28 200h1v1h-1zM28 202h1v1h-1zM28 223h1v1h-1zM28 234h1v1h-1zM28 241h1v1h-1zM29 11h1v1h-1zM29 23h1v1h-1zM29 57h1v1h-1zM29 93h1v1h-1zM29 120h1v1h-1zM29 124h1v1h-1zM29 129h1v1h-1zM29 137h1v1h-1zM29 161h1v1h-1zM29 172h1v1h-1zM29 233h1v1h-1zM29 247h1v1h-1zM30 2h1v1h-1zM30 4h1v1h-1zM30 6h1v1h-1zM30 16h1v1h-1zM30 18h1v1h-1zM30 26h1v1h-1zM30 28h1v1h-1zM30 100h1v1h-1zM30 111h1v1h-1zM30 123h1v2h-1zM30 129h1v1h-1zM30 132h1v1h-1zM30 135h1v1h-1zM30 137h1v1h-1zM30 199h1v1h-1zM30 231h1v1h-1zM30 244h1v1h-1zM31 35h1v2h-1zM31 38h1v1h-1zM31 59h1v1h-1zM31 100h1v1h-1zM31 105h1v1h-1zM31 133h1v1h-1zM31 135h1v1h-1zM31 144h1v1h-1zM31 152h1v1h-1zM31 161h1v1h-1zM31 172h1v1h-1zM31 176h1v1h-1zM31 196h1v1h-1zM31 231h1v1h-1zM32 23h1v1h-1zM32 36h1v1h-1zM32 107h1v3h-1zM32 131h1v1h-1zM32 139h1v1h-1zM32 159h1v1h-1zM32 162h1v1h-1zM32 171h1v1h-1zM33 84h1v1h-1zM33 102h1v1h-1zM33 116h1v1h-1zM33 120h1v1h-1zM33 123h1v1h-1zM33 190h1v1h-1zM33 196h1v2h-1zM33 212h1v1h-1zM33 225h1v2h-1zM33 228h1v1h-1zM33 238h1v1h-1zM34 7h1v1h-1zM34 39h1v1h-1zM34 137h1v1h-1zM34 156h1v1h-1zM34 159h1v1h-1zM34 168h1v1h-1zM34 171h1v1h-1zM34 232h1v1h-1zM34 238h1v1h-1zM34 244h1v1h-1zM35 18h1v1h-1zM35 29h1v1h-1zM35 55h1v1h-1zM35 63h1v1h-1zM35 80h1v1h-1zM35 84h1v1h-1zM35 133h1v1h-1zM35 135h1v1h-1zM35 141h1v1h-1zM35 143h1v1h-1zM35 163h1v1h-1zM35 174h1v1h-1zM35 180h1v2h-1zM35 184h1v1h-1zM35 187h1v1h-1zM35 192h1v1h-1zM35 228h1v1h-1zM36 10h1v1h-1zM36 24h1v1h-1zM36 29h1v2h-1zM36 37h1v1h-1zM36 77h1v1h-1zM36 140h1v1h-1zM36 164h1v1h-1zM36 168h1v1h-1zM36 170h1v1h-1zM36 178h1v2h-1zM36 182h1v1h-1zM36 199h1v1h-1zM36 220h1v1h-1zM36 226h1v1h-1zM36 233h1v1h-1zM36 238h1v1h-1zM37 30h1v1h-1zM37 35h1v1h-1zM37 114h1v1h-1zM37 124h1v1h-1zM37 131h1v1h-1zM37 140h1v1h-1zM37 181h1v1h-1zM37 191h1v1h-1zM37 194h1v1h-1zM37 201h1v1h-1zM37 213h1v1h-1zM38 33h1v1h-1zM38 55h1v1h-1zM38 58h1v1h-1zM38 64h1v1h-1zM38 80h1v1h-1zM38 93h1v1h-1zM38 138h1v1h-1zM38 186h1v1h-1zM38 188h1v1h-1zM38 210h1v1h-1zM38 220h1v1h-1zM38 245h1v1h-1zM39 3h1v1h-1zM39 6h1v1h-1zM39 15h1v1h-1zM39 172h1v1h-1zM39 177h1v1h-1zM39 179h1v1h-1zM40 15h1v1h-1zM40 38h1v1h-1zM40 80h1v1h-1zM40 131h1v1h-1zM40 133h1v1h-1zM40 141h1v1h-1zM40 165h1v1h-1zM40 167h1v1h-1zM40 232h1v1h-1zM40 238h1v1h-1zM41 44h1v1h-1zM41 82h1v1h-1zM41 98h1v1h-1zM41 138h1v1h-1zM41 147h1v1h-1zM41 162h1v1h-1zM41 179h1v2h-1zM42 14h1v1h-1zM42 21h1v1h-1zM42 31h1v1h-1zM42 46h1v1h-1zM42 104h1v1h-1zM42 124h1v1h-1zM42 130h1v1h-1zM42 134h1v1h-1zM42 141h1v1h-1zM42 143h1v1h-1zM42 153h1v1h-1zM42 158h1v2h-1zM42 161h1v1h-1zM42 175h1v1h-1zM42 180h1v1h-1zM43 25h1v1h-1zM43 35h1v1h-1zM43 53h1v1h-1zM43 102h1v1h-1zM43 107h1v2h-1zM43 128h1v1h-1zM43 140h1v1h-1zM43 146h1v1h-1zM43 148h1v1h-1zM43 160h1v1h-1zM43 171h1v1h-1zM43 176h1v1h-1zM43 211h1v1h-1zM44 29h1v1h-1zM44 66h1v1h-1zM44 99h1v1h-1zM44 112h1v1h-1zM44 123h1v1h-1zM44 131h1v1h-1zM44 134h1v1h-1zM44 141h1v1h-1zM44 165h1v1h-1zM44 177h1v1h-1zM44 235h1v1h-1zM44 239h1v1h-1zM45 11h1v1h-1zM45 39h1v1h-1zM45 46h1v1h-1zM45 49h1v1h-1zM45 79h1v1h-1zM45 81h1v2h-1zM45 93h1v1h-1zM45 111h1v1h-1zM45 133h1v1h-1zM45 138h1v1h-1zM45 143h1v1h-1zM45 150h1v1h-1zM45 159h1v1h-1zM45 175h1v2h-1zM45 178h1v1h-1zM46 3h1v1h-1zM46 36h1v1h-1zM46 42h1v1h-1zM46 63h1v1h-1zM46 68h1v1h-1zM46 80h1v1h-1zM46 99h1v1h-1zM46 106h1v1h-1zM46 134h1v1h-1zM46 137h1v1h-1zM46 212h1v1h-1zM46 219h1v2h-1zM46 234h1v1h-1zM46 248h1v1h-1zM47 1h1v1h-1zM47 28h1v1h-1zM47 36h1v1h-1zM47 47h1v1h-1zM47 80h1v2h-1zM47 140h1v1h-1zM47 144h1v1h-1zM47 147h1v1h-1zM47 152h1v1h-1zM47 160h1v1h-1zM47 163h1v1h-1zM47 175h1v1h-1zM47 211h1v1h-1zM48 30h1v2h-1zM48 48h1v2h-1zM48 51h1v1h-1zM48 79h1v1h-1zM48 100h1v1h-1zM48 102h1v1h-1zM48 113h1v1h-1zM48 126h1v1h-1zM48 143h1v1h-1zM48 158h1v1h-1zM48 161h1v1h-1zM48 181h1v1h-1zM48 207h1v1h-1zM48 220h1v1h-1zM48 227h1v1h-1zM48 243h1v1h-1zM48 249h1v1h-1zM49 13h1v1h-1zM49 19h1v3h-1zM49 43h1v1h-1zM49 128h1v1h-1zM49 142h1v1h-1zM49 179h1v1h-1zM49 200h1v1h-1zM49 205h1v1h-1zM49 224h1v1h-1zM49 231h1v1h-1z"/><path fill="#3a538b" d="M0 3h1v1h-1zM0 24h1v1h-1zM0 46h1v1h-1zM0 53h1v2h-1zM0 57h1v1h-1zM0 60h1v1h-1zM0 88h1v1h-1zM0 118h1v2h-1zM0 123h1v1h-1zM0 125h1v2h-1zM0 175h1v1h-1zM1 2h1v2h-1zM1 10h1v1h-1zM1 12h1v1h-1zM1 38h1v1h-1zM1 47h1v1h-1zM1 78h1v1h-1zM1 80h1v1h-1zM1 84h1v1h-1zM1 91h1v1h-1zM1 113h1v1h-1zM1 119h1v1h-1zM1 124h1v1h-1zM1 217h1v1h-1zM1 219h1v1h-1zM1 237h1v1h-1zM1 240h1v1h-1zM2 59h1v1h-1zM2 150h1v1h-1zM2 214h1v1h-1zM3 51h1v1h-1zM3 54h1v1h-1zM3 73h1v1h-1zM3 77h1v1h-1zM3 98h1v1h-1zM3 100h1v1h-1zM3 128h1v1h-1zM3 146h1v1h-1zM3 162h1v1h-1zM3 188h1v1h-1zM3 202h1v1h-1zM3 225h1v1h-1zM4 9h1v1h-1zM4 16h1v1h-1zM4 47h1v1h-1zM4 62h1v1h-1zM4 101h1v1h-1zM4 106h1v1h-1zM4 244h1v1h-1zM5 7h1v1h-1zM5 10h1v1h-1zM5 16h1v1h-1zM5 31h1v1h-1zM5 39h1v1h-1zM5 62h1v1h-1zM5 65h1v1h-1zM5 79h1v1h-1zM5 83h1v2h-1zM5 87h1v1h-1zM5 98h1v1h-1zM5 103h1v2h-1zM5 140h1v1h-1zM5 178h1v1h-1zM5 186h1v1h-1zM5 238h1v1h-1zM5 242h1v1h-1zM5 247h1v1h-1zM6 65h1v1h-1zM6 71h1v1h-1zM6 103h1v1h-1zM6 118h1v1h-1zM7 53h1v1h-1zM7 58h1v1h-1zM7 79h1v1h-1zM7 87h1v1h-1zM7 91h1v1h-1zM7 110h1v1h-1zM7 136h1v1h-1zM7 152h1v1h-1zM7 159h1v2h-1zM7 163h1v1h-1zM7 165h1v1h-1zM7 170h1v1h-1zM7 180h1v1h-1zM7 208h1v1h-1zM7 210h1v1h-1zM7 233h1v1h-1zM7 242h1v1h-1zM8 28h1v2h-1zM8 38h1v1h-1zM8 43h1v1h-1zM8 56h1v1h-1zM8 65h1v1h-1zM8 68h1v1h-1zM8 73h1v1h-1zM8 81h1v1h-1zM8 93h1v1h-1zM8 104h1v2h-1zM8 152h1v1h-1zM8 170h1v1h-1zM8 178h1v1h-1zM8 195h1v1h-1zM8 234h1v1h-1zM9 52h1v1h-1zM9 121h1v1h-1zM9 137h1v1h-1zM9 158h1v1h-1zM9 169h1v1h-1zM9 173h1v3h-1zM9 207h1v1h-1zM9 211h1v1h-1zM9 215h1v1h-1zM9 222h1v1h-1zM9 243h1v1h-1zM10 27h1v1h-1zM10 49h1v1h-1zM10 52h1v1h-1zM10 54h1v1h-1zM10 114h1v1h-1zM10 122h1v1h-1zM10 137h1v1h-1zM10 149h1v1h-1zM10 170h1v1h-1zM10 172h1v1h-1zM10 208h1v1h-1zM10 230h1v1h-1zM10 232h1v1h-1zM11 35h1v1h-1zM11 68h1v1h-1zM11 84h1v1h-1zM11 94h1v1h-1zM11 102h1v2h-1zM11 178h1v1h-1zM12 160h1v1h-1zM12 167h1v1h-1zM12 173h1v1h-1zM12 176h1v1h-1zM12 180h1v1h-1zM12 182h1v1h-1zM12 198h1v1h-1zM12 218h1v1h-1zM12 241h1v1h-1zM13 5h1v1h-1zM13 25h1v1h-1zM13 35h1v1h-1zM13 51h1v1h-1zM13 68h1v1h-1zM13 71h1v1h-1zM13 98h1v1h-1zM13 105h1v1h-1zM13 186h1v1h-1zM13 198h1v1h-1zM13 232h1v1h-1zM13 239h1v1h-1zM13 249h1v1h-1zM14 6h1v1h-1zM14 12h1v1h-1zM14 31h1v1h-1zM14 43h1v1h-1zM14 47h1v1h-1zM14 96h1v1h-1zM14 155h1v1h-1zM15 38h1v1h-1zM15 49h1v1h-1zM15 92h1v1h-1zM15 139h1v1h-1zM15 187h1v1h-1zM15 199h1v1h-1zM15 204h1v1h-1zM15 213h1v1h-1zM15 223h1v1h-1zM15 226h1v2h-1zM15 233h1v1h-1zM15 236h1v2h-1zM15 242h1v1h-1zM16 54h1v1h-1zM16 176h1v1h-1zM16 202h1v1h-1zM17 22h1v1h-1zM17 103h1v1h-1zM17 113h1v3h-1zM17 136h1v1h-1zM17 203h1v1h-1zM17 216h1v1h-1zM18 2h1v1h-1zM18 16h1v1h-1zM18 18h1v2h-1zM18 23h1v1h-1zM18 42h1v1h-1zM18 69h1v1h-1zM18 80h1v1h-1zM18 98h1v1h-1zM18 101h1v1h-1zM18 142h1v1h-1zM18 153h1v1h-1zM18 155h1v1h-1zM18 170h1v1h-1zM18 179h1v1h-1zM18 184h1v1h-1zM18 195h1v1h-1zM18 225h1v1h-1zM18 233h1v1h-1zM18 239h1v1h-1zM18 242h1v1h-1zM19 96h1v1h-1zM19 107h1v1h-1zM19 109h1v1h-1zM19 132h1v1h-1zM19 141h1v1h-1zM19 153h1v1h-1zM19 179h1v1h-1zM20 48h1v1h-1zM20 78h1v2h-1zM20 92h1v2h-1zM20 154h1v1h-1zM21 26h1v1h-1zM21 35h1v2h-1zM21 45h1v1h-1zM21 58h1v1h-1zM21 60h1v1h-1zM21 86h1v2h-1zM21 129h1v1h-1zM21 134h1v1h-1zM21 153h1v1h-1zM21 187h1v1h-1zM21 201h1v1h-1zM21 214h1v1h-1zM22 5h1v1h-1zM22 14h1v1h-1zM22 22h1v1h-1zM22 24h1v1h-1zM22 31h1v1h-1zM22 36h1v1h-1zM22 50h1v1h-1zM22 55h1v1h-1zM22 65h1v1h-1zM22 126h1v1h-1zM22 131h1v1h-1zM22 133h1v1h-1zM22 135h1v1h-1zM22 140h1v1h-1zM22 154h1v1h-1zM22 173h1v1h-1zM22 193h1v1h-1zM22 203h1v1h-1zM22 206h1v1h-1zM22 208h1v1h-1zM22 219h1v1h-1zM22 225h1v1h-1zM22 237h1v1h-1zM23 12h1v1h-1zM23 26h1v1h-1zM23 30h1v1h-1zM23 38h1v1h-1zM23 42h1v1h-1zM23 109h1v1h-1zM23 151h1v2h-1zM23 173h1v1h-1zM23 224h1v1h-1zM23 244h1v1h-1zM24 49h1v1h-1zM24 57h1v1h-1zM24 63h1v1h-1zM24 65h1v1h-1zM24 123h1v1h-1zM24 125h1v1h-1zM25 2h1v1h-1zM25 5h1v1h-1zM25 15h1v1h-1zM25 39h1v1h-1zM25 50h1v1h-1zM25 118h1v1h-1zM25 198h1v1h-1zM25 206h1v3h-1zM25 210h1v1h-1zM25 213h1v1h-1zM26 9h1v1h-1zM26 39h1v1h-1zM26 42h1v1h-1zM26 48h1v1h-1zM26 54h1v1h-1zM26 109h1v1h-1zM26 111h1v1h-1zM26 150h1v2h-1zM26 172h1v1h-1zM26 180h1v1h-1zM26 187h1v1h-1zM26 199h1v1h-1zM26 216h1v1h-1zM26 226h1v1h-1zM26 238h1v1h-1zM27 19h1v1h-1zM27 45h1v1h-1zM27 59h1v2h-1zM27 66h1v1h-1zM27 113h1v1h-1zM27 118h1v1h-1zM27 133h1v1h-1zM27 136h1v1h-1zM27 193h1v1h-1zM27 201h1v1h-1zM27 242h1v1h-1zM27 246h1v1h-1zM28 29h1v1h-1zM28 32h1v2h-1zM28 45h1v1h-1zM28 60h1v1h-1zM28 112h1v1h-1zM28 141h1v1h-1zM28 169h1v1h-1zM28 172h1v1h-1zM28 198h1v2h-1zM28 207h1v1h-1zM28 215h1v1h-1zM28 224h1v1h-1zM28 238h1v1h-1zM28 243h1v1h-1zM29 7h1v1h-1zM29 10h1v1h-1zM29 126h1v1h-1zM29 139h1v1h-1zM29 143h1v1h-1zM29 146h1v1h-1zM29 159h1v1h-1zM29 166h1v1h-1zM29 173h1v1h-1zM29 177h1v1h-1zM29 182h1v1h-1zM29 197h1v1h-1zM29 222h1v1h-1zM30 22h1v2h-1zM30 27h1v1h-1zM30 29h1v1h-1zM30 77h1v1h-1zM30 79h1v1h-1zM30 107h1v1h-1zM30 115h1v1h-1zM30 122h1v1h-1zM30 156h1v2h-1zM30 166h1v1h-1zM30 169h1v1h-1zM30 208h1v1h-1zM30 216h1v1h-1zM30 224h1v1h-1zM30 227h1v1h-1zM31 51h1v1h-1zM31 62h1v1h-1zM31 146h1v1h-1zM31 153h1v1h-1zM31 155h1v2h-1zM31 158h1v1h-1zM31 168h1v1h-1zM31 174h1v2h-1zM31 180h1v1h-1zM31 243h1v1h-1zM31 247h1v2h-1zM32 8h1v2h-1zM32 13h1v1h-1zM32 30h1v1h-1zM32 37h1v1h-1zM32 53h1v1h-1zM32 112h1v1h-1zM32 115h1v1h-1zM32 125h1v1h-1zM32 142h1v1h-1zM32 152h1v1h-1zM32 164h1v3h-1zM32 169h1v1h-1zM32 180h1v1h-1zM32 240h1v1h-1zM33 65h1v2h-1zM33 85h1v1h-1zM33 98h1v1h-1zM33 187h1v1h-1zM33 209h1v1h-1zM33 243h1v1h-1zM34 6h1v1h-1zM34 15h1v1h-1zM34 17h1v1h-1zM34 33h1v1h-1zM34 83h1v2h-1zM34 125h1v1h-1zM34 132h1v1h-1zM34 144h1v1h-1zM34 155h1v1h-1zM34 183h1v1h-1zM34 217h1v1h-1zM34 242h1v1h-1zM35 34h1v1h-1zM35 78h1v1h-1zM35 114h1v1h-1zM35 127h1v1h-1zM35 130h1v1h-1zM35 139h1v1h-1zM35 156h1v1h-1zM35 167h1v1h-1zM35 169h1v1h-1zM35 173h1v1h-1zM35 183h1v1h-1zM35 222h1v1h-1zM35 224h1v1h-1zM35 236h1v1h-1zM36 12h1v1h-1zM36 32h1v2h-1zM36 39h1v1h-1zM36 97h1v1h-1zM36 99h1v1h-1zM36 103h1v2h-1zM36 108h1v1h-1zM36 112h1v1h-1zM36 146h1v1h-1zM36 163h1v1h-1zM36 165h1v1h-1zM36 169h1v1h-1zM36 184h1v1h-1zM36 193h1v1h-1zM36 201h1v1h-1zM36 208h1v1h-1zM37 14h1v1h-1zM37 85h1v1h-1zM37 102h1v2h-1zM37 109h1v1h-1zM37 180h1v1h-1zM37 205h1v1h-1zM37 217h1v1h-1zM37 233h1v1h-1zM37 241h1v1h-1zM37 249h1v1h-1zM38 45h1v1h-1zM38 77h1v1h-1zM38 86h1v1h-1zM38 117h1v1h-1zM38 135h1v1h-1zM38 193h1v1h-1zM38 202h1v1h-1zM38 214h1v1h-1zM38 228h1v2h-1zM39 0h1v1h-1zM39 2h1v1h-1zM39 10h1v1h-1zM39 21h1v1h-1zM39 37h1v1h-1zM39 39h1v1h-1zM39 49h1v1h-1zM39 85h1v1h-1zM39 129h1v1h-1zM39 158h1v1h-1zM39 170h1v1h-1zM39 180h1v1h-1zM39 218h1v1h-1zM39 247h1v1h-1zM40 28h1v1h-1zM40 32h1v1h-1zM40 140h1v1h-1zM40 143h1v1h-1zM40 151h1v1h-1zM40 168h1v1h-1zM40 175h1v1h-1zM40 179h1v1h-1zM40 184h1v2h-1zM41 88h1v1h-1zM41 91h1v1h-1zM41 104h1v1h-1zM41 143h1v1h-1zM41 149h1v1h-1zM41 152h1v1h-1zM41 239h1v1h-1zM42 35h1v1h-1zM42 48h1v1h-1zM42 52h1v1h-1zM42 57h1v1h-1zM42 61h1v1h-1zM42 63h1v1h-1zM42 123h1v1h-1zM42 164h1v1h-1zM42 248h1v1h-1zM43 19h1v1h-1zM43 46h1v1h-1zM43 51h1v1h-1zM43 61h1v1h-1zM43 65h1v2h-1zM43 98h1v1h-1zM43 124h1v1h-1zM43 133h1v1h-1zM43 138h1v1h-1zM43 150h1v1h-1zM43 157h1v1h-1zM43 165h1v1h-1zM43 180h1v1h-1zM43 213h1v1h-1zM43 216h1v1h-1zM43 243h1v1h-1zM43 249h1v1h-1zM44 7h1v1h-1zM44 11h1v1h-1zM44 45h1v1h-1zM44 55h1v2h-1zM44 64h1v1h-1zM44 76h1v1h-1zM44 78h1v1h-1zM44 132h1v1h-1zM44 143h1v1h-1zM44 148h1v1h-1zM44 181h1v2h-1zM44 208h1v1h-1zM45 20h1v1h-1zM45 43h1v1h-1zM45 54h1v1h-1zM45 69h1v2h-1zM45 86h1v1h-1zM45 97h1v1h-1zM45 112h1v1h-1zM45 136h1v1h-1zM45 167h1v1h-1zM45 172h1v1h-1zM45 186h1v1h-1zM45 227h1v1h-1zM45 236h1v1h-1zM46 64h1v1h-1zM46 74h1v1h-1zM46 83h1v1h-1zM46 90h1v2h-1zM46 93h1v1h-1zM46 102h1v1h-1zM46 151h1v1h-1zM46 155h1v2h-1zM46 173h1v1h-1zM46 183h1v1h-1zM46 188h1v1h-1zM46 199h1v1h-1zM46 223h1v1h-1zM46 227h1v1h-1zM46 244h1v1h-1zM46 249h1v1h-1zM47 2h1v1h-1zM47 11h1v1h-1zM47 13h1v1h-1zM47 18h1v1h-1zM47 27h1v1h-1zM47 62h1v1h-1zM47 65h1v1h-1zM47 98h1v1h-1zM47 110h1v1h-1zM47 112h1v1h-1zM47 124h1v1h-1zM47 128h1v1h-1zM47 142h1v1h-1zM47 153h1v1h-1zM47 158h1v1h-1zM47 186h1v1h-1zM48 78h1v1h-1zM48 103h1v2h-1zM48 119h1v1h-1zM48 167h1v1h-1zM48 179h1v1h-1zM48 216h1v1h-1zM48 219h1v1h-1zM48 233h1v1h-1zM49 0h1v1h-1zM49 9h1v1h-1zM49 12h1v1h-1zM49 35h1v1h-1zM49 71h1v1h-1zM49 137h1v1h-1zM49 147h1v1h-1zM49 152h1v1h-1zM49 161h1v1h-1zM49 165h1v2h-1zM49 177h1v1h-1zM49 185h1v1h-1zM49 203h1v1h-1zM49 214h1v2h-1zM49 220h1v1h-1z"/><path fill="#375a8c" d="M0 12h1v1h-1zM0 21h1v1h-1zM0 27h1v1h-1zM0 30h1v1h-1zM0 42h1v1h-1zM0 93h1v1h-1zM0 96h1v1h-1zM0 100h1v1h-1zM0 148h1v1h-1zM0 200h1v1h-1zM0 228h1v1h-1zM1 1h1v1h-1zM1 9h1v1h-1zM1 15h1v1h-1zM1 20h1v1h-1zM1 34h1v1h-1zM1 50h1v1h-1zM1 56h1v1h-1zM1 58h1v1h-1zM1 74h1v1h-1zM1 85h1v1h-1zM1 88h1v1h-1zM1 94h1v1h-1zM1 111h1v1h-1zM1 117h1v1h-1zM1 132h1v1h-1zM1 187h1v2h-1zM1 195h1v1h-1zM1 199h1v1h-1zM1 201h1v1h-1zM1 203h1v1h-1zM1 209h1v1h-1zM1 232h1v1h-1zM2 22h1v1h-1zM2 149h1v1h-1zM2 190h1v1h-1zM2 199h1v1h-1zM2 240h1v1h-1zM3 49h1v1h-1zM3 91h1v1h-1zM3 93h1v1h-1zM3 95h1v1h-1zM3 211h1v1h-1zM4 2h1v1h-1zM4 19h1v1h-1zM4 28h1v1h-1zM4 45h1v1h-1zM4 55h1v1h-1zM4 69h1v1h-1zM4 76h1v1h-1zM4 91h1v1h-1zM4 105h1v1h-1zM4 208h1v1h-1zM5 12h1v1h-1zM5 22h1v1h-1zM5 35h1v2h-1zM5 40h1v1h-1zM5 43h1v1h-1zM5 47h1v1h-1zM5 55h1v1h-1zM5 61h1v1h-1zM5 64h1v1h-1zM5 77h1v1h-1zM5 116h1v1h-1zM5 127h1v1h-1zM5 142h1v1h-1zM5 159h1v1h-1zM5 163h1v1h-1zM5 168h1v1h-1zM5 204h1v1h-1zM5 206h1v2h-1zM5 224h1v1h-1zM5 227h1v1h-1zM5 241h1v1h-1zM5 244h1v1h-1zM6 16h1v1h-1zM6 38h1v1h-1zM6 68h1v1h-1zM6 73h1v2h-1zM6 76h1v1h-1zM6 78h1v1h-1zM6 86h1v1h-1zM6 89h1v1h-1zM7 34h1v1h-1zM7 39h1v1h-1zM7 55h1v1h-1zM7 59h1v1h-1zM7 83h1v1h-1zM7 86h1v1h-1zM7 97h1v1h-1zM7 100h1v1h-1zM7 103h1v1h-1zM7 123h1v1h-1zM7 153h1v1h-1zM7 162h1v1h-1zM7 177h1v1h-1zM7 186h1v1h-1zM7 197h1v1h-1zM7 207h1v1h-1zM7 215h1v1h-1zM7 219h1v1h-1zM7 225h1v1h-1zM7 229h1v1h-1zM7 248h1v1h-1zM8 2h1v1h-1zM8 24h1v1h-1zM8 39h1v1h-1zM8 45h1v1h-1zM8 64h1v1h-1zM8 67h1v1h-1zM8 72h1v1h-1zM8 83h1v1h-1zM8 91h1v1h-1zM8 95h1v1h-1zM8 98h1v5h-1zM8 206h1v1h-1zM8 220h1v1h-1zM8 247h1v1h-1zM9 3h1v1h-1zM9 42h1v1h-1zM9 135h1v1h-1zM9 151h1v1h-1zM9 153h1v1h-1zM9 157h1v1h-1zM9 163h1v1h-1zM9 166h1v1h-1zM9 181h1v1h-1zM9 197h1v1h-1zM9 208h1v1h-1zM9 210h1v1h-1zM9 212h1v1h-1zM10 117h1v1h-1zM10 158h1v1h-1zM10 174h1v1h-1zM10 177h1v1h-1zM10 184h1v1h-1zM10 193h1v1h-1zM10 200h1v1h-1zM10 202h1v2h-1zM10 206h1v1h-1zM10 229h1v1h-1zM10 235h1v1h-1zM11 15h1v1h-1zM11 39h1v1h-1zM11 76h1v1h-1zM11 79h1v1h-1zM11 82h1v1h-1zM11 85h1v1h-1zM11 88h1v1h-1zM11 96h1v1h-1zM11 174h1v1h-1zM11 231h1v1h-1zM11 240h1v1h-1zM12 45h1v1h-1zM12 158h1v1h-1zM12 169h1v1h-1zM12 171h1v1h-1zM12 174h1v1h-1zM12 178h1v2h-1zM12 185h1v1h-1zM12 195h1v1h-1zM12 199h1v1h-1zM13 2h1v1h-1zM13 28h1v1h-1zM13 43h1v1h-1zM13 45h1v1h-1zM13 47h1v1h-1zM13 55h1v1h-1zM13 69h1v1h-1zM13 89h1v1h-1zM13 91h1v1h-1zM13 94h1v1h-1zM13 103h1v2h-1zM13 107h1v1h-1zM13 175h1v1h-1zM13 240h1v1h-1zM14 33h1v1h-1zM14 60h1v2h-1zM14 79h1v1h-1zM14 91h1v2h-1zM14 101h1v1h-1zM14 168h1v1h-1zM14 179h1v1h-1zM14 217h1v1h-1zM15 48h1v1h-1zM15 57h1v1h-1zM15 73h1v1h-1zM15 77h1v1h-1zM15 82h1v1h-1zM15 85h1v1h-1zM15 99h1v1h-1zM15 138h1v1h-1zM15 154h1v1h-1zM15 177h1v1h-1zM15 190h1v1h-1zM15 202h1v1h-1zM15 209h1v1h-1zM16 49h1v1h-1zM16 107h1v1h-1zM16 123h1v1h-1zM16 140h1v1h-1zM16 172h1v1h-1zM16 201h1v1h-1zM17 50h1v1h-1zM17 112h1v1h-1zM17 146h1v1h-1zM17 173h1v1h-1zM18 17h1v1h-1zM18 30h1v1h-1zM18 41h1v1h-1zM18 49h1v1h-1zM18 58h1v1h-1zM18 62h1v1h-1zM18 67h1v1h-1zM18 81h1v1h-1zM18 90h1v2h-1zM18 95h1v1h-1zM18 100h1v1h-1zM18 141h1v1h-1zM18 151h1v2h-1zM18 164h1v1h-1zM18 166h1v1h-1zM18 180h1v1h-1zM18 222h1v1h-1zM18 224h1v1h-1zM18 228h1v1h-1zM19 90h1v1h-1zM19 116h1v1h-1zM19 138h1v1h-1zM19 145h1v1h-1zM19 197h1v1h-1zM20 66h1v1h-1zM20 72h1v1h-1zM20 75h1v1h-1zM20 90h1v1h-1zM20 95h1v1h-1zM20 99h1v1h-1zM20 104h1v1h-1zM20 106h1v2h-1zM20 187h1v2h-1zM20 204h1v1h-1zM21 21h1v1h-1zM21 25h1v1h-1zM21 65h1v1h-1zM21 76h1v1h-1zM21 84h1v1h-1zM21 94h1v1h-1zM21 112h1v2h-1zM21 117h1v1h-1zM21 121h1v1h-1zM21 127h1v1h-1zM21 137h1v2h-1zM21 189h1v1h-1zM22 19h1v1h-1zM22 26h1v1h-1zM22 30h1v1h-1zM22 32h1v1h-1zM22 34h1v1h-1zM22 37h1v1h-1zM22 53h1v1h-1zM22 58h1v1h-1zM22 62h1v1h-1zM22 71h1v1h-1zM22 79h1v1h-1zM22 87h1v1h-1zM22 94h1v1h-1zM22 114h1v1h-1zM22 184h1v1h-1zM22 215h1v2h-1zM23 21h1v1h-1zM23 40h1v1h-1zM23 69h1v1h-1zM23 132h1v1h-1zM23 140h1v1h-1zM23 148h1v1h-1zM23 164h1v1h-1zM23 174h1v1h-1zM23 179h1v1h-1zM23 196h1v1h-1zM23 199h1v1h-1zM23 208h1v1h-1zM23 213h1v1h-1zM23 239h1v1h-1zM23 248h1v1h-1zM24 66h1v1h-1zM24 103h1v1h-1zM24 106h1v1h-1zM24 108h1v1h-1zM24 112h1v1h-1zM24 155h1v1h-1zM24 199h1v1h-1zM25 30h1v1h-1zM25 33h1v1h-1zM25 36h1v1h-1zM25 41h1v1h-1zM25 48h1v1h-1zM25 188h1v1h-1zM25 202h1v1h-1zM25 216h1v1h-1zM25 225h1v1h-1zM26 2h1v1h-1zM26 4h1v1h-1zM26 13h1v1h-1zM26 40h1v1h-1zM26 44h1v1h-1zM26 47h1v1h-1zM26 55h1v1h-1zM26 62h1v1h-1zM26 66h1v1h-1zM26 124h1v1h-1zM26 129h1v2h-1zM26 139h1v1h-1zM26 142h1v1h-1zM26 155h1v1h-1zM26 160h1v1h-1zM26 169h1v2h-1zM26 179h1v1h-1zM26 186h1v1h-1zM26 211h1v1h-1zM26 213h1v2h-1zM26 217h1v2h-1zM26 241h1v1h-1zM26 245h1v1h-1zM27 49h1v1h-1zM27 56h1v1h-1zM27 116h1v1h-1zM27 146h1v1h-1zM27 154h1v1h-1zM27 157h1v1h-1zM27 164h1v2h-1zM27 185h1v1h-1zM27 197h1v2h-1zM27 216h1v2h-1zM27 222h1v1h-1zM27 233h1v2h-1zM27 239h1v1h-1zM27 241h1v1h-1zM27 245h1v1h-1zM28 4h1v1h-1zM28 15h1v1h-1zM28 23h1v1h-1zM28 26h1v1h-1zM28 28h1v1h-1zM28 30h1v1h-1zM28 65h1v1h-1zM28 111h1v1h-1zM28 147h1v1h-1zM28 157h1v1h-1zM28 178h1v1h-1zM28 193h1v1h-1zM28 231h1v1h-1zM29 61h1v1h-1zM29 85h1v1h-1zM29 94h1v1h-1zM29 107h1v1h-1zM29 112h1v1h-1zM29 123h1v1h-1zM29 134h1v1h-1zM29 141h1v1h-1zM29 152h1v1h-1zM29 157h1v1h-1zM29 183h1v1h-1zM29 201h1v1h-1zM29 223h1v1h-1zM29 234h1v1h-1zM29 249h1v1h-1zM30 0h1v1h-1zM30 13h1v2h-1zM30 20h1v1h-1zM30 104h1v1h-1zM30 110h1v1h-1zM30 118h1v1h-1zM30 134h1v1h-1zM30 151h1v1h-1zM30 183h1v1h-1zM30 200h1v2h-1zM30 206h1v1h-1zM30 223h1v1h-1zM30 230h1v1h-1zM30 235h1v1h-1zM31 44h1v1h-1zM31 46h1v1h-1zM31 55h1v1h-1zM31 57h1v1h-1zM31 110h1v1h-1zM31 117h1v2h-1zM31 159h1v2h-1zM31 170h1v1h-1zM31 189h1v1h-1zM31 201h1v1h-1zM31 221h1v1h-1zM31 225h1v1h-1zM32 3h1v1h-1zM32 7h1v1h-1zM32 16h1v1h-1zM32 22h1v1h-1zM32 91h1v1h-1zM32 137h1v1h-1zM32 156h1v1h-1zM32 167h1v1h-1zM32 178h1v1h-1zM32 181h1v1h-1zM32 200h1v1h-1zM32 234h1v1h-1zM32 246h1v3h-1zM33 13h1v1h-1zM33 54h1v1h-1zM33 58h1v1h-1zM33 78h1v1h-1zM33 86h1v1h-1zM33 90h1v1h-1zM33 97h1v1h-1zM33 99h1v2h-1zM33 105h1v1h-1zM33 107h1v1h-1zM33 109h1v1h-1zM33 192h1v1h-1zM33 201h1v1h-1zM34 35h1v1h-1zM34 82h1v1h-1zM34 92h1v1h-1zM34 100h1v1h-1zM34 107h1v1h-1zM34 123h1v1h-1zM34 129h1v2h-1zM34 136h1v1h-1zM34 143h1v1h-1zM34 178h1v1h-1zM34 186h1v1h-1zM34 211h1v1h-1zM34 235h1v1h-1zM34 243h1v1h-1zM35 65h1v1h-1zM35 76h1v1h-1zM35 90h1v1h-1zM35 105h1v1h-1zM35 138h1v1h-1zM35 142h1v1h-1zM35 170h1v1h-1zM35 176h1v1h-1zM35 204h1v2h-1zM35 212h1v1h-1zM35 231h1v1h-1zM35 241h1v1h-1zM36 1h1v1h-1zM36 9h1v1h-1zM36 13h1v1h-1zM36 25h1v2h-1zM36 31h1v1h-1zM36 73h1v1h-1zM36 83h1v1h-1zM36 89h1v1h-1zM36 91h1v1h-1zM36 117h1v1h-1zM36 122h1v2h-1zM36 127h1v1h-1zM36 133h1v1h-1zM36 152h1v1h-1zM36 159h1v1h-1zM36 185h1v1h-1zM36 205h1v1h-1zM36 223h1v1h-1zM36 230h1v1h-1zM36 234h1v1h-1zM37 1h1v1h-1zM37 47h1v1h-1zM37 100h1v1h-1zM37 146h1v1h-1zM37 159h1v1h-1zM37 197h1v1h-1zM37 207h1v2h-1zM37 220h1v1h-1zM37 223h1v1h-1zM37 227h1v1h-1zM37 234h1v1h-1zM37 244h1v2h-1zM37 247h1v1h-1zM38 59h1v2h-1zM38 69h1v1h-1zM38 96h1v1h-1zM38 98h1v2h-1zM38 127h1v1h-1zM38 212h1v1h-1zM38 219h1v1h-1zM38 230h1v1h-1zM38 234h1v1h-1zM38 237h1v1h-1zM38 240h1v1h-1zM39 13h1v1h-1zM39 23h1v1h-1zM39 25h1v1h-1zM39 128h1v1h-1zM39 132h1v1h-1zM39 134h1v1h-1zM39 141h1v1h-1zM39 148h1v1h-1zM39 153h1v1h-1zM39 163h1v1h-1zM39 165h1v1h-1zM39 183h1v1h-1zM39 199h1v1h-1zM39 233h1v1h-1zM39 248h1v1h-1zM40 2h1v1h-1zM40 36h1v1h-1zM40 77h1v1h-1zM40 134h1v1h-1zM40 139h1v1h-1zM40 145h1v1h-1zM40 157h1v2h-1zM40 169h1v1h-1zM40 174h1v1h-1zM40 178h1v1h-1zM40 190h1v2h-1zM40 210h1v1h-1zM40 217h1v1h-1zM40 222h1v1h-1zM40 242h1v1h-1zM41 35h1v1h-1zM41 154h1v2h-1zM41 167h1v1h-1zM41 172h1v1h-1zM41 177h1v1h-1zM41 181h1v2h-1zM42 47h1v1h-1zM42 73h1v1h-1zM42 83h1v1h-1zM42 107h1v1h-1zM42 109h1v1h-1zM42 165h1v1h-1zM42 219h1v1h-1zM43 1h1v1h-1zM43 20h1v1h-1zM43 23h1v1h-1zM43 58h1v1h-1zM43 62h1v1h-1zM43 64h1v1h-1zM43 69h1v1h-1zM43 79h1v1h-1zM43 88h1v1h-1zM43 94h1v2h-1zM43 106h1v1h-1zM43 116h1v1h-1zM43 120h1v1h-1zM43 137h1v1h-1zM43 145h1v1h-1zM43 177h1v1h-1zM43 186h1v1h-1zM43 218h1v1h-1zM43 231h1v1h-1zM44 31h1v1h-1zM44 43h1v1h-1zM44 47h1v1h-1zM44 49h1v1h-1zM44 91h1v1h-1zM44 122h1v1h-1zM44 129h1v1h-1zM44 135h1v1h-1zM44 152h1v1h-1zM44 174h1v1h-1zM44 184h1v1h-1zM44 220h1v1h-1zM45 66h1v1h-1zM45 68h1v1h-1zM45 77h1v2h-1zM45 92h1v1h-1zM45 103h1v1h-1zM45 113h1v1h-1zM45 122h1v2h-1zM45 129h1v1h-1zM45 135h1v1h-1zM45 144h1v1h-1zM45 162h1v1h-1zM45 179h1v1h-1zM45 182h1v1h-1zM46 49h1v1h-1zM46 52h1v1h-1zM46 57h1v1h-1zM46 65h1v1h-1zM46 81h1v1h-1zM46 85h1v1h-1zM46 87h1v1h-1zM46 92h1v1h-1zM46 104h1v1h-1zM46 108h1v1h-1zM46 122h1v1h-1zM46 125h1v1h-1zM46 165h1v1h-1zM46 167h1v1h-1zM46 177h1v1h-1zM46 182h1v1h-1zM46 201h1v2h-1zM46 215h1v2h-1zM47 10h1v1h-1zM47 22h1v1h-1zM47 40h1v1h-1zM47 57h1v1h-1zM47 95h1v1h-1zM47 102h1v1h-1zM47 123h1v1h-1zM47 125h1v2h-1zM47 131h1v1h-1zM47 145h1v1h-1zM47 151h1v1h-1zM47 172h1v1h-1zM47 178h1v1h-1zM47 184h1v1h-1zM47 240h1v1h-1zM48 76h1v1h-1zM48 84h1v1h-1zM48 97h1v2h-1zM48 109h1v1h-1zM48 134h1v1h-1zM48 153h1v1h-1zM48 163h1v1h-1zM48 169h1v1h-1zM48 188h1v1h-1zM48 214h1v1h-1zM48 224h1v1h-1zM48 231h1v1h-1zM48 235h1v1h-1zM48 239h1v2h-1zM48 246h1v1h-1zM49 1h1v2h-1zM49 25h1v1h-1zM49 30h1v1h-1zM49 32h1v1h-1zM49 34h1v1h-1zM49 37h1v1h-1zM49 41h1v1h-1zM49 74h1v1h-1zM49 132h1v1h-1zM49 135h1v1h-1zM49 189h1v1h-1zM49 213h1v1h-1zM49 219h1v1h-1z"/><path fill="#34618d" d="M0 22h1v1h-1zM0 61h1v1h-1zM0 94h1v1h-1zM0 144h1v1h-1zM0 191h1v1h-1zM1 0h1v1h-1zM1 33h1v1h-1zM1 39h1v1h-1zM1 45h1v1h-1zM1 52h1v1h-1zM1 87h1v1h-1zM1 89h1v1h-1zM1 115h1v1h-1zM1 129h1v1h-1zM1 146h1v1h-1zM1 191h1v1h-1zM1 208h1v1h-1zM1 212h1v1h-1zM1 222h1v1h-1zM2 189h1v1h-1zM3 48h1v1h-1zM3 127h1v1h-1zM3 136h1v1h-1zM3 138h1v1h-1zM3 192h1v1h-1zM3 198h1v1h-1zM4 12h1v1h-1zM4 38h1v1h-1zM4 61h1v1h-1zM4 63h1v1h-1zM4 82h1v2h-1zM4 86h1v1h-1zM4 95h1v1h-1zM4 153h1v1h-1zM4 171h1v1h-1zM4 210h1v1h-1zM4 239h1v1h-1zM5 17h1v1h-1zM5 21h1v1h-1zM5 49h1v1h-1zM5 90h1v1h-1zM5 108h1v3h-1zM5 118h1v1h-1zM5 135h1v1h-1zM5 137h1v1h-1zM5 158h1v1h-1zM5 161h1v1h-1zM5 164h1v1h-1zM5 172h1v1h-1zM5 175h1v1h-1zM5 185h1v1h-1zM5 196h1v1h-1zM5 209h1v1h-1zM5 221h1v1h-1zM5 233h1v1h-1zM6 2h1v1h-1zM6 6h1v1h-1zM6 10h1v1h-1zM6 20h1v1h-1zM6 27h1v1h-1zM6 41h1v1h-1zM6 51h1v1h-1zM6 63h1v1h-1zM6 69h1v2h-1zM6 75h1v1h-1zM6 84h1v1h-1zM6 90h1v1h-1zM7 33h1v1h-1zM7 80h1v1h-1zM7 88h1v1h-1zM7 112h1v1h-1zM7 114h1v1h-1zM7 118h1v1h-1zM7 147h1v1h-1zM7 157h1v1h-1zM7 166h1v2h-1zM7 178h1v1h-1zM7 181h1v1h-1zM7 183h1v1h-1zM7 220h1v2h-1zM7 224h1v1h-1zM7 237h1v2h-1zM8 4h1v1h-1zM8 8h1v2h-1zM8 30h1v1h-1zM8 35h1v2h-1zM8 52h1v1h-1zM8 70h1v1h-1zM8 78h1v1h-1zM8 116h1v1h-1zM8 161h1v2h-1zM8 181h1v1h-1zM9 124h1v1h-1zM9 131h1v1h-1zM9 165h1v1h-1zM9 185h1v1h-1zM9 187h1v1h-1zM9 232h1v1h-1zM9 245h1v1h-1zM10 31h1v1h-1zM10 34h1v1h-1zM10 111h1v1h-1zM10 115h1v1h-1zM10 133h1v1h-1zM10 151h1v1h-1zM10 169h1v1h-1zM10 180h1v1h-1zM10 204h1v1h-1zM11 6h1v1h-1zM11 22h1v1h-1zM11 36h1v1h-1zM11 45h1v1h-1zM11 58h1v1h-1zM11 92h1v1h-1zM11 97h1v1h-1zM11 100h1v1h-1zM11 131h1v1h-1zM11 166h1v1h-1zM11 173h1v1h-1zM11 239h1v1h-1zM11 246h1v2h-1zM12 9h1v1h-1zM12 111h1v1h-1zM12 115h1v1h-1zM12 117h1v1h-1zM12 120h1v1h-1zM12 139h1v1h-1zM12 161h1v1h-1zM12 188h1v1h-1zM12 193h1v2h-1zM12 197h1v1h-1zM12 200h1v1h-1zM12 212h1v1h-1zM13 4h1v1h-1zM13 37h1v2h-1zM13 49h1v1h-1zM13 61h1v1h-1zM13 65h1v1h-1zM13 73h1v1h-1zM13 82h1v1h-1zM13 100h1v1h-1zM13 136h1v1h-1zM13 153h1v1h-1zM13 165h1v2h-1zM13 205h1v1h-1zM13 215h1v1h-1zM13 219h1v1h-1zM14 1h1v1h-1zM14 4h1v1h-1zM14 11h1v1h-1zM14 34h1v1h-1zM14 48h1v1h-1zM14 57h1v1h-1zM14 65h1v1h-1zM14 86h1v2h-1zM15 18h1v1h-1zM15 87h1v1h-1zM15 104h1v1h-1zM15 133h1v1h-1zM15 215h1v1h-1zM15 225h1v1h-1zM15 228h1v1h-1zM15 239h1v1h-1zM15 249h1v1h-1zM16 113h1v1h-1zM16 117h1v1h-1zM16 125h1v1h-1zM16 136h1v1h-1zM16 238h1v1h-1zM17 134h1v1h-1zM17 176h1v1h-1zM17 187h1v1h-1zM17 210h1v1h-1zM18 7h1v1h-1zM18 11h1v1h-1zM18 14h1v1h-1zM18 47h1v1h-1zM18 63h1v1h-1zM18 148h1v1h-1zM18 150h1v1h-1zM18 156h1v1h-1zM18 221h1v1h-1zM18 232h1v1h-1zM18 234h1v2h-1zM18 245h1v1h-1zM19 133h1v1h-1zM19 187h1v1h-1zM19 201h1v1h-1zM20 52h1v1h-1zM20 55h1v1h-1zM20 67h1v1h-1zM20 73h1v1h-1zM20 80h1v2h-1zM20 85h1v2h-1zM20 88h1v1h-1zM20 124h1v1h-1zM21 47h1v2h-1zM21 85h1v1h-1zM21 91h1v1h-1zM21 116h1v1h-1zM21 120h1v1h-1zM21 122h1v1h-1zM21 131h1v1h-1zM21 133h1v1h-1zM21 142h1v1h-1zM21 188h1v1h-1zM21 204h1v1h-1zM22 13h1v1h-1zM22 16h1v1h-1zM22 29h1v1h-1zM22 42h1v1h-1zM22 97h1v1h-1zM22 104h1v2h-1zM22 130h1v1h-1zM22 146h1v1h-1zM22 172h1v1h-1zM22 224h1v1h-1zM23 2h1v1h-1zM23 25h1v1h-1zM23 27h1v1h-1zM23 127h1v1h-1zM23 134h1v1h-1zM23 142h1v1h-1zM23 149h1v1h-1zM23 183h1v1h-1zM23 201h1v3h-1zM23 220h1v1h-1zM23 226h1v1h-1zM23 229h1v1h-1zM23 233h1v1h-1zM23 246h1v1h-1zM24 68h1v1h-1zM24 74h1v1h-1zM24 97h1v1h-1zM24 116h1v1h-1zM24 143h1v1h-1zM25 0h1v1h-1zM25 17h1v1h-1zM25 22h1v1h-1zM25 26h1v1h-1zM25 44h1v1h-1zM25 49h1v1h-1zM25 135h1v1h-1zM25 153h1v1h-1zM25 176h1v1h-1zM25 224h1v1h-1zM26 3h1v1h-1zM26 10h1v1h-1zM26 19h1v1h-1zM26 24h1v1h-1zM26 36h1v1h-1zM26 50h1v1h-1zM26 67h1v1h-1zM26 72h1v1h-1zM26 101h1v1h-1zM26 112h1v1h-1zM26 121h1v1h-1zM26 131h1v1h-1zM26 134h1v1h-1zM26 162h1v1h-1zM26 177h1v1h-1zM26 190h1v1h-1zM26 196h1v1h-1zM26 202h1v1h-1zM26 204h1v1h-1zM26 223h1v1h-1zM26 225h1v1h-1zM26 237h1v1h-1zM27 46h1v2h-1zM27 75h1v1h-1zM27 103h1v1h-1zM27 117h1v1h-1zM27 168h1v1h-1zM27 177h1v2h-1zM27 182h1v1h-1zM27 199h1v1h-1zM27 202h1v1h-1zM27 205h1v1h-1zM27 221h1v1h-1zM27 237h1v2h-1zM28 3h1v1h-1zM28 11h1v1h-1zM28 13h1v1h-1zM28 18h1v2h-1zM28 35h1v1h-1zM28 55h1v1h-1zM28 110h1v1h-1zM28 114h1v2h-1zM28 119h1v2h-1zM28 128h1v1h-1zM28 183h1v1h-1zM28 185h1v1h-1zM28 228h1v1h-1zM28 245h1v1h-1zM29 138h1v1h-1zM29 155h1v1h-1zM29 162h1v1h-1zM29 169h1v1h-1zM29 227h1v1h-1zM29 237h1v1h-1zM30 19h1v1h-1zM30 30h1v1h-1zM30 40h1v1h-1zM30 68h1v1h-1zM30 81h1v1h-1zM30 95h1v1h-1zM30 113h1v2h-1zM30 136h1v1h-1zM30 152h1v1h-1zM30 161h1v1h-1zM30 247h1v1h-1zM30 249h1v1h-1zM31 17h1v1h-1zM31 42h1v1h-1zM31 81h1v1h-1zM31 111h1v2h-1zM31 142h1v1h-1zM31 169h1v1h-1zM31 199h1v1h-1zM31 230h1v1h-1zM31 240h1v1h-1zM32 1h1v2h-1zM32 12h1v1h-1zM32 128h1v1h-1zM32 136h1v1h-1zM32 177h1v1h-1zM32 179h1v1h-1zM32 186h1v2h-1zM32 204h1v1h-1zM32 207h1v1h-1zM32 218h1v1h-1zM32 231h1v1h-1zM33 3h1v1h-1zM33 53h1v1h-1zM33 59h1v1h-1zM33 80h1v1h-1zM33 96h1v1h-1zM33 199h1v1h-1zM33 203h1v1h-1zM33 215h1v1h-1zM34 3h1v2h-1zM34 9h1v1h-1zM34 12h1v1h-1zM34 19h1v1h-1zM34 21h1v1h-1zM34 38h1v1h-1zM34 110h1v1h-1zM34 134h1v1h-1zM34 158h1v1h-1zM34 164h1v3h-1zM34 170h1v1h-1zM34 172h1v1h-1zM34 174h1v1h-1zM34 177h1v1h-1zM34 180h1v1h-1zM34 216h1v1h-1zM34 222h1v1h-1zM34 233h1v1h-1zM35 83h1v1h-1zM35 87h1v1h-1zM35 89h1v1h-1zM35 99h1v1h-1zM35 109h1v2h-1zM35 125h1v1h-1zM35 140h1v1h-1zM35 153h1v1h-1zM35 165h1v1h-1zM35 178h1v2h-1zM35 182h1v1h-1zM35 190h1v1h-1zM35 207h1v1h-1zM35 226h1v1h-1zM35 245h1v1h-1zM35 248h1v1h-1zM36 3h1v1h-1zM36 23h1v1h-1zM36 69h1v1h-1zM36 121h1v1h-1zM36 144h1v1h-1zM36 171h1v1h-1zM36 173h1v1h-1zM36 188h1v1h-1zM36 217h1v3h-1zM36 227h1v1h-1zM36 242h1v2h-1zM36 247h1v1h-1zM37 16h1v1h-1zM37 42h1v1h-1zM37 57h1v2h-1zM37 78h1v1h-1zM37 123h1v1h-1zM37 145h1v1h-1zM37 170h1v1h-1zM37 198h1v1h-1zM37 211h1v1h-1zM37 218h1v1h-1zM37 222h1v1h-1zM37 235h1v1h-1zM37 243h1v1h-1zM37 248h1v1h-1zM38 8h1v1h-1zM38 43h1v1h-1zM38 52h1v1h-1zM38 82h1v1h-1zM38 89h1v1h-1zM38 92h1v1h-1zM38 94h1v1h-1zM38 97h1v1h-1zM38 102h1v1h-1zM38 189h1v1h-1zM38 195h1v2h-1zM38 204h1v1h-1zM38 217h1v1h-1zM38 242h1v1h-1zM38 244h1v1h-1zM39 8h1v1h-1zM39 59h1v1h-1zM39 78h1v1h-1zM39 91h1v1h-1zM39 123h1v1h-1zM39 127h1v1h-1zM39 135h1v1h-1zM39 149h1v1h-1zM39 156h1v1h-1zM39 171h1v1h-1zM39 175h1v1h-1zM39 178h1v1h-1zM39 214h1v1h-1zM39 229h1v1h-1zM39 238h1v1h-1zM39 242h1v1h-1zM39 249h1v1h-1zM40 13h1v1h-1zM40 26h1v1h-1zM40 31h1v1h-1zM40 37h1v1h-1zM40 84h1v1h-1zM40 125h1v1h-1zM40 130h1v1h-1zM40 136h1v1h-1zM40 200h1v1h-1zM40 203h1v1h-1zM40 245h1v1h-1zM41 132h1v1h-1zM41 168h1v1h-1zM41 171h1v1h-1zM41 186h1v1h-1zM41 194h1v1h-1zM41 220h1v1h-1zM41 224h1v1h-1zM42 55h1v1h-1zM42 74h1v1h-1zM42 90h1v1h-1zM42 115h1v2h-1zM42 132h1v1h-1zM42 140h1v1h-1zM42 155h1v1h-1zM42 178h1v2h-1zM42 241h1v1h-1zM43 17h1v1h-1zM43 31h1v1h-1zM43 50h1v1h-1zM43 82h1v1h-1zM43 118h1v1h-1zM43 127h1v1h-1zM43 132h1v1h-1zM43 166h1v1h-1zM44 61h1v1h-1zM44 125h1v1h-1zM44 127h1v1h-1zM44 138h1v1h-1zM44 144h1v1h-1zM44 146h1v2h-1zM44 158h1v1h-1zM44 160h1v1h-1zM44 170h1v1h-1zM44 173h1v1h-1zM44 176h1v1h-1zM44 178h1v1h-1zM45 61h1v1h-1zM45 72h1v1h-1zM45 100h1v1h-1zM45 118h1v1h-1zM45 152h1v1h-1zM45 174h1v1h-1zM45 229h1v1h-1zM45 249h1v1h-1zM46 21h1v1h-1zM46 76h1v1h-1zM46 95h1v1h-1zM46 98h1v1h-1zM46 107h1v1h-1zM46 115h1v1h-1zM46 119h1v1h-1zM46 140h1v1h-1zM46 181h1v1h-1zM46 192h1v1h-1zM46 200h1v1h-1zM46 209h1v1h-1zM46 229h1v1h-1zM46 236h1v1h-1zM46 241h1v1h-1zM46 243h1v1h-1zM47 3h1v1h-1zM47 5h1v1h-1zM47 16h1v2h-1zM47 21h1v1h-1zM47 24h1v1h-1zM47 32h1v1h-1zM47 67h1v1h-1zM47 82h1v1h-1zM47 104h1v1h-1zM47 127h1v1h-1zM47 130h1v1h-1zM47 135h1v1h-1zM47 139h1v1h-1zM47 148h1v1h-1zM47 154h1v1h-1zM47 157h1v1h-1zM47 166h1v2h-1zM47 176h1v1h-1zM47 185h1v1h-1zM47 221h1v1h-1zM47 232h1v1h-1zM47 237h1v1h-1zM48 86h1v1h-1zM48 90h1v1h-1zM48 94h1v1h-1zM48 115h1v1h-1zM48 149h1v1h-1zM48 151h1v1h-1zM48 171h1v1h-1zM48 187h1v1h-1zM48 190h1v2h-1zM48 197h1v2h-1zM48 201h1v1h-1zM48 218h1v1h-1zM48 222h1v1h-1zM48 244h1v1h-1zM49 22h1v1h-1zM49 24h1v1h-1zM49 26h1v1h-1zM49 77h1v1h-1zM49 112h1v1h-1zM49 123h1v2h-1zM49 127h1v1h-1zM49 130h1v1h-1zM49 156h1v1h-1zM49 162h1v1h-1zM49 183h1v1h-1zM49 186h1v1h-1zM49 188h1v1h-1zM49 201h1v1h-1zM49 232h1v1h-1zM49 239h1v1h-1zM49 244h1v1h-1z"/><path fill="#31688e" d="M0 52h1v1h-1zM0 108h1v1h-1zM0 127h1v2h-1zM0 136h1v1h-1zM1 11h1v1h-1zM1 35h1v1h-1zM1 44h1v1h-1zM1 48h1v1h-1zM1 60h1v1h-1zM1 62h1v1h-1zM1 173h1v1h-1zM1 194h1v1h-1zM2 85h1v1h-1zM2 144h1v1h-1zM2 219h1v1h-1zM3 35h1v1h-1zM3 47h1v1h-1zM3 129h1v1h-1zM4 0h1v1h-1zM4 8h1v1h-1zM4 10h1v1h-1zM4 40h1v1h-1zM4 65h1v1h-1zM4 71h1v1h-1zM4 85h1v1h-1zM4 88h1v1h-1zM4 102h1v1h-1zM4 113h1v1h-1zM4 137h1v1h-1zM4 207h1v1h-1zM5 48h1v1h-1zM5 53h1v1h-1zM5 60h1v1h-1zM5 74h1v1h-1zM5 94h1v1h-1zM5 100h1v1h-1zM5 113h1v1h-1zM5 153h1v1h-1zM5 157h1v1h-1zM5 170h1v1h-1zM5 179h1v1h-1zM5 191h1v1h-1zM5 211h1v1h-1zM5 231h1v1h-1zM5 240h1v1h-1zM6 8h1v1h-1zM6 14h1v1h-1zM6 40h1v1h-1zM6 42h1v1h-1zM6 53h1v1h-1zM6 94h1v2h-1zM6 113h1v1h-1zM6 157h1v1h-1zM6 176h1v1h-1zM6 234h1v1h-1zM6 242h1v1h-1zM7 43h1v1h-1zM7 117h1v1h-1zM7 129h1v1h-1zM7 137h1v1h-1zM7 148h1v1h-1zM7 168h1v1h-1zM7 174h1v1h-1zM7 184h1v1h-1zM7 211h1v1h-1zM7 213h1v2h-1zM7 231h1v1h-1zM7 241h1v1h-1zM8 10h1v1h-1zM8 26h1v2h-1zM8 33h1v1h-1zM8 44h1v1h-1zM8 63h1v1h-1zM8 84h1v1h-1zM8 86h1v1h-1zM8 88h1v3h-1zM8 184h1v1h-1zM8 207h1v1h-1zM8 215h1v1h-1zM9 136h1v1h-1zM9 146h1v1h-1zM9 150h1v1h-1zM9 159h1v1h-1zM9 168h1v1h-1zM9 170h1v1h-1zM9 190h1v1h-1zM9 204h1v1h-1zM10 50h1v1h-1zM10 118h1v1h-1zM10 121h1v1h-1zM10 136h1v1h-1zM10 139h1v1h-1zM10 141h1v1h-1zM10 154h1v2h-1zM10 173h1v1h-1zM10 186h1v1h-1zM10 191h1v2h-1zM10 195h1v1h-1zM11 20h1v1h-1zM11 23h1v1h-1zM11 41h1v1h-1zM11 65h1v1h-1zM11 83h1v1h-1zM11 87h1v1h-1zM11 93h1v1h-1zM11 106h1v1h-1zM11 142h1v1h-1zM11 149h1v1h-1zM11 211h1v1h-1zM11 222h1v1h-1zM11 227h1v1h-1zM12 112h1v1h-1zM12 124h1v1h-1zM12 134h1v1h-1zM12 138h1v1h-1zM12 168h1v1h-1zM12 170h1v1h-1zM12 172h1v1h-1zM12 190h1v1h-1zM12 203h1v1h-1zM12 238h1v1h-1zM13 0h1v1h-1zM13 3h1v1h-1zM13 31h1v1h-1zM13 34h1v1h-1zM13 54h1v1h-1zM13 84h1v1h-1zM13 86h1v2h-1zM13 181h1v1h-1zM13 217h1v1h-1zM13 222h1v1h-1zM14 8h1v1h-1zM14 17h1v1h-1zM14 26h1v1h-1zM14 54h1v1h-1zM14 69h1v1h-1zM14 85h1v1h-1zM14 90h1v1h-1zM14 94h1v2h-1zM14 98h1v1h-1zM14 239h1v1h-1zM15 34h1v1h-1zM15 46h1v1h-1zM15 97h1v1h-1zM15 105h1v1h-1zM15 113h1v1h-1zM15 159h1v1h-1zM15 195h1v1h-1zM15 198h1v1h-1zM15 218h1v1h-1zM15 235h1v1h-1zM16 108h1v1h-1zM16 110h1v2h-1zM16 114h1v1h-1zM16 126h1v1h-1zM16 193h1v1h-1zM17 89h1v1h-1zM17 107h1v1h-1zM17 125h1v1h-1zM17 159h1v1h-1zM18 9h1v1h-1zM18 12h1v1h-1zM18 38h1v1h-1zM18 78h1v1h-1zM18 82h1v1h-1zM18 92h1v1h-1zM18 99h1v1h-1zM18 137h1v2h-1zM18 145h1v1h-1zM18 159h1v1h-1zM18 161h1v2h-1zM18 175h1v1h-1zM18 177h1v1h-1zM18 201h1v1h-1zM18 207h1v1h-1zM18 210h1v1h-1zM18 213h1v1h-1zM19 114h1v1h-1zM19 124h1v1h-1zM19 128h1v1h-1zM19 183h1v1h-1zM19 206h1v1h-1zM20 60h1v1h-1zM20 87h1v1h-1zM20 91h1v1h-1zM20 98h1v1h-1zM21 13h1v1h-1zM21 52h1v2h-1zM21 77h1v1h-1zM21 103h1v1h-1zM21 124h1v3h-1zM22 40h1v1h-1zM22 45h1v1h-1zM22 76h1v2h-1zM22 80h1v1h-1zM22 92h1v1h-1zM22 102h1v1h-1zM22 106h1v1h-1zM22 121h1v1h-1zM22 132h1v1h-1zM22 186h1v1h-1zM23 43h1v1h-1zM23 53h1v1h-1zM23 137h1v1h-1zM23 153h1v1h-1zM23 209h1v1h-1zM23 216h1v1h-1zM23 219h1v1h-1zM23 227h1v1h-1zM23 236h1v1h-1zM23 242h1v1h-1zM24 69h1v3h-1zM24 78h1v1h-1zM24 84h1v1h-1zM24 110h1v1h-1zM24 120h1v1h-1zM24 122h1v1h-1zM24 189h1v1h-1zM25 7h1v1h-1zM25 34h1v1h-1zM25 67h1v2h-1zM25 116h1v1h-1zM26 5h1v1h-1zM26 12h1v1h-1zM26 34h1v1h-1zM26 53h1v1h-1zM26 56h1v2h-1zM26 60h1v1h-1zM26 127h1v1h-1zM26 135h1v1h-1zM26 137h1v1h-1zM26 152h1v1h-1zM26 164h1v2h-1zM26 189h1v1h-1zM26 194h1v1h-1zM26 198h1v1h-1zM26 222h1v1h-1zM26 240h1v1h-1zM26 242h1v1h-1zM26 248h1v1h-1zM27 44h1v1h-1zM27 63h1v2h-1zM27 69h1v1h-1zM27 187h1v1h-1zM27 189h1v1h-1zM27 191h1v1h-1zM27 194h1v1h-1zM27 206h1v1h-1zM27 240h1v1h-1zM27 249h1v1h-1zM28 0h1v1h-1zM28 5h1v1h-1zM28 39h1v1h-1zM28 41h1v1h-1zM28 46h1v1h-1zM28 53h1v2h-1zM28 61h1v1h-1zM28 66h1v1h-1zM28 109h1v1h-1zM28 121h1v1h-1zM28 206h1v1h-1zM28 214h1v1h-1zM28 220h1v1h-1zM28 249h1v1h-1zM29 142h1v1h-1zM29 144h1v1h-1zM29 153h1v2h-1zM29 175h1v1h-1zM29 179h1v1h-1zM29 184h1v1h-1zM29 191h1v1h-1zM29 216h1v1h-1zM29 243h1v1h-1zM29 245h1v1h-1zM30 15h1v1h-1zM30 25h1v1h-1zM30 32h1v1h-1zM30 45h1v1h-1zM30 82h1v1h-1zM30 91h1v1h-1zM30 126h1v1h-1zM30 187h1v1h-1zM30 233h1v1h-1zM30 240h1v1h-1zM30 245h1v1h-1zM31 53h1v1h-1zM31 101h1v1h-1zM31 115h1v2h-1zM31 127h1v1h-1zM31 178h1v1h-1zM31 190h1v1h-1zM31 205h1v2h-1zM31 214h1v1h-1zM31 220h1v1h-1zM31 222h1v2h-1zM31 244h1v1h-1zM32 5h1v1h-1zM32 18h1v1h-1zM32 25h1v1h-1zM32 29h1v1h-1zM32 71h1v1h-1zM32 81h1v1h-1zM32 117h1v1h-1zM32 124h1v1h-1zM32 134h1v1h-1zM32 146h1v1h-1zM32 151h1v1h-1zM32 155h1v1h-1zM32 170h1v1h-1zM32 201h1v2h-1zM32 229h1v1h-1zM32 243h1v1h-1zM32 245h1v1h-1zM32 249h1v1h-1zM33 56h1v1h-1zM33 79h1v1h-1zM33 118h1v1h-1zM34 1h1v1h-1zM34 10h1v1h-1zM34 16h1v1h-1zM34 29h1v1h-1zM34 32h1v1h-1zM34 34h1v1h-1zM34 36h1v1h-1zM34 77h1v1h-1zM34 85h1v1h-1zM34 138h1v1h-1zM34 153h1v1h-1zM34 160h1v1h-1zM34 184h1v1h-1zM34 193h1v1h-1zM34 210h1v1h-1zM34 223h1v1h-1zM34 248h1v1h-1zM35 57h1v1h-1zM35 67h1v1h-1zM35 91h1v2h-1zM35 101h1v1h-1zM35 111h1v1h-1zM35 122h1v1h-1zM35 129h1v1h-1zM35 160h1v1h-1zM35 164h1v1h-1zM35 201h1v1h-1zM35 210h1v1h-1zM35 214h1v1h-1zM35 218h1v1h-1zM35 234h1v1h-1zM35 244h1v1h-1zM36 20h1v1h-1zM36 55h1v1h-1zM36 67h1v1h-1zM36 75h1v1h-1zM36 85h1v1h-1zM36 114h1v1h-1zM36 118h1v1h-1zM36 124h1v1h-1zM36 130h1v1h-1zM36 161h1v1h-1zM36 172h1v1h-1zM36 214h1v1h-1zM36 225h1v1h-1zM36 240h1v1h-1zM36 246h1v1h-1zM37 43h1v1h-1zM37 45h1v1h-1zM37 51h1v1h-1zM37 59h1v1h-1zM37 63h1v1h-1zM37 81h1v1h-1zM37 99h1v1h-1zM37 104h1v2h-1zM37 110h1v1h-1zM37 149h1v1h-1zM37 155h1v1h-1zM37 177h1v1h-1zM37 187h1v1h-1zM37 200h1v1h-1zM37 236h1v1h-1zM37 238h1v1h-1zM37 246h1v1h-1zM38 57h1v1h-1zM38 104h1v1h-1zM38 173h1v1h-1zM38 192h1v1h-1zM38 203h1v1h-1zM38 206h1v1h-1zM38 209h1v1h-1zM38 213h1v1h-1zM38 227h1v1h-1zM38 236h1v1h-1zM39 9h1v1h-1zM39 12h1v1h-1zM39 24h1v1h-1zM39 32h1v1h-1zM39 35h1v1h-1zM39 40h1v1h-1zM39 89h1v1h-1zM39 95h1v1h-1zM39 99h1v1h-1zM39 101h1v1h-1zM39 125h1v1h-1zM39 136h1v1h-1zM39 138h1v1h-1zM39 152h1v1h-1zM39 154h1v1h-1zM39 159h1v1h-1zM39 168h1v2h-1zM39 173h1v1h-1zM39 176h1v1h-1zM39 204h1v1h-1zM39 232h1v1h-1zM39 239h1v1h-1zM39 244h1v1h-1zM40 3h1v1h-1zM40 9h1v1h-1zM40 20h1v1h-1zM40 27h1v1h-1zM40 103h1v1h-1zM40 155h1v1h-1zM40 193h1v1h-1zM40 198h1v1h-1zM40 204h1v1h-1zM40 248h1v1h-1zM41 81h1v1h-1zM41 129h1v1h-1zM41 136h1v1h-1zM41 140h1v1h-1zM42 43h1v1h-1zM42 60h1v1h-1zM42 65h1v1h-1zM42 100h1v1h-1zM42 105h1v1h-1zM42 129h1v1h-1zM42 162h1v2h-1zM42 168h1v1h-1zM42 170h1v1h-1zM42 177h1v1h-1zM42 184h1v1h-1zM42 201h1v1h-1zM43 13h1v1h-1zM43 44h1v1h-1zM43 72h1v1h-1zM43 75h1v2h-1zM43 100h1v1h-1zM43 167h1v1h-1zM43 174h1v1h-1zM43 179h1v1h-1zM43 212h1v1h-1zM43 223h1v1h-1zM44 71h1v1h-1zM44 77h1v1h-1zM44 85h1v1h-1zM44 100h1v1h-1zM44 104h1v1h-1zM44 109h1v1h-1zM44 116h1v2h-1zM44 139h1v1h-1zM44 154h1v1h-1zM44 163h1v1h-1zM44 188h1v1h-1zM45 26h1v1h-1zM45 87h1v1h-1zM45 89h1v1h-1zM45 94h1v1h-1zM45 102h1v1h-1zM45 110h1v1h-1zM45 157h1v1h-1zM45 169h1v1h-1zM45 187h1v1h-1zM45 189h1v1h-1zM45 216h1v3h-1zM45 233h1v1h-1zM45 246h1v1h-1zM46 43h1v1h-1zM46 78h1v1h-1zM46 88h1v1h-1zM46 171h1v1h-1zM46 174h1v1h-1zM46 190h1v2h-1zM46 211h1v1h-1zM46 224h1v2h-1zM46 235h1v1h-1zM46 242h1v1h-1zM46 246h1v1h-1zM47 12h1v1h-1zM47 39h1v1h-1zM47 46h1v1h-1zM47 68h1v2h-1zM47 75h1v1h-1zM47 77h1v1h-1zM47 97h1v1h-1zM47 105h1v1h-1zM47 109h1v1h-1zM47 114h1v1h-1zM47 119h1v1h-1zM47 141h1v1h-1zM47 174h1v1h-1zM47 189h1v1h-1zM47 228h1v1h-1zM48 71h1v1h-1zM48 85h1v1h-1zM48 92h1v1h-1zM48 116h1v1h-1zM48 118h1v1h-1zM48 120h1v2h-1zM48 130h1v1h-1zM48 195h1v1h-1zM48 210h1v1h-1zM48 213h1v1h-1zM48 234h1v1h-1zM48 241h1v1h-1zM49 17h1v1h-1zM49 36h1v1h-1zM49 51h1v1h-1zM49 80h1v1h-1zM49 90h1v2h-1zM49 102h1v1h-1zM49 105h1v1h-1zM49 113h1v1h-1zM49 126h1v1h-1zM49 129h1v1h-1zM49 133h1v2h-1zM49 169h1v1h-1zM49 173h1v1h-1zM49 175h1v2h-1zM49 181h1v2h-1zM49 202h1v1h-1zM49 212h1v1h-1zM49 218h1v1h-1zM49 229h1v1h-1zM49 237h1v1h-1zM49 241h1v1h-1z"/><path fill="#2e6e8e" d="M0 145h1v1h-1zM1 5h1v1h-1zM1 13h1v1h-1zM1 16h1v1h-1zM1 54h1v1h-1zM1 75h1v1h-1zM1 123h1v1h-1zM1 143h1v1h-1zM1 148h1v2h-1zM1 215h1v1h-1zM1 243h1v1h-1zM2 146h1v1h-1zM3 132h1v1h-1zM3 189h1v1h-1zM4 6h1v1h-1zM4 24h1v1h-1zM4 32h1v1h-1zM4 37h1v1h-1zM4 66h1v1h-1zM4 108h1v2h-1zM4 112h1v1h-1zM4 155h1v1h-1zM4 159h1v1h-1zM4 175h1v1h-1zM4 233h1v1h-1zM5 32h1v1h-1zM5 93h1v1h-1zM5 112h1v1h-1zM5 119h1v1h-1zM5 123h1v1h-1zM5 130h1v1h-1zM5 134h1v1h-1zM5 139h1v1h-1zM5 147h1v1h-1zM5 149h1v1h-1zM5 167h1v1h-1zM5 180h1v2h-1zM5 188h1v1h-1zM5 194h1v1h-1zM5 216h1v2h-1zM5 226h1v1h-1zM5 236h1v1h-1zM6 17h1v1h-1zM6 28h1v1h-1zM6 31h1v1h-1zM6 33h1v1h-1zM6 37h1v1h-1zM6 43h1v1h-1zM6 46h1v1h-1zM6 59h1v1h-1zM6 87h1v1h-1zM6 93h1v1h-1zM6 98h1v1h-1zM6 105h1v1h-1zM6 111h1v1h-1zM6 120h1v1h-1zM7 82h1v1h-1zM7 98h1v1h-1zM7 128h1v1h-1zM7 143h1v1h-1zM7 161h1v1h-1zM7 171h1v1h-1zM7 190h1v2h-1zM7 195h1v1h-1zM7 203h1v1h-1zM7 209h1v1h-1zM7 216h1v1h-1zM7 218h1v1h-1zM7 235h1v1h-1zM8 32h1v1h-1zM8 49h1v1h-1zM8 51h1v1h-1zM8 103h1v1h-1zM8 117h1v1h-1zM8 159h1v1h-1zM8 210h1v1h-1zM8 217h1v1h-1zM8 223h1v1h-1zM9 109h1v1h-1zM9 119h1v1h-1zM9 126h1v1h-1zM9 132h1v1h-1zM9 145h1v1h-1zM9 148h1v1h-1zM9 188h1v1h-1zM9 200h1v1h-1zM9 205h1v1h-1zM9 231h1v1h-1zM10 48h1v1h-1zM10 112h1v1h-1zM10 134h1v1h-1zM10 140h1v1h-1zM10 167h1v1h-1zM10 196h1v1h-1zM10 244h1v1h-1zM11 0h1v1h-1zM11 9h1v1h-1zM11 29h1v1h-1zM11 43h1v1h-1zM11 61h1v1h-1zM11 89h1v1h-1zM11 98h1v1h-1zM11 125h1v1h-1zM11 185h1v1h-1zM11 205h1v1h-1zM11 209h1v1h-1zM11 215h1v1h-1zM11 228h1v1h-1zM11 238h1v1h-1zM12 123h1v1h-1zM12 135h1v1h-1zM12 148h1v2h-1zM12 154h1v1h-1zM12 192h1v1h-1zM13 9h1v1h-1zM13 16h1v1h-1zM13 20h1v1h-1zM13 40h1v1h-1zM13 42h1v1h-1zM13 53h1v1h-1zM13 58h1v1h-1zM13 60h1v1h-1zM13 74h1v1h-1zM13 88h1v1h-1zM13 128h1v1h-1zM13 138h1v1h-1zM13 167h1v1h-1zM13 170h1v1h-1zM13 176h1v1h-1zM13 196h1v1h-1zM13 216h1v1h-1zM13 233h1v1h-1zM14 13h1v1h-1zM14 18h1v1h-1zM14 21h1v1h-1zM14 38h1v1h-1zM14 68h1v1h-1zM14 71h1v1h-1zM14 176h1v1h-1zM14 191h1v1h-1zM14 214h1v1h-1zM15 35h1v1h-1zM15 43h1v1h-1zM15 108h1v1h-1zM15 210h1v1h-1zM15 222h1v1h-1zM15 238h1v1h-1zM16 112h1v1h-1zM16 121h1v2h-1zM17 108h1v1h-1zM17 118h1v1h-1zM17 121h1v1h-1zM17 127h1v1h-1zM18 1h1v1h-1zM18 5h1v1h-1zM18 29h1v1h-1zM18 54h1v1h-1zM18 73h1v1h-1zM18 86h1v1h-1zM18 88h1v2h-1zM18 131h1v1h-1zM18 135h1v1h-1zM18 140h1v1h-1zM18 146h1v1h-1zM18 165h1v1h-1zM18 214h1v1h-1zM18 217h1v1h-1zM18 226h1v1h-1zM18 230h1v1h-1zM19 108h1v1h-1zM19 112h1v1h-1zM19 118h1v1h-1zM19 142h1v1h-1zM20 21h1v1h-1zM20 76h1v1h-1zM20 84h1v1h-1zM20 100h1v1h-1zM20 127h1v1h-1zM20 146h1v1h-1zM20 171h1v1h-1zM21 6h1v1h-1zM21 51h1v1h-1zM21 64h1v1h-1zM21 98h1v1h-1zM21 115h1v1h-1zM21 194h1v1h-1zM21 206h1v1h-1zM22 9h1v1h-1zM22 48h1v1h-1zM22 61h1v1h-1zM22 78h1v1h-1zM22 83h1v1h-1zM22 86h1v1h-1zM22 111h1v1h-1zM22 122h1v1h-1zM22 136h1v1h-1zM22 156h1v1h-1zM22 162h1v1h-1zM22 179h1v1h-1zM23 1h1v1h-1zM23 5h1v1h-1zM23 13h1v1h-1zM23 17h1v1h-1zM23 23h1v1h-1zM23 29h1v1h-1zM23 49h1v1h-1zM23 52h1v1h-1zM23 60h1v1h-1zM23 112h1v1h-1zM23 126h1v1h-1zM23 128h1v2h-1zM23 131h1v1h-1zM23 138h1v1h-1zM23 146h1v1h-1zM23 161h1v2h-1zM23 170h1v1h-1zM23 191h1v2h-1zM23 194h1v1h-1zM23 205h1v1h-1zM23 215h1v1h-1zM23 217h1v2h-1zM23 221h1v1h-1zM23 228h1v1h-1zM23 240h1v1h-1zM24 82h1v1h-1zM24 107h1v1h-1zM24 115h1v1h-1zM24 119h1v1h-1zM24 127h1v1h-1zM25 18h1v2h-1zM25 47h1v1h-1zM25 114h1v1h-1zM26 6h1v1h-1zM26 26h1v1h-1zM26 41h1v1h-1zM26 51h1v1h-1zM26 68h1v1h-1zM26 95h1v1h-1zM26 120h1v1h-1zM26 191h1v2h-1zM26 208h1v1h-1zM26 220h1v1h-1zM26 224h1v1h-1zM27 122h1v1h-1zM27 126h1v1h-1zM27 163h1v1h-1zM27 209h1v1h-1zM27 223h1v1h-1zM27 228h1v1h-1zM28 9h1v1h-1zM28 16h1v1h-1zM28 52h1v1h-1zM28 62h1v1h-1zM28 113h1v1h-1zM28 145h1v1h-1zM28 194h1v1h-1zM28 213h1v1h-1zM28 247h1v1h-1zM29 55h1v1h-1zM29 62h1v1h-1zM29 64h1v1h-1zM29 114h1v1h-1zM29 119h1v1h-1zM29 122h1v1h-1zM29 156h1v1h-1zM29 165h1v1h-1zM29 170h1v1h-1zM29 180h1v1h-1zM29 202h1v1h-1zM29 207h1v2h-1zM29 211h1v1h-1zM29 213h1v1h-1zM29 215h1v1h-1zM29 231h1v1h-1zM29 236h1v1h-1zM29 238h1v1h-1zM29 240h1v1h-1zM29 248h1v1h-1zM30 7h1v1h-1zM30 11h1v2h-1zM30 33h1v1h-1zM30 58h1v1h-1zM30 120h1v2h-1zM30 125h1v1h-1zM30 162h1v1h-1zM30 179h1v1h-1zM30 189h1v1h-1zM30 194h1v1h-1zM30 207h1v1h-1zM30 214h1v1h-1zM30 222h1v1h-1zM30 248h1v1h-1zM31 45h1v1h-1zM31 123h1v1h-1zM31 151h1v1h-1zM31 182h1v2h-1zM31 191h1v2h-1zM31 218h1v1h-1zM31 224h1v1h-1zM31 239h1v1h-1zM31 249h1v1h-1zM32 10h1v1h-1zM32 14h1v2h-1zM32 65h1v1h-1zM32 78h1v1h-1zM32 96h1v1h-1zM32 120h1v1h-1zM32 130h1v1h-1zM32 140h1v1h-1zM32 168h1v1h-1zM32 174h1v1h-1zM32 199h1v1h-1zM32 205h1v1h-1zM32 211h1v2h-1zM33 50h1v1h-1zM33 62h1v1h-1zM33 67h1v1h-1zM33 69h1v1h-1zM33 122h1v1h-1zM34 0h1v1h-1zM34 2h1v1h-1zM34 24h1v2h-1zM34 91h1v1h-1zM34 98h1v1h-1zM34 127h1v1h-1zM34 131h1v1h-1zM34 135h1v1h-1zM34 142h1v1h-1zM34 145h1v1h-1zM34 181h1v1h-1zM34 192h1v1h-1zM34 197h1v1h-1zM34 200h1v1h-1zM34 203h1v1h-1zM35 43h1v3h-1zM35 49h1v2h-1zM35 53h1v1h-1zM35 61h1v1h-1zM35 64h1v1h-1zM35 79h1v1h-1zM35 86h1v1h-1zM35 88h1v1h-1zM35 96h1v2h-1zM35 104h1v1h-1zM35 107h1v1h-1zM35 113h1v1h-1zM35 120h1v2h-1zM35 157h1v1h-1zM35 175h1v1h-1zM35 197h1v1h-1zM35 216h1v1h-1zM35 242h1v1h-1zM36 43h1v1h-1zM36 51h1v1h-1zM36 81h1v2h-1zM36 100h1v1h-1zM36 102h1v1h-1zM36 106h1v1h-1zM36 110h1v1h-1zM36 119h1v1h-1zM36 155h1v1h-1zM36 183h1v1h-1zM36 187h1v1h-1zM36 197h1v2h-1zM36 216h1v1h-1zM36 231h1v1h-1zM36 237h1v1h-1zM36 244h1v1h-1zM37 65h1v1h-1zM37 126h1v1h-1zM37 199h1v1h-1zM37 203h1v2h-1zM37 230h1v1h-1zM38 47h1v1h-1zM38 76h1v1h-1zM38 218h1v1h-1zM38 238h1v1h-1zM39 7h1v1h-1zM39 14h1v1h-1zM39 28h1v1h-1zM39 31h1v1h-1zM39 45h1v1h-1zM39 54h1v1h-1zM39 69h1v1h-1zM39 79h1v1h-1zM39 84h1v1h-1zM39 87h1v1h-1zM39 96h1v1h-1zM39 98h1v1h-1zM39 142h1v1h-1zM39 144h1v1h-1zM39 166h1v2h-1zM39 181h1v1h-1zM39 191h1v1h-1zM39 237h1v1h-1zM40 0h1v1h-1zM40 4h1v1h-1zM40 14h1v1h-1zM40 18h1v1h-1zM40 41h1v1h-1zM40 70h1v1h-1zM40 79h1v1h-1zM40 82h1v1h-1zM40 101h1v1h-1zM40 104h1v1h-1zM40 113h1v1h-1zM40 123h1v1h-1zM40 142h1v1h-1zM40 144h1v1h-1zM40 192h1v1h-1zM40 208h1v1h-1zM40 215h1v1h-1zM40 230h1v1h-1zM40 244h1v1h-1zM41 63h1v1h-1zM41 131h1v1h-1zM41 137h1v1h-1zM41 145h1v1h-1zM41 151h1v1h-1zM41 161h1v1h-1zM41 169h1v1h-1zM41 217h1v1h-1zM41 229h1v1h-1zM42 56h1v1h-1zM42 67h1v1h-1zM42 75h1v1h-1zM42 81h1v1h-1zM42 97h1v1h-1zM42 118h1v1h-1zM42 122h1v1h-1zM42 169h1v1h-1zM42 171h1v1h-1zM42 214h1v1h-1zM42 242h1v1h-1zM43 47h1v1h-1zM43 60h1v1h-1zM43 63h1v1h-1zM43 67h1v1h-1zM43 70h1v1h-1zM43 89h1v1h-1zM43 103h1v1h-1zM43 164h1v1h-1zM43 195h1v1h-1zM43 207h1v2h-1zM43 239h1v1h-1zM44 63h1v1h-1zM44 68h1v2h-1zM44 82h1v1h-1zM44 89h1v1h-1zM44 94h1v1h-1zM44 96h1v1h-1zM44 101h1v1h-1zM44 142h1v1h-1zM44 159h1v1h-1zM44 175h1v1h-1zM44 189h1v1h-1zM44 201h1v1h-1zM44 211h1v1h-1zM44 223h1v1h-1zM44 248h1v1h-1zM45 73h1v2h-1zM45 95h1v1h-1zM45 101h1v1h-1zM45 104h1v1h-1zM45 106h1v1h-1zM45 117h1v1h-1zM45 119h1v1h-1zM45 121h1v1h-1zM45 124h1v1h-1zM45 185h1v1h-1zM45 191h1v1h-1zM45 219h1v1h-1zM45 231h1v1h-1zM45 235h1v1h-1zM46 7h1v1h-1zM46 50h1v1h-1zM46 56h1v1h-1zM46 67h1v1h-1zM46 71h1v1h-1zM46 73h1v1h-1zM46 82h1v1h-1zM46 145h1v1h-1zM46 194h1v2h-1zM46 205h1v1h-1zM46 210h1v1h-1zM46 213h1v1h-1zM46 233h1v1h-1zM46 238h1v1h-1zM47 7h1v1h-1zM47 25h1v2h-1zM47 42h1v1h-1zM47 45h1v1h-1zM47 63h1v1h-1zM47 66h1v1h-1zM47 76h1v1h-1zM47 83h1v2h-1zM47 108h1v1h-1zM47 132h1v1h-1zM47 197h1v1h-1zM47 238h1v1h-1zM47 242h1v1h-1zM48 63h1v1h-1zM48 67h1v1h-1zM48 82h1v2h-1zM48 154h1v1h-1zM48 174h1v1h-1zM48 205h1v2h-1zM48 237h1v1h-1zM49 28h1v2h-1zM49 40h1v1h-1zM49 42h1v1h-1zM49 55h1v1h-1zM49 62h1v2h-1zM49 68h1v1h-1zM49 106h1v1h-1zM49 110h1v1h-1zM49 125h1v1h-1zM49 136h1v1h-1zM49 143h1v1h-1zM49 145h1v1h-1zM49 151h1v1h-1zM49 154h1v1h-1zM49 159h1v1h-1zM49 163h1v1h-1zM49 171h1v1h-1zM49 223h1v1h-1zM49 240h1v1h-1zM49 243h1v1h-1zM49 248h1v1h-1z"/><path fill="#2c748e" d="M0 87h1v1h-1zM0 120h1v1h-1zM1 61h1v1h-1zM1 121h1v1h-1zM1 144h1v1h-1zM1 197h1v1h-1zM3 52h1v1h-1zM3 145h1v1h-1zM3 150h1v1h-1zM4 3h1v1h-1zM4 21h1v1h-1zM4 25h1v1h-1zM4 29h1v1h-1zM4 33h1v1h-1zM4 36h1v1h-1zM4 48h1v1h-1zM4 53h1v1h-1zM4 67h1v1h-1zM4 77h1v1h-1zM4 89h1v1h-1zM4 96h1v1h-1zM4 117h1v1h-1zM4 121h1v1h-1zM4 123h1v1h-1zM4 136h1v1h-1zM4 164h1v1h-1zM4 172h1v1h-1zM4 184h1v1h-1zM4 190h1v2h-1zM4 196h1v1h-1zM4 209h1v1h-1zM4 213h1v2h-1zM4 222h1v1h-1zM4 224h1v1h-1zM4 238h1v1h-1zM5 120h1v1h-1zM5 125h1v1h-1zM5 132h1v1h-1zM5 143h1v1h-1zM5 183h1v1h-1zM5 205h1v1h-1zM5 208h1v1h-1zM5 215h1v1h-1zM5 229h1v1h-1zM5 246h1v1h-1zM5 248h1v1h-1zM6 0h1v1h-1zM6 21h1v2h-1zM6 25h1v1h-1zM6 32h1v1h-1zM6 35h1v2h-1zM6 48h1v1h-1zM6 62h1v1h-1zM6 67h1v1h-1zM6 133h1v1h-1zM6 153h1v1h-1zM6 160h1v1h-1zM6 177h1v1h-1zM6 191h1v1h-1zM6 226h1v1h-1zM6 240h1v1h-1zM7 93h1v1h-1zM7 115h1v1h-1zM7 120h1v1h-1zM7 141h1v1h-1zM7 146h1v1h-1zM7 155h1v1h-1zM7 172h1v1h-1zM7 179h1v1h-1zM7 182h1v1h-1zM7 196h1v1h-1zM7 239h1v1h-1zM8 12h1v1h-1zM8 14h1v1h-1zM8 31h1v1h-1zM8 55h1v1h-1zM8 60h1v1h-1zM8 62h1v1h-1zM8 113h1v1h-1zM8 115h1v1h-1zM8 129h1v1h-1zM8 142h1v1h-1zM8 160h1v1h-1zM8 166h1v1h-1zM8 186h1v1h-1zM8 188h1v1h-1zM8 229h1v1h-1zM8 238h1v1h-1zM9 112h1v1h-1zM9 142h1v1h-1zM9 154h1v1h-1zM9 182h1v1h-1zM9 195h1v1h-1zM9 202h1v2h-1zM10 116h1v1h-1zM10 120h1v1h-1zM10 142h1v1h-1zM10 147h1v1h-1zM10 156h1v1h-1zM10 160h1v1h-1zM10 166h1v1h-1zM10 168h1v1h-1zM10 197h1v1h-1zM11 3h1v1h-1zM11 7h1v1h-1zM11 12h1v2h-1zM11 24h1v1h-1zM11 26h1v2h-1zM11 30h1v1h-1zM11 74h1v1h-1zM11 78h1v1h-1zM11 120h1v1h-1zM11 156h1v1h-1zM12 109h1v1h-1zM12 125h1v1h-1zM12 127h1v1h-1zM12 140h1v1h-1zM12 156h1v1h-1zM12 177h1v1h-1zM12 186h1v1h-1zM12 191h1v1h-1zM12 202h1v1h-1zM12 204h1v1h-1zM13 50h1v1h-1zM13 62h1v1h-1zM13 92h1v1h-1zM13 95h1v1h-1zM13 159h1v1h-1zM13 163h1v1h-1zM13 180h1v1h-1zM13 182h1v1h-1zM13 184h1v1h-1zM13 207h1v1h-1zM13 213h1v1h-1zM13 227h1v1h-1zM13 241h1v1h-1zM13 247h1v1h-1zM14 20h1v1h-1zM14 41h1v2h-1zM14 46h1v1h-1zM14 52h1v1h-1zM14 62h1v1h-1zM14 88h1v1h-1zM14 104h1v1h-1zM14 119h1v1h-1zM14 165h1v1h-1zM14 218h1v1h-1zM14 220h1v1h-1zM14 225h1v1h-1zM14 234h1v1h-1zM14 247h1v1h-1zM15 56h1v1h-1zM15 88h1v1h-1zM15 96h1v1h-1zM15 115h1v1h-1zM15 191h1v2h-1zM15 244h1v1h-1zM16 116h1v1h-1zM16 130h1v1h-1zM18 4h1v1h-1zM18 21h1v1h-1zM18 26h1v1h-1zM18 40h1v1h-1zM18 43h1v1h-1zM18 45h1v1h-1zM18 60h1v1h-1zM18 119h1v1h-1zM18 121h1v1h-1zM18 124h1v1h-1zM18 136h1v1h-1zM18 181h1v1h-1zM18 198h1v1h-1zM18 203h1v1h-1zM18 205h1v1h-1zM18 237h1v2h-1zM18 247h1v1h-1zM19 130h1v1h-1zM20 83h1v1h-1zM20 108h1v1h-1zM21 32h1v1h-1zM21 57h1v1h-1zM21 88h1v3h-1zM21 92h1v1h-1zM21 119h1v1h-1zM21 172h1v1h-1zM22 3h1v1h-1zM22 44h1v1h-1zM22 74h1v1h-1zM22 81h1v1h-1zM22 98h1v1h-1zM22 107h1v1h-1zM22 110h1v1h-1zM22 240h1v1h-1zM23 4h1v1h-1zM23 10h1v2h-1zM23 54h1v1h-1zM23 83h1v1h-1zM23 116h1v1h-1zM23 125h1v1h-1zM23 150h1v1h-1zM23 187h1v1h-1zM23 197h1v1h-1zM23 204h1v1h-1zM23 206h1v1h-1zM23 211h1v2h-1zM23 247h1v1h-1zM24 77h1v1h-1zM24 80h1v1h-1zM24 98h1v1h-1zM24 113h1v1h-1zM25 14h1v1h-1zM25 24h1v1h-1zM25 31h1v1h-1zM25 112h1v1h-1zM25 117h1v1h-1zM26 25h1v1h-1zM26 58h1v2h-1zM26 64h1v1h-1zM26 71h1v1h-1zM26 78h1v1h-1zM26 106h1v1h-1zM26 140h1v2h-1zM26 174h1v1h-1zM26 188h1v1h-1zM26 197h1v1h-1zM26 221h1v1h-1zM26 230h1v1h-1zM26 232h1v1h-1zM26 236h1v1h-1zM27 77h1v1h-1zM27 105h1v2h-1zM27 119h1v1h-1zM27 208h1v1h-1zM27 212h1v1h-1zM28 24h1v1h-1zM28 27h1v1h-1zM28 118h1v1h-1zM29 45h1v1h-1zM29 48h1v1h-1zM29 51h1v1h-1zM29 71h1v1h-1zM29 77h1v1h-1zM29 79h1v1h-1zM29 115h1v1h-1zM29 127h1v1h-1zM29 130h1v1h-1zM29 164h1v1h-1zM29 188h1v1h-1zM29 196h1v1h-1zM29 214h1v1h-1zM29 217h1v1h-1zM29 219h1v1h-1zM29 221h1v1h-1zM29 224h1v1h-1zM29 241h1v1h-1zM30 31h1v1h-1zM30 42h1v1h-1zM30 44h1v1h-1zM30 46h1v1h-1zM30 48h1v1h-1zM30 64h1v1h-1zM30 66h1v1h-1zM30 84h1v2h-1zM30 96h1v1h-1zM30 153h1v1h-1zM30 195h1v1h-1zM30 203h1v1h-1zM30 228h1v2h-1zM30 234h1v1h-1zM30 236h1v1h-1zM30 239h1v1h-1zM31 60h1v1h-1zM31 63h1v1h-1zM31 80h1v1h-1zM31 85h1v1h-1zM31 108h1v2h-1zM31 121h1v1h-1zM31 143h1v1h-1zM31 197h1v1h-1zM31 208h1v1h-1zM31 226h1v1h-1zM31 229h1v1h-1zM31 232h1v1h-1zM31 238h1v1h-1zM31 246h1v1h-1zM32 4h1v1h-1zM32 21h1v1h-1zM32 26h1v1h-1zM32 28h1v1h-1zM32 41h1v1h-1zM32 56h1v1h-1zM32 101h1v1h-1zM32 113h1v1h-1zM32 119h1v1h-1zM32 135h1v1h-1zM32 143h1v1h-1zM32 184h1v1h-1zM32 196h1v1h-1zM32 216h1v1h-1zM32 233h1v1h-1zM32 236h1v1h-1zM33 48h1v1h-1zM33 51h1v1h-1zM33 88h1v1h-1zM33 95h1v1h-1zM33 104h1v1h-1zM34 11h1v1h-1zM34 59h1v1h-1zM34 78h1v1h-1zM34 87h1v1h-1zM34 96h1v2h-1zM34 106h1v1h-1zM34 111h1v1h-1zM34 148h1v1h-1zM34 151h1v1h-1zM34 154h1v1h-1zM34 167h1v1h-1zM34 173h1v1h-1zM34 176h1v1h-1zM34 189h1v1h-1zM34 201h1v1h-1zM34 205h1v1h-1zM34 207h1v1h-1zM34 215h1v1h-1zM34 218h1v1h-1zM34 220h1v1h-1zM35 48h1v1h-1zM35 51h1v1h-1zM35 62h1v1h-1zM35 66h1v1h-1zM35 117h1v1h-1zM35 155h1v1h-1zM35 159h1v1h-1zM35 171h1v1h-1zM35 193h1v1h-1zM35 200h1v1h-1zM35 240h1v1h-1zM35 249h1v1h-1zM36 34h1v1h-1zM36 86h1v1h-1zM36 107h1v1h-1zM36 109h1v1h-1zM36 120h1v1h-1zM36 125h1v1h-1zM36 191h1v1h-1zM36 206h1v1h-1zM36 210h1v1h-1zM36 224h1v1h-1zM36 239h1v1h-1zM37 68h1v1h-1zM37 83h1v1h-1zM37 112h1v1h-1zM37 206h1v1h-1zM37 219h1v1h-1zM37 225h1v1h-1zM37 229h1v1h-1zM37 240h1v1h-1zM38 5h1v1h-1zM38 42h1v1h-1zM38 44h1v1h-1zM38 65h1v1h-1zM38 67h1v1h-1zM38 85h1v1h-1zM38 91h1v1h-1zM38 207h1v1h-1zM38 225h1v1h-1zM39 18h1v1h-1zM39 29h1v1h-1zM39 41h1v1h-1zM39 77h1v1h-1zM39 80h1v1h-1zM39 86h1v1h-1zM39 97h1v1h-1zM39 103h1v1h-1zM39 108h1v1h-1zM39 111h1v1h-1zM39 114h1v1h-1zM39 140h1v1h-1zM39 150h1v1h-1zM39 160h1v1h-1zM39 217h1v1h-1zM39 228h1v1h-1zM39 241h1v1h-1zM39 243h1v1h-1zM40 6h1v1h-1zM40 12h1v1h-1zM40 24h1v1h-1zM40 29h1v1h-1zM40 105h1v1h-1zM40 117h1v1h-1zM40 121h1v1h-1zM40 162h1v1h-1zM40 189h1v1h-1zM40 220h1v1h-1zM40 223h1v1h-1zM40 226h1v2h-1zM40 246h1v1h-1zM40 249h1v1h-1zM41 176h1v1h-1zM41 184h1v1h-1zM41 195h1v2h-1zM41 206h1v1h-1zM41 223h1v1h-1zM41 245h1v1h-1zM42 72h1v1h-1zM42 78h1v1h-1zM42 85h1v1h-1zM42 102h1v1h-1zM42 108h1v1h-1zM42 114h1v1h-1zM42 133h1v1h-1zM42 144h1v1h-1zM42 154h1v1h-1zM43 36h1v1h-1zM43 42h1v1h-1zM43 54h1v1h-1zM43 81h1v1h-1zM43 97h1v1h-1zM43 105h1v1h-1zM43 115h1v1h-1zM43 121h1v1h-1zM43 187h1v1h-1zM43 189h1v1h-1zM43 192h1v1h-1zM43 241h1v1h-1zM43 244h1v1h-1zM44 44h1v1h-1zM44 57h1v1h-1zM44 60h1v1h-1zM44 70h1v1h-1zM44 73h1v2h-1zM44 83h1v1h-1zM44 113h1v3h-1zM44 126h1v1h-1zM44 145h1v1h-1zM44 153h1v1h-1zM44 198h1v1h-1zM44 222h1v1h-1zM44 226h1v1h-1zM44 243h1v1h-1zM45 80h1v1h-1zM45 85h1v1h-1zM45 91h1v1h-1zM45 158h1v1h-1zM45 166h1v1h-1zM45 197h1v2h-1zM45 205h1v1h-1zM45 232h1v1h-1zM45 238h1v1h-1zM45 247h1v1h-1zM46 89h1v1h-1zM46 101h1v1h-1zM46 113h1v1h-1zM46 120h1v2h-1zM46 162h1v1h-1zM46 206h1v1h-1zM46 221h1v1h-1zM46 226h1v1h-1zM46 247h1v1h-1zM47 8h1v1h-1zM47 60h1v1h-1zM47 70h1v1h-1zM47 73h1v1h-1zM47 99h1v1h-1zM47 107h1v1h-1zM47 133h1v1h-1zM47 193h1v1h-1zM47 225h1v1h-1zM47 243h1v1h-1zM48 81h1v1h-1zM48 91h1v1h-1zM48 122h1v1h-1zM48 208h1v1h-1zM48 217h1v1h-1zM48 223h1v1h-1zM48 225h1v1h-1zM48 228h1v1h-1zM49 5h1v1h-1zM49 23h1v1h-1zM49 39h1v1h-1zM49 46h1v1h-1zM49 52h1v1h-1zM49 54h1v1h-1zM49 56h1v1h-1zM49 66h1v1h-1zM49 75h1v1h-1zM49 78h1v1h-1zM49 87h1v2h-1zM49 100h1v1h-1zM49 103h1v2h-1zM49 108h1v1h-1zM49 141h1v1h-1zM49 153h1v1h-1zM49 160h1v1h-1zM49 172h1v1h-1zM49 191h1v1h-1zM49 198h1v1h-1zM49 208h1v1h-1zM49 242h1v1h-1zM49 245h1v2h-1z"/><path fill="#297b8e" d="M0 143h1v1h-1zM0 147h1v1h-1zM1 17h1v1h-1zM1 19h1v1h-1zM1 53h1v1h-1zM1 55h1v1h-1zM1 59h1v1h-1zM4 5h1v1h-1zM4 35h1v1h-1zM4 46h1v1h-1zM4 111h1v1h-1zM4 127h1v1h-1zM4 154h1v1h-1zM4 168h1v1h-1zM4 174h1v1h-1zM4 185h1v1h-1zM4 202h1v1h-1zM4 211h1v1h-1zM4 228h1v1h-1zM4 230h1v1h-1zM4 232h1v1h-1zM4 241h1v1h-1zM5 111h1v1h-1zM5 136h1v1h-1zM5 146h1v1h-1zM5 154h1v1h-1zM5 156h1v1h-1zM5 171h1v1h-1zM5 176h1v1h-1zM5 199h1v2h-1zM5 203h1v1h-1zM5 213h1v1h-1zM5 218h1v1h-1zM5 220h1v1h-1zM5 225h1v1h-1zM5 234h1v1h-1zM5 245h1v1h-1zM6 1h1v1h-1zM6 7h1v1h-1zM6 12h1v1h-1zM6 19h1v1h-1zM6 34h1v1h-1zM6 80h1v1h-1zM6 96h1v2h-1zM6 115h1v1h-1zM6 227h1v1h-1zM7 84h1v1h-1zM7 108h1v1h-1zM7 124h1v2h-1zM7 132h1v1h-1zM7 135h1v1h-1zM7 151h1v1h-1zM7 198h1v2h-1zM7 205h1v1h-1zM7 243h1v1h-1zM8 48h1v1h-1zM8 50h1v1h-1zM8 97h1v1h-1zM8 123h1v1h-1zM8 136h1v1h-1zM8 148h1v1h-1zM8 158h1v1h-1zM8 173h1v1h-1zM8 175h1v1h-1zM8 197h1v2h-1zM8 205h1v1h-1zM8 243h1v2h-1zM8 248h1v1h-1zM9 111h1v1h-1zM9 113h1v1h-1zM9 115h1v3h-1zM9 122h1v1h-1zM9 179h1v1h-1zM10 123h1v1h-1zM10 126h1v1h-1zM10 132h1v1h-1zM10 143h1v1h-1zM10 162h1v1h-1zM10 165h1v1h-1zM10 181h1v1h-1zM10 199h1v1h-1zM11 1h1v1h-1zM11 19h1v1h-1zM11 28h1v1h-1zM11 32h1v1h-1zM11 37h1v1h-1zM11 48h1v1h-1zM11 51h1v1h-1zM11 54h1v1h-1zM11 90h1v1h-1zM11 105h1v1h-1zM11 109h1v1h-1zM11 137h1v1h-1zM11 155h1v1h-1zM11 160h1v1h-1zM11 165h1v1h-1zM11 171h1v2h-1zM11 198h1v1h-1zM11 220h1v1h-1zM11 235h1v1h-1zM11 237h1v1h-1zM12 122h1v1h-1zM12 157h1v1h-1zM12 159h1v1h-1zM12 162h1v1h-1zM12 183h1v1h-1zM13 1h1v1h-1zM13 17h1v1h-1zM13 44h1v1h-1zM13 57h1v1h-1zM13 110h1v1h-1zM13 118h1v1h-1zM13 121h1v1h-1zM13 133h1v1h-1zM13 152h1v1h-1zM13 161h1v1h-1zM13 164h1v1h-1zM13 168h1v1h-1zM13 172h1v1h-1zM13 187h1v1h-1zM13 192h1v1h-1zM13 199h1v1h-1zM13 214h1v1h-1zM13 218h1v1h-1zM13 223h1v1h-1zM13 226h1v1h-1zM13 245h1v1h-1zM14 2h1v1h-1zM14 16h1v1h-1zM14 19h1v1h-1zM14 49h1v1h-1zM14 51h1v1h-1zM14 58h1v1h-1zM14 84h1v1h-1zM14 157h1v1h-1zM14 169h1v1h-1zM14 178h1v1h-1zM14 184h1v1h-1zM14 206h1v1h-1zM14 227h1v1h-1zM14 237h1v1h-1zM14 246h1v1h-1zM14 248h1v1h-1zM15 50h1v1h-1zM15 79h1v1h-1zM15 84h1v1h-1zM15 93h1v1h-1zM15 102h1v1h-1zM15 112h1v1h-1zM15 201h1v1h-1zM15 207h1v2h-1zM16 115h1v1h-1zM17 120h1v1h-1zM17 124h1v1h-1zM17 128h1v1h-1zM18 3h1v1h-1zM18 31h1v1h-1zM18 39h1v1h-1zM18 74h1v1h-1zM18 83h1v1h-1zM18 111h1v1h-1zM18 132h1v2h-1zM18 157h1v2h-1zM18 160h1v1h-1zM18 182h1v1h-1zM18 189h1v2h-1zM18 193h1v1h-1zM18 208h1v1h-1zM18 220h1v1h-1zM18 231h1v1h-1zM19 126h1v1h-1zM20 53h1v1h-1zM20 96h1v1h-1zM20 103h1v1h-1zM20 123h1v1h-1zM21 54h1v1h-1zM21 83h1v1h-1zM21 114h1v1h-1zM21 123h1v1h-1zM21 166h1v1h-1zM22 17h1v1h-1zM22 56h1v1h-1zM22 66h1v1h-1zM22 75h1v1h-1zM22 89h1v3h-1zM22 93h1v1h-1zM22 95h1v2h-1zM22 124h1v2h-1zM22 223h1v1h-1zM23 16h1v1h-1zM23 19h1v1h-1zM23 22h1v1h-1zM23 37h1v1h-1zM23 55h1v1h-1zM23 119h1v1h-1zM23 143h1v1h-1zM23 189h1v1h-1zM23 193h1v1h-1zM23 198h1v1h-1zM23 210h1v1h-1zM23 214h1v1h-1zM23 231h1v1h-1zM23 245h1v1h-1zM24 101h1v1h-1zM24 111h1v1h-1zM24 114h1v1h-1zM24 117h1v1h-1zM25 1h1v1h-1zM25 10h1v1h-1zM25 40h1v1h-1zM25 45h1v1h-1zM25 53h1v1h-1zM25 60h1v2h-1zM25 65h1v1h-1zM25 71h1v1h-1zM25 115h1v1h-1zM25 119h1v2h-1zM26 1h1v1h-1zM26 49h1v1h-1zM26 107h1v1h-1zM26 136h1v1h-1zM26 200h1v1h-1zM26 206h1v1h-1zM26 239h1v1h-1zM27 70h1v1h-1zM27 79h1v1h-1zM27 107h1v1h-1zM27 109h1v1h-1zM27 200h1v1h-1zM27 203h1v1h-1zM27 231h1v1h-1zM28 10h1v1h-1zM28 22h1v1h-1zM28 44h1v1h-1zM28 51h1v1h-1zM28 64h1v1h-1zM28 71h1v1h-1zM28 108h1v1h-1zM28 116h1v1h-1zM28 123h1v1h-1zM29 43h1v1h-1zM29 50h1v1h-1zM29 60h1v1h-1zM29 66h1v1h-1zM29 75h1v1h-1zM29 84h1v1h-1zM29 97h1v1h-1zM29 103h1v1h-1zM29 121h1v1h-1zM29 125h1v1h-1zM29 136h1v1h-1zM29 163h1v1h-1zM29 174h1v1h-1zM29 194h1v1h-1zM29 199h1v1h-1zM29 226h1v1h-1zM29 229h1v1h-1zM30 3h1v1h-1zM30 21h1v1h-1zM30 34h1v1h-1zM30 80h1v1h-1zM30 92h1v1h-1zM30 103h1v1h-1zM30 119h1v1h-1zM30 188h1v1h-1zM30 193h1v1h-1zM30 209h1v1h-1zM30 237h1v1h-1zM31 47h1v1h-1zM31 58h1v1h-1zM31 64h1v1h-1zM31 107h1v1h-1zM31 125h1v1h-1zM31 188h1v1h-1zM31 193h1v2h-1zM31 198h1v1h-1zM31 200h1v1h-1zM31 209h1v1h-1zM31 213h1v1h-1zM31 216h1v2h-1zM31 227h1v1h-1zM31 233h1v2h-1zM31 237h1v1h-1zM32 11h1v1h-1zM32 17h1v1h-1zM32 33h1v1h-1zM32 39h1v1h-1zM32 86h1v1h-1zM32 95h1v1h-1zM32 97h1v1h-1zM32 106h1v1h-1zM32 110h1v1h-1zM32 121h1v1h-1zM32 176h1v1h-1zM32 193h1v1h-1zM32 210h1v1h-1zM32 214h1v1h-1zM32 225h1v1h-1zM32 235h1v1h-1zM32 237h1v2h-1zM33 42h1v1h-1zM33 70h1v1h-1zM33 94h1v1h-1zM33 191h1v1h-1zM34 22h1v2h-1zM34 26h1v3h-1zM34 31h1v1h-1zM34 42h1v1h-1zM34 67h1v1h-1zM34 89h1v1h-1zM34 115h1v1h-1zM34 126h1v1h-1zM34 128h1v1h-1zM34 133h1v1h-1zM34 139h1v1h-1zM34 146h1v1h-1zM34 198h1v1h-1zM34 213h1v1h-1zM34 234h1v1h-1zM34 241h1v1h-1zM35 56h1v1h-1zM35 72h1v1h-1zM35 82h1v1h-1zM35 100h1v1h-1zM35 123h1v1h-1zM35 195h1v2h-1zM35 202h1v1h-1zM35 221h1v1h-1zM35 233h1v1h-1zM35 235h1v1h-1zM36 0h1v1h-1zM36 54h1v1h-1zM36 60h1v1h-1zM36 70h1v1h-1zM36 88h1v1h-1zM36 95h1v2h-1zM36 113h1v1h-1zM36 115h1v2h-1zM36 189h1v2h-1zM36 194h1v1h-1zM36 200h1v1h-1zM36 209h1v1h-1zM37 54h1v1h-1zM37 62h1v1h-1zM37 72h1v1h-1zM37 87h1v1h-1zM37 113h1v1h-1zM37 125h1v1h-1zM37 193h1v1h-1zM37 214h1v1h-1zM37 216h1v1h-1zM37 242h1v1h-1zM38 49h1v1h-1zM38 61h1v2h-1zM38 83h1v1h-1zM38 107h1v1h-1zM38 198h1v1h-1zM38 200h1v1h-1zM38 208h1v1h-1zM38 223h1v1h-1zM39 20h1v1h-1zM39 62h1v1h-1zM39 64h1v1h-1zM39 113h1v1h-1zM39 117h1v1h-1zM39 120h1v1h-1zM39 122h1v1h-1zM39 130h1v1h-1zM39 137h1v1h-1zM39 145h1v1h-1zM39 182h1v1h-1zM39 188h1v1h-1zM39 192h1v2h-1zM39 200h1v1h-1zM39 212h1v1h-1zM39 221h1v1h-1zM39 236h1v1h-1zM40 39h1v2h-1zM40 45h1v1h-1zM40 106h1v1h-1zM40 111h1v1h-1zM40 126h1v1h-1zM40 152h1v1h-1zM40 186h1v1h-1zM40 195h1v1h-1zM40 197h1v1h-1zM40 201h1v1h-1zM40 206h1v1h-1zM40 221h1v1h-1zM40 240h1v2h-1zM41 142h1v1h-1zM41 156h1v1h-1zM41 158h1v1h-1zM41 166h1v1h-1zM41 185h1v1h-1zM41 212h1v1h-1zM41 221h1v1h-1zM41 240h1v1h-1zM42 64h1v1h-1zM42 76h1v1h-1zM42 98h1v1h-1zM42 138h1v1h-1zM42 146h1v1h-1zM42 167h1v1h-1zM42 186h1v1h-1zM42 194h1v1h-1zM42 199h1v1h-1zM42 205h1v1h-1zM42 215h1v1h-1zM42 217h1v1h-1zM42 229h1v2h-1zM42 232h1v1h-1zM42 238h1v1h-1zM43 55h1v1h-1zM43 80h1v1h-1zM43 87h1v1h-1zM43 90h1v1h-1zM43 96h1v1h-1zM43 101h1v1h-1zM43 161h1v1h-1zM43 191h1v1h-1zM43 199h1v3h-1zM43 203h1v1h-1zM43 209h1v1h-1zM43 217h1v1h-1zM43 221h1v1h-1zM43 245h1v1h-1zM44 67h1v1h-1zM44 92h1v1h-1zM44 108h1v1h-1zM44 128h1v1h-1zM44 136h1v1h-1zM44 151h1v1h-1zM44 193h1v1h-1zM44 205h1v1h-1zM44 213h1v2h-1zM44 244h1v1h-1zM45 127h1v1h-1zM45 146h1v1h-1zM45 156h1v1h-1zM45 183h1v2h-1zM45 203h1v1h-1zM45 245h1v1h-1zM46 62h1v1h-1zM46 69h1v1h-1zM46 96h1v2h-1zM46 187h1v1h-1zM46 198h1v1h-1zM46 203h1v1h-1zM46 217h1v2h-1zM47 9h1v1h-1zM47 35h1v1h-1zM47 43h1v1h-1zM47 59h1v1h-1zM47 61h1v1h-1zM47 87h1v1h-1zM47 168h1v2h-1zM47 180h1v2h-1zM47 190h1v1h-1zM47 216h1v1h-1zM47 230h1v1h-1zM47 236h1v1h-1zM47 248h1v1h-1zM48 65h1v1h-1zM48 96h1v1h-1zM48 160h1v1h-1zM48 189h1v1h-1zM48 193h1v1h-1zM48 203h1v1h-1zM48 211h1v2h-1zM49 3h1v1h-1zM49 6h1v1h-1zM49 10h1v1h-1zM49 27h1v1h-1zM49 59h1v1h-1zM49 69h1v1h-1zM49 79h1v1h-1zM49 81h1v1h-1zM49 107h1v1h-1zM49 121h1v1h-1zM49 184h1v1h-1zM49 196h1v1h-1zM49 199h1v1h-1zM49 222h1v1h-1zM49 227h1v1h-1zM49 233h1v1h-1zM49 247h1v1h-1zM49 249h1v1h-1z"/><path fill="#26818e" d="M0 59h1v1h-1zM1 125h1v1h-1zM4 1h1v1h-1zM4 13h1v1h-1zM4 34h1v1h-1zM4 39h1v1h-1zM4 41h1v1h-1zM4 51h1v2h-1zM4 87h1v1h-1zM4 93h1v1h-1zM4 120h1v1h-1zM4 129h1v1h-1zM4 169h1v1h-1zM4 177h1v1h-1zM4 212h1v1h-1zM4 225h1v2h-1zM4 245h1v1h-1zM4 248h1v1h-1zM5 58h1v1h-1zM5 122h1v1h-1zM5 131h1v1h-1zM5 133h1v1h-1zM5 138h1v1h-1zM5 151h1v1h-1zM5 155h1v1h-1zM5 184h1v1h-1zM5 195h1v1h-1zM5 197h1v1h-1zM5 210h1v1h-1zM5 214h1v1h-1zM6 3h1v1h-1zM6 15h1v1h-1zM6 24h1v1h-1zM6 29h1v1h-1zM6 64h1v1h-1zM6 83h1v1h-1zM6 88h1v1h-1zM6 109h1v2h-1zM6 112h1v1h-1zM6 136h1v1h-1zM6 168h1v1h-1zM6 178h1v1h-1zM6 184h1v1h-1zM6 189h1v1h-1zM6 194h1v2h-1zM6 229h1v1h-1zM6 236h1v1h-1zM7 131h1v1h-1zM7 140h1v1h-1zM7 150h1v1h-1zM7 175h1v1h-1zM7 194h1v1h-1zM7 212h1v1h-1zM7 236h1v1h-1zM8 21h1v1h-1zM8 57h1v1h-1zM8 108h1v1h-1zM8 127h1v1h-1zM8 131h1v1h-1zM8 140h1v1h-1zM8 153h1v1h-1zM8 157h1v1h-1zM8 171h1v1h-1zM8 202h1v1h-1zM8 208h1v1h-1zM8 211h1v1h-1zM8 228h1v1h-1zM8 242h1v1h-1zM8 245h1v2h-1zM9 144h1v1h-1zM9 194h1v1h-1zM10 109h1v1h-1zM10 119h1v1h-1zM10 150h1v1h-1zM10 157h1v1h-1zM10 171h1v1h-1zM10 194h1v1h-1zM10 201h1v1h-1zM11 2h1v1h-1zM11 4h1v2h-1zM11 25h1v1h-1zM11 34h1v1h-1zM11 38h1v1h-1zM11 47h1v1h-1zM11 73h1v1h-1zM11 115h1v1h-1zM11 150h1v1h-1zM11 168h1v1h-1zM11 207h1v1h-1zM11 210h1v1h-1zM11 217h1v1h-1zM11 232h1v2h-1zM11 248h1v1h-1zM12 114h1v1h-1zM12 118h1v1h-1zM12 132h1v1h-1zM12 137h1v1h-1zM12 141h1v2h-1zM13 8h1v1h-1zM13 12h1v1h-1zM13 119h1v1h-1zM13 134h1v1h-1zM13 141h1v1h-1zM13 146h1v1h-1zM13 151h1v1h-1zM13 155h1v1h-1zM13 157h1v1h-1zM13 174h1v1h-1zM13 183h1v1h-1zM13 208h1v1h-1zM13 210h1v1h-1zM13 224h1v1h-1zM13 229h1v1h-1zM13 248h1v1h-1zM14 3h1v1h-1zM14 7h1v1h-1zM14 50h1v1h-1zM14 63h1v2h-1zM14 110h1v2h-1zM14 125h1v1h-1zM14 166h1v1h-1zM14 170h1v1h-1zM14 182h1v1h-1zM14 232h1v1h-1zM14 241h1v1h-1zM15 90h1v1h-1zM15 118h1v1h-1zM15 124h1v1h-1zM16 120h1v1h-1zM16 129h1v1h-1zM17 117h1v1h-1zM18 20h1v1h-1zM18 22h1v1h-1zM18 32h1v1h-1zM18 44h1v1h-1zM18 59h1v1h-1zM18 96h1v1h-1zM18 129h1v1h-1zM18 143h1v1h-1zM18 154h1v1h-1zM18 194h1v1h-1zM18 199h1v1h-1zM18 202h1v1h-1zM18 212h1v1h-1zM18 216h1v1h-1zM18 219h1v1h-1zM18 229h1v1h-1zM19 113h1v1h-1zM19 117h1v1h-1zM19 119h1v1h-1zM19 121h1v1h-1zM20 110h1v2h-1zM20 114h1v1h-1zM21 97h1v1h-1zM22 33h1v1h-1zM22 101h1v1h-1zM22 108h1v2h-1zM22 118h1v1h-1zM22 123h1v1h-1zM22 148h1v1h-1zM23 3h1v1h-1zM23 8h1v1h-1zM23 32h1v1h-1zM23 39h1v1h-1zM23 56h1v2h-1zM23 82h1v1h-1zM23 121h1v1h-1zM23 133h1v1h-1zM23 141h1v1h-1zM24 76h1v1h-1zM24 104h1v1h-1zM24 121h1v1h-1zM25 38h1v1h-1zM25 52h1v1h-1zM25 57h1v1h-1zM25 73h1v1h-1zM26 18h1v1h-1zM26 43h1v1h-1zM26 90h1v1h-1zM26 118h1v1h-1zM26 123h1v1h-1zM26 143h1v1h-1zM26 146h1v1h-1zM26 153h1v1h-1zM26 161h1v1h-1zM26 163h1v1h-1zM26 175h1v1h-1zM26 203h1v1h-1zM27 81h1v1h-1zM27 114h1v1h-1zM27 192h1v1h-1zM27 224h1v1h-1zM27 235h1v1h-1zM28 49h1v1h-1zM28 57h1v1h-1zM29 47h1v1h-1zM29 53h1v2h-1zM29 59h1v1h-1zM29 65h1v1h-1zM29 80h1v1h-1zM29 83h1v1h-1zM29 88h1v1h-1zM29 90h1v1h-1zM29 100h1v1h-1zM29 110h1v1h-1zM29 113h1v1h-1zM29 151h1v1h-1zM29 176h1v1h-1zM29 187h1v1h-1zM29 192h1v1h-1zM29 195h1v1h-1zM29 198h1v1h-1zM29 205h1v1h-1zM29 210h1v1h-1zM30 74h1v1h-1zM30 83h1v1h-1zM30 191h1v1h-1zM30 204h1v1h-1zM30 218h1v2h-1zM31 56h1v1h-1zM31 73h1v2h-1zM31 78h1v1h-1zM31 83h1v1h-1zM31 104h1v1h-1zM31 119h1v1h-1zM31 202h1v1h-1zM31 207h1v1h-1zM31 211h1v2h-1zM31 241h1v1h-1zM32 27h1v1h-1zM32 35h1v1h-1zM32 38h1v1h-1zM32 67h1v1h-1zM32 126h1v1h-1zM32 190h1v1h-1zM32 197h1v2h-1zM32 222h1v1h-1zM32 239h1v1h-1zM32 244h1v1h-1zM33 68h1v1h-1zM33 77h1v1h-1zM33 89h1v1h-1zM33 103h1v1h-1zM34 14h1v1h-1zM34 20h1v1h-1zM34 40h1v1h-1zM34 55h1v1h-1zM34 80h1v1h-1zM34 90h1v1h-1zM34 122h1v1h-1zM34 140h1v1h-1zM34 152h1v1h-1zM34 163h1v1h-1zM34 182h1v1h-1zM34 196h1v1h-1zM34 208h1v1h-1zM34 212h1v1h-1zM34 228h1v1h-1zM34 231h1v1h-1zM34 237h1v1h-1zM35 42h1v1h-1zM35 59h1v1h-1zM35 68h1v1h-1zM35 106h1v1h-1zM35 124h1v1h-1zM35 168h1v1h-1zM35 188h1v2h-1zM35 208h1v1h-1zM35 213h1v1h-1zM35 220h1v1h-1zM35 243h1v1h-1zM36 8h1v1h-1zM36 18h1v1h-1zM36 62h1v1h-1zM36 76h1v1h-1zM36 84h1v1h-1zM36 92h1v1h-1zM36 153h1v1h-1zM36 195h1v1h-1zM37 52h1v2h-1zM37 73h1v1h-1zM37 79h1v1h-1zM37 88h1v1h-1zM37 94h1v1h-1zM37 117h1v1h-1zM37 210h1v1h-1zM38 46h1v1h-1zM38 56h1v1h-1zM38 66h1v1h-1zM38 70h1v3h-1zM38 87h1v1h-1zM38 191h1v1h-1zM38 197h1v1h-1zM38 215h1v1h-1zM39 26h1v1h-1zM39 70h1v1h-1zM39 73h1v1h-1zM39 104h1v1h-1zM39 106h1v1h-1zM39 126h1v1h-1zM39 185h1v1h-1zM39 203h1v1h-1zM39 205h1v1h-1zM39 215h1v1h-1zM39 219h1v1h-1zM39 222h1v1h-1zM39 234h1v1h-1zM40 8h1v1h-1zM40 22h1v1h-1zM40 33h1v1h-1zM40 69h1v1h-1zM40 99h1v1h-1zM40 112h1v1h-1zM40 163h1v1h-1zM40 188h1v1h-1zM40 199h1v1h-1zM40 205h1v1h-1zM40 218h1v1h-1zM40 225h1v1h-1zM40 247h1v1h-1zM41 130h1v1h-1zM41 133h1v1h-1zM41 164h1v1h-1zM41 174h1v1h-1zM41 178h1v1h-1zM41 192h1v1h-1zM41 228h1v1h-1zM41 230h1v1h-1zM41 237h1v1h-1zM41 243h1v1h-1zM42 68h1v2h-1zM42 88h1v1h-1zM42 91h1v1h-1zM42 103h1v1h-1zM42 188h1v1h-1zM42 191h1v1h-1zM42 204h1v1h-1zM42 249h1v1h-1zM43 91h1v1h-1zM43 93h1v1h-1zM43 104h1v1h-1zM43 190h1v1h-1zM43 202h1v1h-1zM43 210h1v1h-1zM43 214h1v2h-1zM43 220h1v1h-1zM43 224h1v1h-1zM43 229h1v1h-1zM43 238h1v1h-1zM43 247h1v1h-1zM44 48h1v1h-1zM44 79h1v1h-1zM44 87h1v1h-1zM44 106h1v2h-1zM44 110h1v1h-1zM44 192h1v1h-1zM44 197h1v1h-1zM44 199h1v1h-1zM44 216h1v1h-1zM44 221h1v1h-1zM44 238h1v1h-1zM44 245h1v1h-1zM45 59h1v1h-1zM45 63h1v1h-1zM45 83h1v1h-1zM45 114h1v2h-1zM45 125h1v1h-1zM45 173h1v1h-1zM45 199h1v1h-1zM45 201h1v1h-1zM46 53h1v1h-1zM46 70h1v1h-1zM46 105h1v1h-1zM46 114h1v1h-1zM46 196h1v1h-1zM46 245h1v1h-1zM47 34h1v1h-1zM47 41h1v1h-1zM47 51h1v1h-1zM47 53h1v1h-1zM47 72h1v1h-1zM47 96h1v1h-1zM47 209h1v1h-1zM48 70h1v1h-1zM48 77h1v1h-1zM48 93h1v1h-1zM48 114h1v1h-1zM48 192h1v1h-1zM48 200h1v1h-1zM48 232h1v1h-1zM49 31h1v1h-1zM49 45h1v1h-1zM49 48h1v1h-1zM49 53h1v1h-1zM49 58h1v1h-1zM49 72h1v1h-1zM49 101h1v1h-1zM49 178h1v1h-1zM49 187h1v1h-1zM49 192h1v1h-1zM49 209h1v3h-1zM49 217h1v1h-1zM49 225h1v1h-1z"/><path fill="#24888e" d="M0 58h1v1h-1zM0 149h1v1h-1zM1 96h1v1h-1zM1 147h1v1h-1zM3 234h1v1h-1zM4 4h1v1h-1zM4 14h1v1h-1zM4 26h1v1h-1zM4 49h1v1h-1zM4 64h1v1h-1zM4 119h1v1h-1zM4 140h1v1h-1zM4 158h1v1h-1zM4 176h1v1h-1zM4 192h1v1h-1zM4 218h1v2h-1zM4 231h1v1h-1zM4 234h1v2h-1zM4 243h1v1h-1zM5 56h1v1h-1zM5 107h1v1h-1zM5 141h1v1h-1zM5 166h1v1h-1zM5 219h1v1h-1zM6 4h1v2h-1zM6 11h1v1h-1zM6 23h1v1h-1zM6 47h1v1h-1zM6 60h1v1h-1zM6 91h1v1h-1zM6 108h1v1h-1zM6 116h1v1h-1zM6 143h1v1h-1zM6 146h1v1h-1zM6 162h1v1h-1zM6 169h1v1h-1zM6 172h1v1h-1zM6 201h1v1h-1zM6 212h1v1h-1zM6 230h1v1h-1zM6 235h1v1h-1zM6 245h1v1h-1zM7 111h1v1h-1zM7 121h1v1h-1zM7 188h1v2h-1zM7 201h1v1h-1zM7 234h1v1h-1zM8 25h1v1h-1zM8 107h1v1h-1zM8 118h1v2h-1zM8 126h1v1h-1zM8 128h1v1h-1zM8 154h1v1h-1zM8 167h1v1h-1zM8 189h1v1h-1zM8 216h1v1h-1zM9 108h1v1h-1zM9 125h1v1h-1zM9 143h1v1h-1zM9 199h1v1h-1zM10 129h1v1h-1zM10 146h1v1h-1zM11 44h1v1h-1zM11 49h1v1h-1zM11 57h1v1h-1zM11 63h1v1h-1zM11 86h1v1h-1zM11 91h1v1h-1zM11 163h1v2h-1zM11 170h1v1h-1zM11 181h1v1h-1zM11 195h1v1h-1zM11 200h1v1h-1zM11 206h1v1h-1zM11 225h1v1h-1zM11 242h1v1h-1zM11 249h1v1h-1zM12 116h1v1h-1zM12 131h1v1h-1zM12 155h1v1h-1zM12 184h1v1h-1zM13 10h1v1h-1zM13 63h1v1h-1zM13 90h1v1h-1zM13 96h1v1h-1zM13 150h1v1h-1zM13 178h1v1h-1zM13 190h1v1h-1zM13 195h1v1h-1zM13 212h1v1h-1zM13 221h1v1h-1zM13 234h1v1h-1zM14 59h1v1h-1zM14 82h1v1h-1zM14 112h1v1h-1zM14 148h1v1h-1zM14 222h1v1h-1zM14 230h1v2h-1zM14 236h1v1h-1zM15 107h1v1h-1zM15 122h1v1h-1zM15 125h1v1h-1zM15 129h1v1h-1zM17 130h1v1h-1zM18 6h1v1h-1zM18 8h1v1h-1zM18 15h1v1h-1zM18 28h1v1h-1zM18 50h1v1h-1zM18 110h1v1h-1zM18 171h1v1h-1zM18 188h1v1h-1zM18 196h1v2h-1zM18 227h1v1h-1zM18 240h1v1h-1zM19 125h1v1h-1zM20 112h1v1h-1zM22 52h1v1h-1zM22 60h1v1h-1zM22 73h1v1h-1zM22 82h1v1h-1zM22 103h1v1h-1zM22 113h1v1h-1zM23 6h1v1h-1zM23 9h1v1h-1zM23 46h1v1h-1zM23 59h1v1h-1zM23 62h1v1h-1zM23 124h1v1h-1zM23 182h1v1h-1zM23 188h1v1h-1zM23 223h1v1h-1zM23 225h1v1h-1zM23 234h1v1h-1zM23 243h1v1h-1zM24 81h1v1h-1zM24 86h1v3h-1zM25 28h1v2h-1zM25 63h1v1h-1zM26 65h1v1h-1zM26 83h1v1h-1zM26 85h1v1h-1zM26 102h1v1h-1zM26 108h1v1h-1zM26 115h1v1h-1zM26 119h1v1h-1zM26 154h1v1h-1zM26 205h1v1h-1zM26 207h1v1h-1zM26 209h1v1h-1zM26 215h1v1h-1zM27 65h1v1h-1zM27 74h1v1h-1zM27 83h1v1h-1zM27 102h1v1h-1zM27 174h1v1h-1zM28 38h1v1h-1zM28 42h1v1h-1zM28 47h1v1h-1zM28 56h1v1h-1zM28 104h1v1h-1zM29 49h1v1h-1zM29 91h1v1h-1zM29 109h1v1h-1zM29 200h1v1h-1zM29 203h1v1h-1zM29 209h1v1h-1zM29 220h1v1h-1zM30 8h1v1h-1zM30 54h1v1h-1zM30 59h1v1h-1zM30 71h1v1h-1zM30 93h1v1h-1zM30 102h1v1h-1zM30 116h1v1h-1zM30 160h1v1h-1zM30 196h1v1h-1zM30 210h1v1h-1zM30 215h1v1h-1zM30 221h1v1h-1zM30 225h1v1h-1zM31 48h1v3h-1zM31 84h1v1h-1zM31 97h1v1h-1zM31 124h1v1h-1zM31 203h1v1h-1zM31 242h1v1h-1zM32 20h1v1h-1zM32 51h1v1h-1zM32 62h1v1h-1zM32 66h1v1h-1zM32 76h1v2h-1zM32 85h1v1h-1zM32 94h1v1h-1zM32 114h1v1h-1zM32 133h1v1h-1zM32 217h1v1h-1zM32 223h1v1h-1zM32 228h1v1h-1zM33 61h1v1h-1zM33 64h1v1h-1zM33 72h1v1h-1zM33 76h1v1h-1zM33 83h1v1h-1zM33 87h1v1h-1zM33 91h1v1h-1zM34 30h1v1h-1zM34 37h1v1h-1zM34 58h1v1h-1zM34 105h1v1h-1zM34 112h1v1h-1zM34 147h1v1h-1zM34 157h1v1h-1zM34 162h1v1h-1zM34 188h1v1h-1zM34 204h1v1h-1zM34 224h1v1h-1zM34 245h1v1h-1zM35 47h1v1h-1zM35 58h1v1h-1zM35 70h1v1h-1zM35 77h1v1h-1zM35 95h1v1h-1zM35 115h1v1h-1zM35 177h1v1h-1zM35 198h1v1h-1zM35 217h1v1h-1zM35 225h1v1h-1zM35 230h1v1h-1zM36 61h1v1h-1zM36 63h1v3h-1zM36 68h1v1h-1zM36 72h1v1h-1zM36 78h1v1h-1zM36 87h1v1h-1zM36 94h1v1h-1zM36 207h1v1h-1zM36 212h1v1h-1zM37 56h1v1h-1zM37 60h1v1h-1zM37 69h1v1h-1zM37 82h1v1h-1zM37 86h1v1h-1zM37 91h1v2h-1zM37 95h1v1h-1zM37 97h1v2h-1zM37 111h1v1h-1zM37 118h1v1h-1zM37 189h1v1h-1zM37 231h1v2h-1zM38 48h1v1h-1zM38 54h1v1h-1zM38 199h1v1h-1zM39 11h1v1h-1zM39 81h1v1h-1zM39 110h1v1h-1zM39 118h1v1h-1zM39 124h1v1h-1zM39 131h1v1h-1zM39 186h1v1h-1zM39 196h1v1h-1zM39 209h1v1h-1zM39 216h1v1h-1zM39 224h1v1h-1zM39 227h1v1h-1zM40 10h1v1h-1zM40 35h1v1h-1zM40 48h1v1h-1zM40 73h1v1h-1zM40 83h1v1h-1zM40 95h1v1h-1zM40 97h1v2h-1zM40 109h1v1h-1zM40 118h1v1h-1zM40 122h1v1h-1zM40 127h1v1h-1zM40 194h1v1h-1zM40 213h1v2h-1zM40 233h1v1h-1zM40 235h1v1h-1zM40 237h1v1h-1zM40 239h1v1h-1zM41 144h1v1h-1zM41 146h1v1h-1zM41 199h1v1h-1zM41 215h1v1h-1zM41 227h1v1h-1zM41 235h1v1h-1zM42 99h1v1h-1zM42 106h1v1h-1zM42 121h1v1h-1zM42 131h1v1h-1zM42 135h1v1h-1zM42 157h1v1h-1zM42 181h1v1h-1zM42 185h1v1h-1zM42 210h1v1h-1zM42 231h1v1h-1zM42 239h1v1h-1zM42 247h1v1h-1zM43 57h1v1h-1zM43 151h1v1h-1zM43 196h1v1h-1zM43 222h1v1h-1zM43 227h1v2h-1zM43 230h1v1h-1zM43 240h1v1h-1zM44 65h1v1h-1zM44 86h1v1h-1zM44 90h1v1h-1zM44 111h1v1h-1zM44 119h1v2h-1zM44 162h1v1h-1zM44 186h1v1h-1zM44 196h1v1h-1zM44 200h1v1h-1zM44 207h1v1h-1zM44 210h1v1h-1zM44 217h1v1h-1zM44 227h1v1h-1zM44 240h1v1h-1zM44 242h1v1h-1zM44 246h1v1h-1zM44 249h1v1h-1zM45 76h1v1h-1zM45 88h1v1h-1zM45 90h1v1h-1zM45 108h1v1h-1zM45 116h1v1h-1zM45 120h1v1h-1zM45 215h1v1h-1zM45 222h1v1h-1zM45 224h1v1h-1zM45 228h1v1h-1zM45 237h1v1h-1zM45 241h1v1h-1zM45 243h1v1h-1zM46 77h1v1h-1zM46 84h1v1h-1zM46 110h1v2h-1zM46 207h1v1h-1zM46 214h1v1h-1zM46 228h1v1h-1zM47 44h1v1h-1zM47 49h1v1h-1zM47 64h1v1h-1zM47 117h1v1h-1zM47 121h1v2h-1zM47 196h1v1h-1zM47 198h1v1h-1zM47 206h1v1h-1zM47 210h1v1h-1zM47 212h1v1h-1zM48 88h1v1h-1zM48 95h1v1h-1zM48 202h1v1h-1zM49 38h1v1h-1zM49 57h1v1h-1zM49 70h1v1h-1zM49 76h1v1h-1zM49 83h1v1h-1zM49 95h1v1h-1zM49 111h1v1h-1zM49 115h1v2h-1zM49 120h1v1h-1zM49 155h1v1h-1zM49 174h1v1h-1zM49 195h1v1h-1zM49 206h1v1h-1zM49 221h1v1h-1zM49 226h1v1h-1z"/><path fill="#228e8d" d="M2 143h1v1h-1zM4 7h1v1h-1zM4 15h1v1h-1zM4 18h1v1h-1zM4 22h1v1h-1zM4 30h1v1h-1zM4 44h1v1h-1zM4 58h1v1h-1zM4 110h1v1h-1zM4 114h1v1h-1zM4 116h1v1h-1zM4 162h1v1h-1zM4 179h1v1h-1zM5 114h1v1h-1zM5 121h1v1h-1zM5 128h1v1h-1zM5 162h1v1h-1zM5 173h1v1h-1zM5 201h1v1h-1zM5 223h1v1h-1zM5 235h1v1h-1zM6 18h1v1h-1zM6 26h1v1h-1zM6 44h1v2h-1zM6 50h1v1h-1zM6 57h1v1h-1zM6 61h1v1h-1zM6 92h1v1h-1zM6 117h1v1h-1zM6 121h1v1h-1zM6 147h1v1h-1zM6 167h1v1h-1zM6 211h1v1h-1zM6 216h1v1h-1zM7 113h1v1h-1zM7 139h1v1h-1zM7 206h1v1h-1zM8 87h1v1h-1zM8 92h1v1h-1zM8 110h1v1h-1zM8 114h1v1h-1zM8 121h1v1h-1zM8 151h1v1h-1zM8 163h1v1h-1zM8 182h1v1h-1zM8 190h1v1h-1zM8 209h1v1h-1zM8 226h1v1h-1zM8 230h1v1h-1zM8 240h1v1h-1zM9 149h1v1h-1zM9 193h1v1h-1zM10 131h1v1h-1zM10 135h1v1h-1zM10 153h1v1h-1zM10 189h1v1h-1zM11 21h1v1h-1zM11 55h1v1h-1zM11 60h1v1h-1zM11 62h1v1h-1zM11 64h1v1h-1zM11 108h1v1h-1zM11 132h1v1h-1zM11 157h1v1h-1zM11 169h1v1h-1zM11 175h1v3h-1zM11 182h1v1h-1zM11 201h1v1h-1zM11 213h1v1h-1zM11 244h1v2h-1zM12 107h1v1h-1zM12 119h1v1h-1zM12 126h1v1h-1zM12 128h1v1h-1zM12 136h1v1h-1zM12 152h1v1h-1zM13 6h1v1h-1zM13 123h1v1h-1zM13 125h1v1h-1zM13 197h1v1h-1zM13 200h1v1h-1zM13 209h1v1h-1zM13 211h1v1h-1zM13 230h1v2h-1zM14 30h1v1h-1zM14 107h1v1h-1zM14 126h1v1h-1zM14 134h1v1h-1zM14 137h1v1h-1zM14 188h1v1h-1zM14 190h1v1h-1zM14 221h1v1h-1zM14 228h1v1h-1zM14 235h1v1h-1zM15 120h1v1h-1zM15 126h1v1h-1zM15 196h1v1h-1zM16 127h1v2h-1zM17 110h1v2h-1zM17 119h1v1h-1zM17 122h1v1h-1zM18 35h1v1h-1zM18 56h1v1h-1zM18 123h1v1h-1zM18 127h1v2h-1zM18 185h1v1h-1zM19 115h1v1h-1zM19 122h1v1h-1zM20 115h1v1h-1zM20 121h1v1h-1zM20 129h1v1h-1zM22 88h1v1h-1zM22 112h1v1h-1zM23 0h1v1h-1zM23 7h1v1h-1zM23 18h1v1h-1zM23 24h1v1h-1zM23 41h1v1h-1zM23 61h1v1h-1zM23 71h1v2h-1zM23 87h1v1h-1zM23 100h1v1h-1zM23 110h1v1h-1zM23 241h1v1h-1zM24 96h1v1h-1zM25 3h1v1h-1zM25 11h1v1h-1zM25 16h1v1h-1zM25 25h1v1h-1zM25 35h1v1h-1zM25 42h1v1h-1zM25 59h1v1h-1zM25 72h1v1h-1zM25 78h1v1h-1zM25 98h1v1h-1zM25 106h1v1h-1zM26 110h1v1h-1zM26 114h1v1h-1zM26 116h1v1h-1zM26 166h1v1h-1zM26 193h1v1h-1zM27 71h1v2h-1zM27 104h1v1h-1zM28 2h1v1h-1zM28 70h1v1h-1zM28 96h1v1h-1zM28 105h1v1h-1zM29 52h1v1h-1zM29 63h1v1h-1zM29 70h1v1h-1zM29 87h1v1h-1zM29 98h1v1h-1zM29 204h1v1h-1zM29 235h1v1h-1zM29 239h1v1h-1zM29 242h1v1h-1zM29 246h1v1h-1zM30 17h1v1h-1zM30 24h1v1h-1zM30 49h1v1h-1zM30 52h1v1h-1zM30 70h1v1h-1zM30 75h1v1h-1zM30 88h1v1h-1zM30 213h1v1h-1zM30 246h1v1h-1zM31 82h1v1h-1zM31 114h1v1h-1zM31 120h1v1h-1zM31 126h1v1h-1zM31 204h1v1h-1zM32 32h1v1h-1zM32 80h1v1h-1zM32 103h1v2h-1zM32 206h1v1h-1zM32 208h1v1h-1zM32 213h1v1h-1zM32 220h1v1h-1zM32 242h1v1h-1zM33 49h1v1h-1zM33 55h1v1h-1zM34 13h1v1h-1zM34 18h1v1h-1zM34 62h1v1h-1zM34 71h1v1h-1zM34 81h1v1h-1zM34 95h1v1h-1zM34 109h1v1h-1zM34 116h1v1h-1zM34 179h1v1h-1zM34 202h1v1h-1zM34 226h1v2h-1zM34 240h1v1h-1zM34 246h1v1h-1zM35 46h1v1h-1zM35 71h1v1h-1zM35 74h1v1h-1zM35 81h1v1h-1zM35 85h1v1h-1zM35 108h1v1h-1zM35 132h1v1h-1zM36 49h1v1h-1zM36 56h1v2h-1zM36 98h1v1h-1zM36 202h1v2h-1zM36 213h1v1h-1zM36 215h1v1h-1zM36 249h1v1h-1zM37 46h1v1h-1zM37 66h1v2h-1zM37 108h1v1h-1zM37 115h1v1h-1zM37 188h1v1h-1zM38 53h1v1h-1zM38 73h1v1h-1zM39 43h1v1h-1zM39 50h1v1h-1zM39 90h1v1h-1zM39 102h1v1h-1zM39 112h1v1h-1zM39 174h1v1h-1zM39 208h1v1h-1zM39 226h1v1h-1zM39 230h1v1h-1zM39 235h1v1h-1zM39 240h1v1h-1zM40 49h1v1h-1zM40 57h1v1h-1zM40 72h1v1h-1zM40 74h1v1h-1zM40 81h1v1h-1zM40 85h1v1h-1zM40 182h1v1h-1zM40 187h1v1h-1zM40 229h1v1h-1zM40 234h1v1h-1zM41 187h1v2h-1zM41 193h1v1h-1zM41 209h1v1h-1zM41 219h1v1h-1zM41 222h1v1h-1zM42 54h1v1h-1zM42 86h1v2h-1zM42 101h1v1h-1zM42 113h1v1h-1zM42 173h1v1h-1zM42 187h1v1h-1zM42 233h1v2h-1zM43 219h1v1h-1zM43 226h1v1h-1zM44 53h1v1h-1zM44 103h1v1h-1zM44 105h1v1h-1zM44 124h1v1h-1zM44 166h1v1h-1zM44 180h1v1h-1zM44 183h1v1h-1zM44 187h1v1h-1zM44 191h1v1h-1zM44 194h1v1h-1zM44 241h1v1h-1zM45 75h1v1h-1zM45 154h1v1h-1zM45 212h1v1h-1zM45 225h1v1h-1zM45 234h1v1h-1zM45 248h1v1h-1zM46 239h1v1h-1zM47 55h1v2h-1zM47 71h1v1h-1zM47 85h1v1h-1zM47 118h1v1h-1zM47 200h1v1h-1zM47 217h1v1h-1zM47 220h1v1h-1zM47 223h1v2h-1zM47 233h1v2h-1zM47 241h1v1h-1zM47 244h1v1h-1zM47 249h1v1h-1zM48 221h1v1h-1zM49 18h1v1h-1zM49 64h1v1h-1zM49 84h1v1h-1zM49 93h1v1h-1zM49 109h1v1h-1zM49 180h1v1h-1zM49 190h1v1h-1zM49 194h1v1h-1zM49 235h1v1h-1z"/><path fill="#20958b" d="M0 62h1v1h-1zM0 146h1v1h-1zM1 145h1v1h-1zM4 20h1v1h-1zM4 27h1v1h-1zM4 42h1v1h-1zM4 115h1v1h-1zM4 157h1v1h-1zM4 180h1v2h-1zM4 187h1v2h-1zM4 195h1v1h-1zM4 217h1v1h-1zM4 220h1v1h-1zM4 242h1v1h-1zM4 247h1v1h-1zM5 52h1v1h-1zM5 129h1v1h-1zM5 150h1v1h-1zM5 177h1v1h-1zM5 189h1v1h-1zM6 13h1v1h-1zM6 54h1v1h-1zM6 82h1v1h-1zM6 122h1v1h-1zM6 141h1v1h-1zM6 164h1v1h-1zM6 185h1v1h-1zM6 208h1v1h-1zM6 214h1v1h-1zM6 217h1v1h-1zM6 233h1v1h-1zM7 116h1v1h-1zM7 122h1v1h-1zM7 127h1v1h-1zM7 164h1v1h-1zM8 59h1v1h-1zM8 122h1v1h-1zM8 134h1v1h-1zM8 144h1v2h-1zM8 149h1v1h-1zM8 168h1v1h-1zM8 185h1v1h-1zM8 196h1v1h-1zM8 199h1v1h-1zM8 214h1v1h-1zM8 222h1v1h-1zM8 227h1v1h-1zM8 232h1v2h-1zM9 128h1v2h-1zM10 125h1v1h-1zM10 179h1v1h-1zM11 31h1v1h-1zM11 46h1v1h-1zM11 53h1v1h-1zM11 56h1v1h-1zM11 113h1v1h-1zM11 126h1v1h-1zM11 138h1v1h-1zM11 148h1v1h-1zM11 167h1v1h-1zM11 183h1v1h-1zM11 194h1v1h-1zM11 196h1v1h-1zM11 221h1v1h-1zM12 143h1v2h-1zM13 48h1v1h-1zM13 64h1v1h-1zM13 109h1v1h-1zM13 114h1v2h-1zM13 127h1v1h-1zM13 137h1v1h-1zM13 177h1v1h-1zM13 201h1v1h-1zM13 220h1v1h-1zM13 236h1v1h-1zM14 10h1v1h-1zM14 37h1v1h-1zM14 109h1v1h-1zM14 149h1v1h-1zM14 156h1v1h-1zM14 161h1v1h-1zM14 175h1v1h-1zM14 211h1v1h-1zM14 215h1v2h-1zM14 224h1v1h-1zM14 226h1v1h-1zM16 124h1v1h-1zM18 48h1v1h-1zM18 55h1v1h-1zM18 118h1v1h-1zM18 192h1v1h-1zM18 215h1v1h-1zM22 68h1v1h-1zM22 85h1v1h-1zM23 14h1v1h-1zM23 33h1v1h-1zM23 44h1v1h-1zM23 47h1v2h-1zM23 50h1v2h-1zM23 58h1v1h-1zM23 66h1v1h-1zM23 73h1v1h-1zM23 94h1v1h-1zM23 96h1v1h-1zM23 99h1v1h-1zM23 104h1v1h-1zM23 108h1v1h-1zM23 111h1v1h-1zM23 130h1v1h-1zM23 190h1v1h-1zM23 195h1v1h-1zM23 238h1v1h-1zM24 72h1v2h-1zM24 75h1v1h-1zM24 89h1v1h-1zM24 94h1v1h-1zM25 6h1v1h-1zM25 8h1v1h-1zM25 12h1v1h-1zM25 46h1v1h-1zM25 58h1v1h-1zM25 64h1v1h-1zM25 79h1v1h-1zM25 88h1v1h-1zM25 90h1v1h-1zM25 99h1v1h-1zM25 104h1v1h-1zM26 69h1v1h-1zM26 74h1v1h-1zM26 92h1v1h-1zM26 98h1v1h-1zM26 105h1v1h-1zM26 128h1v1h-1zM26 133h1v1h-1zM27 86h1v1h-1zM27 88h1v2h-1zM27 96h1v1h-1zM27 98h1v1h-1zM27 100h1v1h-1zM27 214h1v1h-1zM28 31h1v1h-1zM28 59h1v1h-1zM28 68h1v1h-1zM28 87h1v1h-1zM28 93h1v1h-1zM28 102h1v1h-1zM29 42h1v1h-1zM29 58h1v1h-1zM29 67h1v2h-1zM29 78h1v1h-1zM29 99h1v1h-1zM29 117h1v1h-1zM29 158h1v1h-1zM29 190h1v1h-1zM29 193h1v1h-1zM29 212h1v1h-1zM29 228h1v1h-1zM30 51h1v1h-1zM30 73h1v1h-1zM30 87h1v1h-1zM30 89h1v1h-1zM30 97h1v2h-1zM30 101h1v1h-1zM30 190h1v1h-1zM30 212h1v1h-1zM30 220h1v1h-1zM30 232h1v1h-1zM30 242h1v1h-1zM31 65h1v1h-1zM31 195h1v1h-1zM31 210h1v1h-1zM31 215h1v1h-1zM32 0h1v1h-1zM32 42h1v1h-1zM32 48h1v1h-1zM32 52h1v1h-1zM32 70h1v1h-1zM32 72h1v1h-1zM32 74h1v1h-1zM32 87h1v1h-1zM32 116h1v1h-1zM32 188h1v2h-1zM32 191h1v1h-1zM32 203h1v1h-1zM32 219h1v1h-1zM33 52h1v1h-1zM33 74h1v2h-1zM33 93h1v1h-1zM34 41h1v1h-1zM34 49h1v2h-1zM34 53h1v1h-1zM34 76h1v1h-1zM34 86h1v1h-1zM34 114h1v1h-1zM34 161h1v1h-1zM34 190h1v2h-1zM34 199h1v1h-1zM34 214h1v1h-1zM34 229h1v1h-1zM34 236h1v1h-1zM35 52h1v1h-1zM35 60h1v1h-1zM35 93h1v1h-1zM35 119h1v1h-1zM35 191h1v1h-1zM35 219h1v1h-1zM36 50h1v1h-1zM36 52h1v1h-1zM36 58h1v1h-1zM37 44h1v1h-1zM37 61h1v1h-1zM37 64h1v1h-1zM37 80h1v1h-1zM37 89h1v1h-1zM37 93h1v1h-1zM37 106h1v1h-1zM37 116h1v1h-1zM37 122h1v1h-1zM38 75h1v1h-1zM39 51h1v1h-1zM39 60h1v1h-1zM39 162h1v1h-1zM39 187h1v1h-1zM39 189h1v2h-1zM39 195h1v1h-1zM39 210h1v1h-1zM40 1h1v1h-1zM40 7h1v1h-1zM40 34h1v1h-1zM40 42h1v1h-1zM40 64h1v1h-1zM40 86h1v1h-1zM40 88h1v2h-1zM40 92h1v2h-1zM40 96h1v1h-1zM40 100h1v1h-1zM40 102h1v1h-1zM40 116h1v1h-1zM40 119h1v1h-1zM40 177h1v1h-1zM40 202h1v1h-1zM40 219h1v1h-1zM40 228h1v1h-1zM40 231h1v1h-1zM41 189h1v1h-1zM41 191h1v1h-1zM41 205h1v1h-1zM41 207h1v1h-1zM41 214h1v1h-1zM42 70h1v1h-1zM42 79h1v2h-1zM42 84h1v1h-1zM42 96h1v1h-1zM42 112h1v1h-1zM42 120h1v1h-1zM42 125h1v1h-1zM42 200h1v1h-1zM42 207h1v1h-1zM42 212h1v1h-1zM42 221h1v1h-1zM42 223h1v1h-1zM42 227h1v1h-1zM42 244h1v1h-1zM43 73h1v1h-1zM43 86h1v1h-1zM43 99h1v1h-1zM43 188h1v1h-1zM43 193h1v2h-1zM43 225h1v1h-1zM43 237h1v1h-1zM43 242h1v1h-1zM43 248h1v1h-1zM44 95h1v1h-1zM44 97h1v1h-1zM44 102h1v1h-1zM44 121h1v1h-1zM44 212h1v1h-1zM44 219h1v1h-1zM44 228h1v1h-1zM45 84h1v1h-1zM45 188h1v1h-1zM45 196h1v1h-1zM45 210h1v1h-1zM45 244h1v1h-1zM46 75h1v1h-1zM47 29h1v2h-1zM47 48h1v1h-1zM47 52h1v1h-1zM47 89h1v1h-1zM47 111h1v1h-1zM47 113h1v1h-1zM47 120h1v1h-1zM47 146h1v1h-1zM47 183h1v1h-1zM47 187h1v2h-1zM47 194h1v2h-1zM47 201h1v1h-1zM47 204h1v1h-1zM47 207h1v2h-1zM47 214h1v1h-1zM47 218h1v2h-1zM47 222h1v1h-1zM47 231h1v1h-1zM47 235h1v1h-1zM48 204h1v1h-1zM48 242h1v1h-1zM49 7h1v1h-1zM49 44h1v1h-1zM49 73h1v1h-1zM49 85h1v1h-1zM49 96h1v1h-1zM49 99h1v1h-1zM49 204h1v1h-1z"/><path fill="#1f9b8a" d="M4 11h1v1h-1zM4 23h1v1h-1zM4 31h1v1h-1zM4 59h1v1h-1zM4 118h1v1h-1zM4 124h1v1h-1zM4 135h1v1h-1zM4 138h1v1h-1zM4 143h1v1h-1zM4 148h1v1h-1zM4 160h1v1h-1zM4 178h1v1h-1zM4 189h1v1h-1zM4 199h1v1h-1zM4 216h1v1h-1zM5 34h1v1h-1zM6 107h1v1h-1zM6 126h1v1h-1zM6 135h1v1h-1zM6 144h1v1h-1zM6 161h1v1h-1zM6 165h1v1h-1zM6 173h1v1h-1zM6 187h1v1h-1zM6 190h1v1h-1zM6 238h1v1h-1zM6 241h1v1h-1zM7 138h1v1h-1zM7 226h1v1h-1zM7 240h1v1h-1zM8 109h1v1h-1zM8 130h1v1h-1zM8 138h1v1h-1zM8 155h1v1h-1zM8 165h1v1h-1zM8 174h1v1h-1zM8 177h1v1h-1zM8 201h1v1h-1zM8 221h1v1h-1zM8 225h1v1h-1zM8 237h1v1h-1zM8 241h1v1h-1zM8 249h1v1h-1zM10 164h1v1h-1zM10 182h1v1h-1zM11 33h1v1h-1zM11 59h1v1h-1zM11 110h1v1h-1zM11 139h1v1h-1zM11 141h1v1h-1zM11 152h1v1h-1zM11 159h1v1h-1zM11 193h1v1h-1zM11 208h1v1h-1zM11 219h1v1h-1zM11 229h1v1h-1zM11 236h1v1h-1zM13 83h1v1h-1zM13 124h1v1h-1zM13 173h1v1h-1zM13 244h1v1h-1zM13 246h1v1h-1zM14 55h1v1h-1zM14 118h1v1h-1zM14 140h1v1h-1zM14 196h1v1h-1zM14 210h1v1h-1zM14 213h1v1h-1zM14 219h1v1h-1zM14 233h1v1h-1zM14 249h1v1h-1zM15 110h1v1h-1zM17 129h1v1h-1zM18 51h1v1h-1zM18 126h1v1h-1zM18 134h1v1h-1zM18 191h1v1h-1zM21 118h1v1h-1zM22 115h1v2h-1zM22 120h1v1h-1zM23 70h1v1h-1zM23 80h1v1h-1zM23 120h1v1h-1zM23 200h1v1h-1zM24 90h1v1h-1zM24 92h1v2h-1zM25 13h1v1h-1zM25 20h1v1h-1zM25 55h1v2h-1zM25 74h1v1h-1zM25 80h1v1h-1zM25 93h1v2h-1zM25 101h1v1h-1zM26 79h1v1h-1zM26 91h1v1h-1zM26 96h1v1h-1zM26 103h1v1h-1zM27 67h1v1h-1zM27 78h1v1h-1zM27 97h1v1h-1zM27 127h1v1h-1zM28 63h1v1h-1zM28 69h1v1h-1zM28 89h1v1h-1zM28 103h1v1h-1zM28 107h1v1h-1zM29 56h1v1h-1zM29 69h1v1h-1zM29 96h1v1h-1zM29 206h1v1h-1zM30 37h1v1h-1zM30 43h1v1h-1zM30 50h1v1h-1zM30 65h1v1h-1zM30 67h1v1h-1zM31 43h1v1h-1zM31 52h1v1h-1zM31 54h1v1h-1zM31 69h1v1h-1zM31 75h1v1h-1zM32 57h1v1h-1zM32 182h1v1h-1zM32 195h1v1h-1zM32 215h1v1h-1zM32 226h1v2h-1zM34 56h1v1h-1zM34 101h1v2h-1zM34 113h1v1h-1zM34 117h1v1h-1zM34 120h1v2h-1zM34 187h1v1h-1zM34 194h1v1h-1zM35 54h1v1h-1zM35 69h1v1h-1zM35 94h1v1h-1zM35 172h1v1h-1zM35 194h1v1h-1zM35 211h1v1h-1zM35 215h1v1h-1zM36 74h1v1h-1zM36 90h1v1h-1zM36 204h1v1h-1zM36 211h1v1h-1zM36 229h1v1h-1zM37 77h1v1h-1zM37 107h1v1h-1zM37 120h1v1h-1zM37 226h1v1h-1zM39 34h1v1h-1zM39 46h1v1h-1zM39 82h1v1h-1zM39 94h1v1h-1zM39 115h1v2h-1zM39 157h1v1h-1zM39 164h1v1h-1zM39 194h1v1h-1zM40 54h1v1h-1zM40 59h1v1h-1zM40 67h1v1h-1zM40 71h1v1h-1zM40 107h1v2h-1zM40 115h1v1h-1zM40 120h1v1h-1zM40 209h1v1h-1zM40 236h1v1h-1zM40 243h1v1h-1zM41 208h1v1h-1zM41 218h1v1h-1zM41 225h1v2h-1zM41 232h1v1h-1zM41 242h1v1h-1zM42 59h1v1h-1zM42 71h1v1h-1zM42 111h1v1h-1zM42 190h1v1h-1zM42 213h1v1h-1zM42 220h1v1h-1zM42 243h1v1h-1zM43 92h1v1h-1zM43 198h1v1h-1zM43 204h1v1h-1zM43 232h1v1h-1zM44 80h1v1h-1zM44 84h1v1h-1zM44 88h1v1h-1zM44 185h1v1h-1zM44 206h1v1h-1zM44 229h1v2h-1zM44 233h1v1h-1zM45 96h1v1h-1zM45 202h1v1h-1zM45 207h1v1h-1zM45 221h1v1h-1zM45 223h1v1h-1zM45 226h1v1h-1zM46 204h1v1h-1zM47 4h1v1h-1zM47 15h1v1h-1zM47 50h1v1h-1zM47 58h1v1h-1zM47 90h1v1h-1zM47 103h1v1h-1zM47 192h1v1h-1zM47 215h1v1h-1zM48 73h1v1h-1zM48 194h1v1h-1zM49 33h1v1h-1zM49 47h1v1h-1zM49 49h1v1h-1zM49 60h1v1h-1zM49 92h1v1h-1zM49 97h1v1h-1zM49 216h1v1h-1zM49 236h1v1h-1z"/><path fill="#20a087" d="M4 43h1v1h-1zM4 50h1v1h-1zM4 54h1v1h-1zM4 57h1v1h-1zM4 84h1v1h-1zM4 107h1v1h-1zM4 128h1v1h-1zM4 151h1v1h-1zM4 166h1v1h-1zM4 186h1v1h-1zM4 198h1v1h-1zM4 201h1v1h-1zM4 215h1v1h-1zM4 229h1v1h-1zM5 187h1v1h-1zM5 198h1v1h-1zM6 9h1v1h-1zM6 49h1v1h-1zM6 123h1v1h-1zM6 134h1v1h-1zM6 142h1v1h-1zM6 219h1v1h-1zM6 223h1v1h-1zM7 142h1v1h-1zM7 158h1v1h-1zM7 173h1v1h-1zM7 187h1v1h-1zM7 193h1v1h-1zM7 204h1v1h-1zM8 53h1v1h-1zM8 125h1v1h-1zM8 150h1v1h-1zM8 176h1v1h-1zM8 193h1v2h-1zM8 203h1v1h-1zM8 212h1v1h-1zM8 218h1v2h-1zM8 231h1v1h-1zM8 239h1v1h-1zM9 141h1v1h-1zM10 145h1v1h-1zM11 8h1v1h-1zM11 14h1v1h-1zM11 52h1v1h-1zM11 107h1v1h-1zM11 143h1v1h-1zM11 145h1v1h-1zM11 151h1v1h-1zM11 153h1v1h-1zM11 162h1v1h-1zM11 241h1v1h-1zM11 243h1v1h-1zM12 133h1v1h-1zM12 145h1v1h-1zM12 187h1v1h-1zM13 108h1v1h-1zM13 113h1v1h-1zM13 122h1v1h-1zM13 126h1v1h-1zM13 140h1v1h-1zM13 148h1v1h-1zM13 158h1v1h-1zM13 171h1v1h-1zM13 235h1v1h-1zM13 238h1v1h-1zM14 44h1v2h-1zM14 108h1v1h-1zM14 113h1v1h-1zM14 129h1v1h-1zM14 136h1v1h-1zM14 142h1v1h-1zM14 151h1v1h-1zM14 174h1v1h-1zM14 183h1v1h-1zM14 189h1v1h-1zM14 198h1v1h-1zM14 208h1v1h-1zM14 229h1v1h-1zM14 238h1v1h-1zM14 240h1v1h-1zM15 111h1v1h-1zM15 116h1v2h-1zM15 130h1v1h-1zM16 118h1v2h-1zM18 46h1v1h-1zM18 52h1v1h-1zM18 57h1v1h-1zM18 107h1v1h-1zM18 120h1v1h-1zM18 130h1v1h-1zM18 200h1v1h-1zM18 204h1v1h-1zM18 241h1v1h-1zM20 94h1v1h-1zM20 117h1v1h-1zM20 120h1v1h-1zM20 125h1v1h-1zM20 130h1v1h-1zM21 80h1v1h-1zM23 34h1v1h-1zM23 45h1v1h-1zM23 76h1v1h-1zM23 107h1v1h-1zM24 102h1v1h-1zM24 118h1v1h-1zM25 32h1v1h-1zM25 77h1v1h-1zM25 86h1v1h-1zM25 97h1v1h-1zM25 105h1v1h-1zM25 107h1v1h-1zM26 61h1v1h-1zM26 75h1v1h-1zM26 77h1v1h-1zM26 86h1v1h-1zM26 99h1v1h-1zM27 80h1v1h-1zM27 91h1v2h-1zM27 94h1v1h-1zM28 58h1v1h-1zM28 74h1v1h-1zM28 106h1v1h-1zM29 73h1v1h-1zM29 101h1v1h-1zM29 108h1v1h-1zM29 230h1v1h-1zM30 63h1v1h-1zM30 69h1v1h-1zM30 76h1v1h-1zM30 78h1v1h-1zM30 94h1v1h-1zM31 67h1v1h-1zM31 71h1v1h-1zM31 79h1v1h-1zM31 93h1v1h-1zM31 106h1v1h-1zM32 34h1v1h-1zM32 46h1v1h-1zM32 63h1v1h-1zM32 75h1v1h-1zM32 102h1v1h-1zM32 209h1v1h-1zM32 221h1v1h-1zM32 230h1v1h-1zM32 232h1v1h-1zM33 57h1v1h-1zM33 71h1v1h-1zM33 73h1v1h-1zM34 48h1v1h-1zM34 66h1v1h-1zM34 94h1v1h-1zM34 119h1v1h-1zM34 209h1v1h-1zM35 73h1v1h-1zM35 206h1v1h-1zM36 47h1v1h-1zM37 49h1v2h-1zM37 71h1v1h-1zM37 76h1v1h-1zM37 96h1v1h-1zM37 195h1v1h-1zM37 221h1v1h-1zM39 42h1v1h-1zM39 58h1v1h-1zM39 68h1v1h-1zM39 75h1v1h-1zM39 119h1v1h-1zM39 151h1v1h-1zM39 197h1v1h-1zM39 202h1v1h-1zM39 231h1v1h-1zM40 11h1v1h-1zM40 30h1v1h-1zM40 44h1v1h-1zM40 53h1v1h-1zM40 63h1v1h-1zM40 66h1v1h-1zM40 68h1v1h-1zM40 75h1v1h-1zM40 196h1v1h-1zM40 211h1v1h-1zM40 224h1v1h-1zM41 231h1v1h-1zM41 234h1v1h-1zM41 241h1v1h-1zM42 192h1v1h-1zM42 216h1v1h-1zM42 224h1v1h-1zM43 85h1v1h-1zM43 235h1v2h-1zM44 203h1v1h-1zM44 215h1v1h-1zM44 247h1v1h-1zM45 160h1v1h-1zM45 206h1v1h-1zM45 242h1v1h-1zM46 103h1v1h-1zM46 222h1v1h-1zM47 0h1v1h-1zM47 54h1v1h-1zM47 86h1v1h-1zM47 92h1v1h-1zM47 94h1v1h-1zM47 100h1v1h-1zM47 199h1v1h-1zM47 203h1v1h-1zM47 239h1v1h-1zM49 50h1v1h-1z"/><path fill="#22a685" d="M1 150h1v1h-1zM4 17h1v1h-1zM4 126h1v1h-1zM4 161h1v1h-1zM4 165h1v1h-1zM4 170h1v1h-1zM4 206h1v1h-1zM4 221h1v1h-1zM4 223h1v1h-1zM4 246h1v1h-1zM4 249h1v1h-1zM5 115h1v1h-1zM6 39h1v1h-1zM6 52h1v1h-1zM6 124h1v1h-1zM6 131h1v1h-1zM6 150h1v1h-1zM6 159h1v1h-1zM6 170h1v2h-1zM6 179h1v1h-1zM6 213h1v1h-1zM6 215h1v1h-1zM6 239h1v1h-1zM7 126h1v1h-1zM7 133h1v1h-1zM7 144h1v1h-1zM7 200h1v1h-1zM8 124h1v1h-1zM8 139h1v1h-1zM8 187h1v1h-1zM9 127h1v1h-1zM10 159h1v1h-1zM11 42h1v1h-1zM11 112h1v1h-1zM11 116h1v1h-1zM11 121h1v1h-1zM11 123h1v2h-1zM11 136h1v1h-1zM11 161h1v1h-1zM11 180h1v1h-1zM11 187h1v1h-1zM11 202h1v1h-1zM11 212h1v1h-1zM11 216h1v1h-1zM11 224h1v1h-1zM11 230h1v1h-1zM11 234h1v1h-1zM12 146h1v1h-1zM12 150h1v1h-1zM13 154h1v1h-1zM13 185h1v1h-1zM13 188h1v1h-1zM13 193h1v1h-1zM13 202h1v2h-1zM13 243h1v1h-1zM14 53h1v1h-1zM14 120h1v2h-1zM14 145h1v1h-1zM14 160h1v1h-1zM14 177h1v1h-1zM14 207h1v1h-1zM14 223h1v1h-1zM14 243h1v1h-1zM15 109h1v1h-1zM15 114h1v1h-1zM15 123h1v1h-1zM15 127h1v1h-1zM17 126h1v1h-1zM18 173h1v1h-1zM23 20h1v1h-1zM23 105h1v1h-1zM24 85h1v1h-1zM24 91h1v1h-1zM24 95h1v1h-1zM24 100h1v1h-1zM25 54h1v1h-1zM25 62h1v1h-1zM25 102h1v1h-1zM26 70h1v1h-1zM26 97h1v1h-1zM26 100h1v1h-1zM27 101h1v1h-1zM28 72h1v1h-1zM28 76h1v1h-1zM28 79h1v1h-1zM28 81h1v1h-1zM28 90h1v1h-1zM28 117h1v1h-1zM29 82h1v1h-1zM29 89h1v1h-1zM29 102h1v1h-1zM29 104h1v1h-1zM29 118h1v1h-1zM30 47h1v1h-1zM30 60h1v1h-1zM30 198h1v1h-1zM31 88h1v1h-1zM31 90h1v1h-1zM31 95h1v1h-1zM32 64h1v1h-1zM32 69h1v1h-1zM32 83h1v1h-1zM32 98h1v1h-1zM33 46h1v1h-1zM34 61h1v1h-1zM34 64h1v1h-1zM34 72h1v1h-1zM34 74h1v1h-1zM34 93h1v1h-1zM34 108h1v1h-1zM34 195h1v1h-1zM34 221h1v1h-1zM34 230h1v1h-1zM36 42h1v1h-1zM36 45h1v1h-1zM36 48h1v1h-1zM36 53h1v1h-1zM37 90h1v1h-1zM37 215h1v1h-1zM39 53h1v1h-1zM39 56h1v2h-1zM39 76h1v1h-1zM39 92h1v2h-1zM39 213h1v1h-1zM40 43h1v1h-1zM40 46h1v1h-1zM40 207h1v1h-1zM40 216h1v1h-1zM41 183h1v1h-1zM41 201h1v1h-1zM41 210h1v1h-1zM41 233h1v1h-1zM42 82h1v1h-1zM42 89h1v1h-1zM42 189h1v1h-1zM42 193h1v1h-1zM42 196h1v1h-1zM42 225h1v2h-1zM44 118h1v1h-1zM44 156h1v1h-1zM44 209h1v1h-1zM44 224h1v1h-1zM45 139h1v1h-1zM45 193h1v1h-1zM45 204h1v1h-1zM45 213h1v2h-1zM45 230h1v1h-1zM45 240h1v1h-1zM47 31h1v1h-1zM47 88h1v1h-1zM47 93h1v1h-1zM47 213h1v1h-1zM49 61h1v1h-1zM49 65h1v1h-1z"/><path fill="#26ab81" d="M4 122h1v1h-1zM4 132h1v2h-1zM4 142h1v1h-1zM4 167h1v1h-1zM4 204h1v1h-1zM6 55h1v1h-1zM6 119h1v1h-1zM6 127h1v1h-1zM6 138h1v1h-1zM6 152h1v1h-1zM6 156h1v1h-1zM6 163h1v1h-1zM6 181h1v1h-1zM6 202h1v1h-1zM6 204h1v1h-1zM6 222h1v1h-1zM6 247h1v1h-1zM7 202h1v1h-1zM8 111h1v1h-1zM8 132h1v2h-1zM8 147h1v1h-1zM8 172h1v1h-1zM10 128h1v1h-1zM10 144h1v1h-1zM10 187h1v1h-1zM11 118h1v1h-1zM11 133h1v1h-1zM11 135h1v1h-1zM11 186h1v1h-1zM12 147h1v1h-1zM13 112h1v1h-1zM13 116h1v2h-1zM13 142h1v1h-1zM13 145h1v1h-1zM13 147h1v1h-1zM13 189h1v1h-1zM13 204h1v1h-1zM14 56h1v1h-1zM14 115h1v1h-1zM14 127h1v1h-1zM14 144h1v1h-1zM14 150h1v1h-1zM14 152h1v1h-1zM14 192h1v1h-1zM14 212h1v1h-1zM14 242h1v1h-1zM15 121h1v1h-1zM15 128h1v1h-1zM18 122h1v1h-1zM18 187h1v1h-1zM19 129h1v1h-1zM21 56h1v1h-1zM22 84h1v1h-1zM23 65h1v1h-1zM23 115h1v1h-1zM23 118h1v1h-1zM25 96h1v1h-1zM26 73h1v1h-1zM26 76h1v1h-1zM26 80h1v1h-1zM27 82h1v1h-1zM27 99h1v1h-1zM28 67h1v1h-1zM28 73h1v1h-1zM28 88h1v1h-1zM29 86h1v1h-1zM29 189h1v1h-1zM30 9h1v1h-1zM30 57h1v1h-1zM30 86h1v1h-1zM30 90h1v1h-1zM31 68h1v1h-1zM31 77h1v1h-1zM31 102h1v1h-1zM31 122h1v1h-1zM32 68h1v1h-1zM32 79h1v1h-1zM32 90h1v1h-1zM32 118h1v1h-1zM32 122h1v1h-1zM33 82h1v1h-1zM34 52h1v1h-1zM34 63h1v1h-1zM34 73h1v1h-1zM34 88h1v1h-1zM34 99h1v1h-1zM35 75h1v1h-1zM36 59h1v1h-1zM38 74h1v1h-1zM39 71h1v1h-1zM39 88h1v1h-1zM39 105h1v1h-1zM39 121h1v1h-1zM39 201h1v1h-1zM39 211h1v1h-1zM40 51h1v1h-1zM40 90h1v1h-1zM41 198h1v1h-1zM41 247h1v1h-1zM42 119h1v1h-1zM42 195h1v1h-1zM42 222h1v1h-1zM42 237h1v1h-1zM44 195h1v1h-1zM44 204h1v1h-1zM44 232h1v1h-1zM44 234h1v1h-1zM45 190h1v1h-1zM45 194h1v2h-1zM45 209h1v1h-1zM45 211h1v1h-1zM46 86h1v1h-1zM47 14h1v1h-1zM47 246h1v2h-1zM49 82h1v1h-1zM49 94h1v1h-1zM49 118h1v1h-1zM49 238h1v1h-1z"/><path fill="#2eb17d" d="M3 144h1v1h-1zM4 131h1v1h-1zM4 134h1v1h-1zM4 150h1v1h-1zM4 156h1v1h-1zM4 163h1v1h-1zM4 205h1v1h-1zM5 117h1v1h-1zM5 124h1v1h-1zM5 202h1v1h-1zM6 56h1v1h-1zM6 174h1v1h-1zM6 188h1v1h-1zM6 196h1v1h-1zM6 200h1v1h-1zM6 237h1v1h-1zM6 246h1v1h-1zM7 149h1v1h-1zM8 112h1v1h-1zM8 120h1v1h-1zM8 137h1v1h-1zM8 143h1v1h-1zM8 156h1v1h-1zM8 164h1v1h-1zM8 169h1v1h-1zM8 179h1v2h-1zM8 192h1v1h-1zM8 213h1v1h-1zM10 138h1v1h-1zM11 50h1v1h-1zM11 114h1v1h-1zM11 117h1v1h-1zM11 119h1v1h-1zM11 134h1v1h-1zM11 140h1v1h-1zM11 204h1v1h-1zM11 214h1v1h-1zM11 223h1v1h-1zM13 139h1v1h-1zM13 143h1v1h-1zM13 156h1v1h-1zM13 162h1v1h-1zM13 169h1v1h-1zM13 206h1v1h-1zM14 122h1v1h-1zM14 163h1v1h-1zM14 197h1v1h-1zM14 205h1v1h-1zM14 245h1v1h-1zM18 109h1v1h-1zM18 113h1v2h-1zM18 172h1v1h-1zM18 206h1v1h-1zM20 109h1v1h-1zM20 126h1v1h-1zM23 63h1v2h-1zM23 77h1v1h-1zM23 86h1v1h-1zM23 92h1v2h-1zM25 103h1v1h-1zM26 63h1v1h-1zM26 81h1v1h-1zM26 84h1v1h-1zM27 90h1v1h-1zM28 75h1v1h-1zM28 77h1v1h-1zM28 82h1v1h-1zM28 91h1v1h-1zM29 92h1v1h-1zM30 56h1v1h-1zM31 66h1v1h-1zM31 72h1v1h-1zM31 76h1v1h-1zM31 87h1v1h-1zM31 89h1v1h-1zM31 103h1v1h-1zM32 43h1v1h-1zM32 60h1v1h-1zM32 82h1v1h-1zM32 88h1v1h-1zM33 63h1v1h-1zM34 54h1v1h-1zM34 65h1v1h-1zM34 70h1v1h-1zM34 75h1v1h-1zM37 75h1v1h-1zM39 44h1v1h-1zM39 67h1v1h-1zM39 83h1v1h-1zM39 206h1v1h-1zM39 220h1v1h-1zM39 246h1v1h-1zM40 5h1v1h-1zM40 78h1v1h-1zM40 87h1v1h-1zM41 211h1v1h-1zM42 203h1v1h-1zM42 211h1v1h-1zM42 235h1v1h-1zM43 205h1v1h-1zM43 233h1v1h-1zM44 231h1v1h-1zM47 202h1v1h-1zM47 205h1v1h-1zM47 245h1v1h-1zM49 86h1v1h-1zM49 89h1v1h-1zM49 117h1v1h-1zM49 119h1v1h-1zM49 197h1v1h-1z"/><path fill="#35b779" d="M0 17h1v2h-1zM4 56h1v1h-1zM4 194h1v1h-1zM6 129h1v1h-1zM6 137h1v1h-1zM6 158h1v1h-1zM6 175h1v1h-1zM6 183h1v1h-1zM6 198h1v1h-1zM6 206h1v1h-1zM6 228h1v1h-1zM6 232h1v1h-1zM6 243h1v1h-1zM7 134h1v1h-1zM8 183h1v1h-1zM8 204h1v1h-1zM10 127h1v1h-1zM11 154h1v1h-1zM11 190h1v1h-1zM11 192h1v1h-1zM14 114h1v1h-1zM14 132h1v2h-1zM14 171h1v1h-1zM14 181h1v1h-1zM14 244h1v1h-1zM18 116h1v1h-1zM20 113h1v1h-1zM20 119h1v1h-1zM20 128h1v1h-1zM23 67h1v2h-1zM23 106h1v1h-1zM23 117h1v1h-1zM25 51h1v1h-1zM25 76h1v1h-1zM25 83h1v1h-1zM27 73h1v1h-1zM27 85h1v1h-1zM28 83h1v1h-1zM28 85h1v1h-1zM28 92h1v1h-1zM28 98h1v1h-1zM29 105h1v2h-1zM30 61h1v1h-1zM31 96h1v1h-1zM31 98h1v1h-1zM32 92h1v1h-1zM32 224h1v1h-1zM34 60h1v1h-1zM34 68h1v2h-1zM34 104h1v1h-1zM37 119h1v1h-1zM39 47h1v1h-1zM39 66h1v1h-1zM39 72h1v1h-1zM39 109h1v1h-1zM39 207h1v1h-1zM40 91h1v1h-1zM40 94h1v1h-1zM41 190h1v1h-1zM41 200h1v1h-1zM41 216h1v1h-1zM41 236h1v1h-1zM41 238h1v1h-1zM42 197h1v1h-1zM42 206h1v1h-1zM42 228h1v1h-1zM42 240h1v1h-1zM42 245h1v1h-1zM43 197h1v1h-1zM44 202h1v1h-1zM45 192h1v1h-1zM46 116h1v2h-1zM47 106h1v1h-1zM47 116h1v1h-1zM47 226h1v2h-1z"/><path fill="#41bc72" d="M4 139h1v1h-1zM4 193h1v1h-1zM5 190h1v1h-1zM6 151h1v1h-1zM6 166h1v1h-1zM6 180h1v1h-1zM6 186h1v1h-1zM6 210h1v1h-1zM6 218h1v1h-1zM7 119h1v1h-1zM8 135h1v1h-1zM8 146h1v1h-1zM11 122h1v1h-1zM11 199h1v1h-1zM12 189h1v1h-1zM13 129h1v1h-1zM13 160h1v1h-1zM14 116h1v2h-1zM14 124h1v1h-1zM14 138h1v1h-1zM14 167h1v1h-1zM14 180h1v1h-1zM14 209h1v1h-1zM18 115h1v1h-1zM18 125h1v1h-1zM23 78h1v1h-1zM23 95h1v1h-1zM23 114h1v1h-1zM23 122h1v1h-1zM24 83h1v1h-1zM28 99h1v1h-1zM29 74h1v1h-1zM30 53h1v1h-1zM31 86h1v1h-1zM32 49h1v2h-1zM32 59h1v1h-1zM34 45h1v1h-1zM34 118h1v1h-1zM34 206h1v1h-1zM39 198h1v1h-1zM40 50h1v1h-1zM40 52h1v1h-1zM40 61h1v1h-1zM40 212h1v1h-1zM41 202h1v1h-1zM41 204h1v1h-1zM41 244h1v1h-1zM41 246h1v1h-1zM44 218h1v1h-1zM45 208h1v1h-1zM45 239h1v1h-1zM49 15h1v1h-1z"/><path fill="#4dc26c" d="M4 141h1v1h-1zM4 152h1v1h-1zM4 173h1v1h-1zM4 203h1v1h-1zM5 126h1v1h-1zM6 149h1v1h-1zM6 192h1v1h-1zM6 197h1v1h-1zM6 205h1v1h-1zM6 221h1v1h-1zM6 231h1v1h-1zM8 200h1v1h-1zM8 224h1v1h-1zM9 130h1v1h-1zM11 146h1v1h-1zM11 191h1v1h-1zM13 132h1v1h-1zM13 191h1v1h-1zM13 194h1v1h-1zM13 242h1v1h-1zM14 135h1v1h-1zM14 185h1v1h-1zM23 74h1v1h-1zM23 97h1v1h-1zM23 101h1v1h-1zM25 89h1v1h-1zM25 91h1v1h-1zM26 82h1v1h-1zM27 76h1v1h-1zM27 87h1v1h-1zM27 95h1v1h-1zM28 80h1v1h-1zM28 95h1v1h-1zM28 97h1v1h-1zM30 72h1v1h-1zM32 47h1v1h-1zM32 54h1v1h-1zM32 73h1v1h-1zM32 84h1v1h-1zM32 100h1v1h-1zM34 44h1v1h-1zM37 70h1v1h-1zM37 121h1v1h-1zM39 48h1v1h-1zM39 61h1v1h-1zM39 63h1v1h-1zM39 65h1v1h-1zM40 47h1v1h-1zM40 55h1v1h-1zM40 58h1v1h-1zM41 141h1v1h-1zM42 208h1v2h-1zM43 78h1v1h-1zM44 190h1v1h-1zM45 200h1v1h-1zM45 220h1v1h-1zM47 91h1v1h-1zM47 115h1v1h-1z"/><path fill="#5ac764" d="M4 130h1v1h-1zM4 145h1v1h-1zM4 147h1v1h-1zM5 145h1v1h-1zM6 114h1v1h-1zM6 125h1v1h-1zM6 128h1v1h-1zM6 139h1v2h-1zM6 148h1v1h-1zM6 182h1v1h-1zM6 248h1v2h-1zM8 141h1v1h-1zM11 188h1v2h-1zM11 203h1v1h-1zM13 120h1v1h-1zM13 144h1v1h-1zM14 27h1v2h-1zM19 123h1v1h-1zM20 116h1v1h-1zM20 118h1v1h-1zM23 88h1v1h-1zM23 113h1v1h-1zM25 69h1v2h-1zM25 92h1v1h-1zM26 94h1v1h-1zM28 78h1v1h-1zM28 86h1v1h-1zM31 61h1v1h-1zM31 91h1v1h-1zM31 94h1v1h-1zM31 99h1v1h-1zM32 61h1v1h-1zM34 46h1v2h-1zM34 57h1v1h-1zM36 46h1v1h-1zM39 223h1v1h-1zM40 56h1v1h-1zM40 114h1v1h-1zM41 197h1v1h-1zM41 203h1v1h-1zM41 248h1v2h-1zM42 198h1v1h-1zM42 218h1v1h-1zM44 236h1v1h-1zM47 191h1v1h-1z"/><path fill="#68cb5c" d="M4 146h1v1h-1zM5 148h1v1h-1zM6 132h1v1h-1zM7 145h1v1h-1zM8 191h1v1h-1zM11 147h1v1h-1zM11 179h1v1h-1zM11 197h1v1h-1zM13 130h1v1h-1zM13 135h1v1h-1zM23 98h1v1h-1zM25 81h1v1h-1zM25 87h1v1h-1zM27 84h1v1h-1zM29 46h1v1h-1zM29 72h1v1h-1zM29 95h1v1h-1zM32 93h1v1h-1zM37 74h1v1h-1zM40 60h1v1h-1zM40 76h1v1h-1zM47 78h1v1h-1z"/><path fill="#77d053" d="M2 147h1v2h-1zM3 148h1v2h-1zM4 149h1v1h-1zM4 182h1v1h-1zM5 144h1v1h-1zM6 130h1v1h-1zM6 154h1v2h-1zM6 207h1v1h-1zM6 220h1v1h-1zM6 224h1v2h-1zM11 128h1v1h-1zM12 129h1v1h-1zM13 111h1v1h-1zM14 35h1v2h-1zM14 123h1v1h-1zM14 131h1v1h-1zM14 193h1v1h-1zM14 203h1v1h-1zM18 112h1v1h-1zM20 122h1v1h-1zM23 75h1v1h-1zM25 75h1v1h-1zM25 82h1v1h-1zM26 87h1v1h-1zM26 104h1v1h-1zM28 101h1v1h-1zM30 55h1v1h-1zM30 62h1v1h-1zM31 92h1v1h-1zM32 58h1v1h-1zM34 43h1v1h-1zM34 51h1v1h-1zM39 52h1v1h-1zM39 74h1v1h-1zM41 213h1v1h-1zM42 94h1v2h-1zM42 202h1v1h-1zM43 206h1v1h-1z"/><path fill="#87d449" d="M4 125h1v1h-1zM4 144h1v1h-1zM4 200h1v1h-1zM6 203h1v1h-1zM11 130h1v1h-1zM14 141h1v1h-1zM14 143h1v1h-1zM14 164h1v1h-1zM23 79h1v1h-1zM23 81h1v1h-1zM23 84h1v1h-1zM23 89h1v1h-1zM23 123h1v1h-1zM26 93h1v1h-1zM27 93h1v1h-1zM28 94h1v1h-1zM31 70h1v1h-1zM32 44h1v1h-1z"/><path fill="#98d83e" d="M6 145h1v1h-1zM11 158h1v1h-1zM14 130h1v1h-1zM14 204h1v1h-1zM23 102h1v1h-1zM26 88h1v2h-1zM32 45h1v1h-1zM32 55h1v1h-1zM39 55h1v1h-1zM40 62h1v1h-1zM40 65h1v1h-1z"/><path fill="#a8dc34" d="M10 130h1v1h-1zM11 144h1v1h-1zM14 23h1v2h-1zM14 128h1v1h-1zM14 153h1v2h-1zM14 158h1v2h-1zM14 186h1v1h-1zM14 194h1v2h-1zM14 201h1v2h-1zM23 91h1v1h-1zM25 95h1v1h-1zM28 84h1v1h-1zM42 92h1v2h-1zM49 98h1v1h-1z"/><path fill="#bade2a" d="M4 197h1v1h-1zM11 129h1v1h-1zM12 130h1v1h-1zM14 139h1v1h-1zM14 187h1v1h-1zM23 85h1v1h-1zM25 85h1v1h-1zM28 100h1v1h-1zM29 76h1v1h-1z"/><path fill="#cbe11f" d="M11 127h1v1h-1z"/><path fill="#dce31d" d="M6 199h1v1h-1zM14 146h1v2h-1zM14 172h1v2h-1zM14 199h1v2h-1zM23 103h1v1h-1z"/><path fill="#ece521" d="M6 193h1v1h-1z"/><path fill="#fde725" d="M18 117h1v1h-1zM23 90h1v1h-1z"/></g></g>
<path d="M614 739.6v4.2M622.1 739.6v4.2M630.2 739.6v4.2M638.4 739.6v4.2M646.5 739.6v4.2M654.6 739.6v4.2M662.8 739.6v4.2M670.9 739.6v4.2M679 739.6v4.2M687.2 739.6v4.2M695.3 739.6v4.2M703.5 739.6v4.2M711.6 739.6v4.2M719.7 739.6v4.2M727.9 739.6v4.2M736 739.6v4.2M744.1 739.6v4.2M752.3 739.6v4.2M760.4 739.6v4.2M768.5 739.6v4.2M776.7 739.6v4.2M784.8 739.6v4.2M792.9 739.6v4.2M801.1 739.6v4.2M809.2 739.6v4.2M817.3 739.6v4.2M825.5 739.6v4.2M833.6 739.6v4.2M841.7 739.6v4.2M849.9 739.6v4.2M858 739.6v4.2M866.2 739.6v4.2M874.3 739.6v4.2M882.4 739.6v4.2M890.6 739.6v4.2M898.7 739.6v4.2M906.8 739.6v4.2M915 739.6v4.2M923.1 739.6v4.2M931.2 739.6v4.2M939.4 739.6v4.2M947.5 739.6v4.2M955.6 739.6v4.2M963.8 739.6v4.2M971.9 739.6v4.2M980 739.6v4.2M988.2 739.6v4.2M996.3 739.6v4.2M1004.4 739.6v4.2M1012.6 739.6v4.2" stroke="#333" stroke-width="1"/>
<g font-size="8.9" fill="#333"><text transform="translate(616.9 747.2) rotate(-90)" text-anchor="end">DCD</text><text transform="translate(625 747.2) rotate(-90)" text-anchor="end">GPR26</text><text transform="translate(633.1 747.2) rotate(-90)" text-anchor="end">CARTPT</text><text transform="translate(641.3 747.2) rotate(-90)" text-anchor="end">MUC2</text><text transform="translate(649.4 747.2) rotate(-90)" text-anchor="end">FGF10</text><text transform="translate(657.5 747.2) rotate(-90)" text-anchor="end">CYP2A6</text><text transform="translate(665.7 747.2) rotate(-90)" text-anchor="end">NPY1R</text><text transform="translate(673.8 747.2) rotate(-90)" text-anchor="end">GRIA2</text><text transform="translate(681.9 747.2) rotate(-90)" text-anchor="end">CHAD</text><text transform="translate(690.1 747.2) rotate(-90)" text-anchor="end">PHGR1</text><text transform="translate(698.2 747.2) rotate(-90)" text-anchor="end">LINC02224</text><text transform="translate(706.4 747.2) rotate(-90)" text-anchor="end">MRPS30-DT</text><text transform="translate(714.5 747.2) rotate(-90)" text-anchor="end">AC093297.1</text><text transform="translate(722.6 747.2) rotate(-90)" text-anchor="end">AGTR1</text><text transform="translate(730.8 747.2) rotate(-90)" text-anchor="end">CPB1</text><text transform="translate(738.9 747.2) rotate(-90)" text-anchor="end">PYDC1</text><text transform="translate(747 747.2) rotate(-90)" text-anchor="end">POTEC</text><text transform="translate(755.2 747.2) rotate(-90)" text-anchor="end">CXADRP3</text><text transform="translate(763.3 747.2) rotate(-90)" text-anchor="end">BPIFB2</text><text transform="translate(771.4 747.2) rotate(-90)" text-anchor="end">CST5</text><text transform="translate(779.6 747.2) rotate(-90)" text-anchor="end">TLX1</text><text transform="translate(787.7 747.2) rotate(-90)" text-anchor="end">ACTL8</text><text transform="translate(795.8 747.2) rotate(-90)" text-anchor="end">ORM1</text><text transform="translate(804 747.2) rotate(-90)" text-anchor="end">S100A8</text><text transform="translate(812.1 747.2) rotate(-90)" text-anchor="end">S100A7A</text><text transform="translate(820.2 747.2) rotate(-90)" text-anchor="end">S100A7</text><text transform="translate(828.4 747.2) rotate(-90)" text-anchor="end">MMP1</text><text transform="translate(836.5 747.2) rotate(-90)" text-anchor="end">CA9</text><text transform="translate(844.6 747.2) rotate(-90)" text-anchor="end">CASP14</text><text transform="translate(852.8 747.2) rotate(-90)" text-anchor="end">COL2A1</text><text transform="translate(860.9 747.2) rotate(-90)" text-anchor="end">AQP5</text><text transform="translate(869.1 747.2) rotate(-90)" text-anchor="end">MSLN</text><text transform="translate(877.2 747.2) rotate(-90)" text-anchor="end">CRABP1</text><text transform="translate(885.3 747.2) rotate(-90)" text-anchor="end">GABBR2</text><text transform="translate(893.5 747.2) rotate(-90)" text-anchor="end">KRT81</text><text transform="translate(901.6 747.2) rotate(-90)" text-anchor="end">VGLL1</text><text transform="translate(909.7 747.2) rotate(-90)" text-anchor="end">PCSK1N</text><text transform="translate(917.9 747.2) rotate(-90)" text-anchor="end">A2ML1</text><text transform="translate(926 747.2) rotate(-90)" text-anchor="end">LY6D</text><text transform="translate(934.1 747.2) rotate(-90)" text-anchor="end">KRT16</text><text transform="translate(942.3 747.2) rotate(-90)" text-anchor="end">KRT6A</text><text transform="translate(950.4 747.2) rotate(-90)" text-anchor="end">NPY2R</text><text transform="translate(958.5 747.2) rotate(-90)" text-anchor="end">OLFM4</text><text transform="translate(966.7 747.2) rotate(-90)" text-anchor="end">FABP7</text><text transform="translate(974.8 747.2) rotate(-90)" text-anchor="end">IGHV4-4</text><text transform="translate(982.9 747.2) rotate(-90)" text-anchor="end">IGLV8-61</text><text transform="translate(991.1 747.2) rotate(-90)" text-anchor="end">CR2</text><text transform="translate(999.2 747.2) rotate(-90)" text-anchor="end">CXCL13</text><text transform="translate(1007.3 747.2) rotate(-90)" text-anchor="end">TSPAN8</text><text transform="translate(1015.5 747.2) rotate(-90)" text-anchor="end">CXCL17</text></g>
<text x="813.4" y="815.8" font-size="10.5" fill="#333" text-anchor="middle">variable</text>
<defs><linearGradient id="vir" x1="0" y1="1" x2="0" y2="0"><stop offset="0.000" stop-color="#440154"/><stop offset="0.067" stop-color="#481a6c"/><stop offset="0.133" stop-color="#472f7d"/><stop offset="0.200" stop-color="#414487"/><stop offset="0.267" stop-color="#39568c"/><stop offset="0.333" stop-color="#31688e"/><stop offset="0.400" stop-color="#2a788e"/><stop offset="0.467" stop-color="#23898e"/><stop offset="0.533" stop-color="#1f9a8a"/><stop offset="0.600" stop-color="#22a884"/><stop offset="0.667" stop-color="#35b779"/><stop offset="0.733" stop-color="#54c568"/><stop offset="0.800" stop-color="#7ad151"/><stop offset="0.867" stop-color="#a5db36"/><stop offset="0.933" stop-color="#d2e21b"/><stop offset="1.000" stop-color="#fde725"/></linearGradient></defs>
<rect x="1024.3" y="373.5" width="16.4" height="360.5" fill="url(#vir)" stroke="#333" stroke-width="0.8"/>
<path d="M1037 734H1040.7M1037 685.7H1040.7M1037 637.4H1040.7M1037 589.1H1040.7M1037 540.8H1040.7M1037 492.5H1040.7M1037 444.2H1040.7M1037 396H1040.7" stroke="#333" stroke-width="1"/>
<g font-size="9.8" fill="#444"><text x="1045.8" y="737.6">0</text><text x="1045.8" y="689.3">2</text><text x="1045.8" y="641">4</text><text x="1045.8" y="592.7">6</text><text x="1045.8" y="544.4">8</text><text x="1045.8" y="496.1">10</text><text x="1045.8" y="447.8">12</text><text x="1045.8" y="399.6">14</text></g>
<path d="M1066 367.9H1073.5V369.4H1066M1066 370.9H1073.7V372.4H1066M1073.5 368.7H1074.9V371.7H1073.7M1066 373.9H1074.1V375.4H1066M1074.9 370.2H1077.7V374.6H1074.1M1066 378.4H1073.2V379.9H1066M1066 376.9H1074.4V379.1H1073.2M1066 382.8H1073V384.3H1066M1073 383.6H1075.7V385.8H1066M1066 381.4H1076.9V384.7H1075.7M1076.9 383H1078.1V387.3H1066M1074.4 378H1079.3V385.2H1078.1M1066 391.8H1073.4V393.3H1066M1066 390.3H1074.6V392.5H1073.4M1066 388.8H1075.8V391.4H1074.6M1079.3 381.6H1080.9V390.1H1075.8M1077.7 372.4H1083.2V385.8H1080.9M1066 396.2H1073.9V397.7H1066M1066 394.8H1075.5V397H1073.9M1075.5 395.9H1076.7V399.2H1066M1066 400.7H1073.6V402.2H1066M1073.6 401.5H1075.3V403.7H1066M1076.7 397.6H1078.2V402.6H1075.3M1083.2 379.1H1084.4V400.1H1078.2M1066 405.2H1072.9V406.7H1066M1072.9 405.9H1074.1V408.2H1066M1066 409.7H1072.4V411.1H1066M1074.1 407H1076.8V410.4H1072.4M1066 412.6H1073V414.1H1066M1066 417.1H1073.4V418.6H1066M1066 415.6H1075V417.8H1073.4M1075 416.7H1077V420.1H1066M1073 413.4H1078.2V418.4H1077M1076.8 408.7H1079.4V415.9H1078.2M1066 421.6H1073.8V423.1H1066M1066 426H1072.6V427.5H1066M1066 424.5H1075V426.8H1072.6M1075 425.7H1076.2V429H1066M1073.8 422.3H1077.8V427.3H1076.2M1079.4 412.3H1081.9V424.8H1077.8M1066 432H1073.3V433.5H1066M1073.3 432.7H1075.4V435H1066M1066 430.5H1077.2V433.9H1075.4M1066 436.5H1073.3V438H1066M1077.2 432.2H1079.1V437.2H1073.3M1079.1 434.7H1080.3V439.4H1066M1066 440.9H1072.3V442.4H1066M1080.3 437.1H1081.5V441.7H1072.3M1066 445.4H1073.1V446.9H1066M1073.1 446.1H1074.3V448.4H1066M1066 443.9H1076.8V447.3H1074.3M1066 451.4H1072.8V452.9H1066M1066 449.9H1074.2V452.1H1072.8M1076.8 445.6H1078V451H1074.2M1081.5 439.4H1084.2V448.3H1078M1081.9 418.6H1087.4V443.8H1084.2M1066 454.3H1074.4V455.8H1066M1066 458.8H1074.3V460.3H1066M1066 457.3H1075.5V459.6H1074.3M1066 461.8H1073.4V463.3H1066M1066 464.8H1073.3V466.3H1066M1073.4 462.5H1075.4V465.5H1073.3M1075.4 464H1076.6V467.7H1066M1075.5 458.4H1078.4V465.9H1076.6M1074.4 455.1H1079.6V462.2H1078.4M1066 470.7H1074.5V472.2H1066M1066 469.2H1076V471.5H1074.5M1079.6 458.6H1080.8V470.4H1076M1066 473.7H1073.2V475.2H1066M1066 476.7H1074.4V478.2H1066M1073.2 474.5H1075.6V477.4H1074.4M1075.6 475.9H1076.8V479.7H1066M1066 481.2H1073.9V482.6H1066M1066 484.1H1073.5V485.6H1066M1066 487.1H1072V488.6H1066M1073.5 484.9H1074.7V487.9H1072M1073.9 481.9H1076.4V486.4H1074.7M1076.8 477.8H1081.9V484.1H1076.4M1080.8 464.5H1087.8V481H1081.9M1087.4 431.2H1089.6V472.7H1087.8M1084.4 389.6H1101.9V452H1089.6M1066 493.1H1074.4V494.6H1066M1066 491.6H1075.6V493.8H1074.4M1066 490.1H1076.8V492.7H1075.6M1066 496.1H1072V497.5H1066M1076.8 491.4H1079V496.8H1072M1066 500.5H1072.5V502H1066M1072.5 501.3H1075.2V503.5H1066M1066 499H1076.4V502.4H1075.2M1066 505H1072.7V506.5H1066M1076.4 500.7H1079V505.7H1072.7M1079 503.2H1080.2V508H1066M1079 494.1H1081.4V505.6H1080.2M1066 509.5H1073.2V510.9H1066M1066 512.4H1072.8V513.9H1066M1073.2 510.2H1075.4V513.2H1072.8M1066 516.9H1073.7V518.4H1066M1066 515.4H1074.9V517.6H1073.7M1075.4 511.7H1076.6V516.5H1074.9M1066 519.9H1072.1V521.4H1066M1072.1 520.6H1075.3V522.9H1066M1076.6 514.1H1078V521.7H1075.3M1081.4 499.8H1087.2V517.9H1078M1101.9 420.8H1103.1V508.9H1087.2M1066 527.3H1074V528.8H1066M1074 528.1H1075.2V530.3H1066M1066 525.8H1076.4V529.2H1075.2M1066 524.4H1077.6V527.5H1076.4M1077.6 525.9H1078.8V531.8H1066M1066 533.3H1072.6V534.8H1066M1072.6 534H1073.8V536.3H1066M1073.8 535.2H1075V537.8H1066M1078.8 528.9H1080V536.5H1075M1066 540.7H1073.1V542.2H1066M1066 539.2H1075.2V541.5H1073.1M1075.2 540.4H1076.4V543.7H1066M1080 532.7H1083.7V542H1076.4M1066 545.2H1074.4V546.7H1066M1074.4 546H1075.6V548.2H1066M1075.6 547.1H1076.8V549.7H1066M1066 551.2H1072.2V552.7H1066M1072.2 551.9H1074.3V554.1H1066M1074.3 553H1075.7V555.6H1066M1066 557.1H1074V558.6H1066M1066 561.6H1073.6V563.1H1066M1066 560.1H1074.8V562.3H1073.6M1066 564.6H1073.8V566.1H1066M1066 567.6H1073.5V569H1066M1073.8 565.3H1075V568.3H1073.5M1074.8 561.2H1076.5V566.8H1075M1074 557.9H1081.2V564H1076.5M1066 573.5H1073.7V575H1066M1066 572H1075.1V574.3H1073.7M1075.1 573.1H1076.4V576.5H1066M1066 570.5H1077.6V574.8H1076.4M1081.2 560.9H1082.4V572.7H1077.6M1075.7 554.3H1083.6V566.8H1082.4M1076.8 548.4H1086.6V560.6H1083.6M1083.7 537.4H1091.5V554.5H1086.6M1066 581H1074.3V582.4H1066M1066 579.5H1075.5V581.7H1074.3M1075.5 580.6H1076.7V583.9H1066M1066 578H1077.9V582.3H1076.7M1066 585.4H1072V586.9H1066M1066 588.4H1073.9V589.9H1066M1066 591.4H1073.5V592.9H1066M1073.9 589.2H1076.8V592.1H1073.5M1076.8 590.6H1078V594.4H1066M1072 586.2H1079.4V592.5H1078M1066 595.9H1073.3V597.3H1066M1079.4 589.3H1081.1V596.6H1073.3M1066 598.8H1074.4V600.3H1066M1066 601.8H1074.1V603.3H1066M1074.4 599.6H1076.7V602.6H1074.1M1066 607.8H1074V609.3H1066M1066 606.3H1075.2V608.5H1074M1066 604.8H1076.4V607.4H1075.2M1076.7 601.1H1080.4V606.1H1076.4M1081.1 593H1085.5V603.6H1080.4M1077.9 580.1H1086.7V598.3H1085.5M1091.5 545.9H1092.7V589.2H1086.7M1066 610.7H1074.2V612.2H1066M1066 613.7H1073.3V615.2H1066M1066 618.2H1072.3V619.7H1066M1066 616.7H1074.3V618.9H1072.3M1073.3 614.5H1077V617.8H1074.3M1074.2 611.5H1078.2V616.1H1077M1066 621.2H1072.3V622.7H1066M1072.3 621.9H1073.7V624.2H1066M1073.7 623H1076.9V625.6H1066M1076.9 624.3H1078.1V627.1H1066M1078.1 625.7H1079.3V628.6H1066M1079.3 627.2H1080.5V630.1H1066M1078.2 613.8H1081.7V628.6H1080.5M1066 636.1H1074.1V637.6H1066M1066 634.6H1075.3V636.8H1074.1M1066 633.1H1076.5V635.7H1075.3M1076.5 634.4H1077.7V639.1H1066M1066 640.5H1072.1V642H1066M1077.7 636.7H1078.9V641.3H1072.1M1066 631.6H1080.1V639H1078.9M1066 645H1074V646.5H1066M1066 643.5H1075.2V645.8H1074M1080.1 635.3H1081.3V644.6H1075.2M1081.7 621.2H1087.2V640H1081.3M1066 649.5H1073V651H1066M1073 650.2H1074.2V652.5H1066M1066 648H1075.4V651.3H1074.2M1075.4 649.7H1077.7V653.9H1066M1066 655.4H1074.2V656.9H1066M1066 658.4H1072.7V659.9H1066M1074.2 656.2H1075.4V659.2H1072.7M1075.4 657.7H1076.6V661.4H1066M1077.7 651.8H1078.9V659.5H1076.6M1066 664.4H1072.9V665.9H1066M1066 662.9H1074.2V665.1H1072.9M1078.9 655.7H1080.6V664H1074.2M1066 668.8H1073.8V670.3H1066M1073.8 669.6H1075.5V671.8H1066M1066 667.4H1077.1V670.7H1075.5M1080.6 659.8H1081.8V669H1077.1M1087.2 630.6H1089.9V664.4H1081.8M1066 673.3H1073.4V674.8H1066M1073.4 674.1H1075.5V676.3H1066M1066 677.8H1074.4V679.3H1066M1075.5 675.2H1076.7V678.5H1074.4M1066 682.3H1074.3V683.7H1066M1066 685.2H1072V686.7H1066M1074.3 683H1075.5V686H1072M1066 680.8H1078.1V684.5H1075.5M1076.7 676.9H1082.1V682.6H1078.1M1066 688.2H1074.1V689.7H1066M1066 691.2H1072.2V692.7H1066M1074.1 689H1076.7V691.9H1072.2M1082.1 679.7H1083.3V690.4H1076.7M1066 697.1H1073.2V698.6H1066M1066 695.7H1074.4V697.9H1073.2M1074.4 696.8H1075.6V700.1H1066M1075.6 698.4H1076.8V701.6H1066M1066 694.2H1078V700H1076.8M1066 703.1H1072.8V704.6H1066M1078 697.1H1079.2V703.8H1072.8M1066 706.1H1074V707.6H1066M1074 706.8H1075.2V709.1H1066M1075.2 707.9H1076.4V710.6H1066M1079.2 700.5H1080.4V709.2H1076.4M1066 713.5H1072.4V715H1066M1066 712H1073.7V714.3H1072.4M1073.7 713.2H1076.4V716.5H1066M1066 719.5H1073.6V721H1066M1066 718H1074.8V720.2H1073.6M1074.8 719.1H1076V722.5H1066M1076.4 714.8H1080V720.8H1076M1066 725.4H1073.8V726.9H1066M1066 724H1075V726.2H1073.8M1080 717.8H1081.2V725.1H1075M1080.4 704.9H1082.4V721.4H1081.2M1066 728.4H1073.7V729.9H1066M1073.7 729.2H1074.9V731.4H1066M1066 734.4H1073.5V735.9H1066M1066 732.9H1075V735.1H1073.5M1074.9 730.3H1077.8V734H1075M1066 737.4H1072.9V738.9H1066M1077.8 732.2H1079.3V738.1H1072.9M1082.4 713.2H1090.5V735.1H1079.3M1083.3 685.1H1091.7V724.1H1090.5M1089.9 647.5H1096.5V704.6H1091.7M1092.7 567.6H1100.8V676.1H1096.5M1103.1 464.8H1114.4V621.8H1100.8" fill="none" stroke="#333" stroke-width="1.15" />
</svg></body></html>
